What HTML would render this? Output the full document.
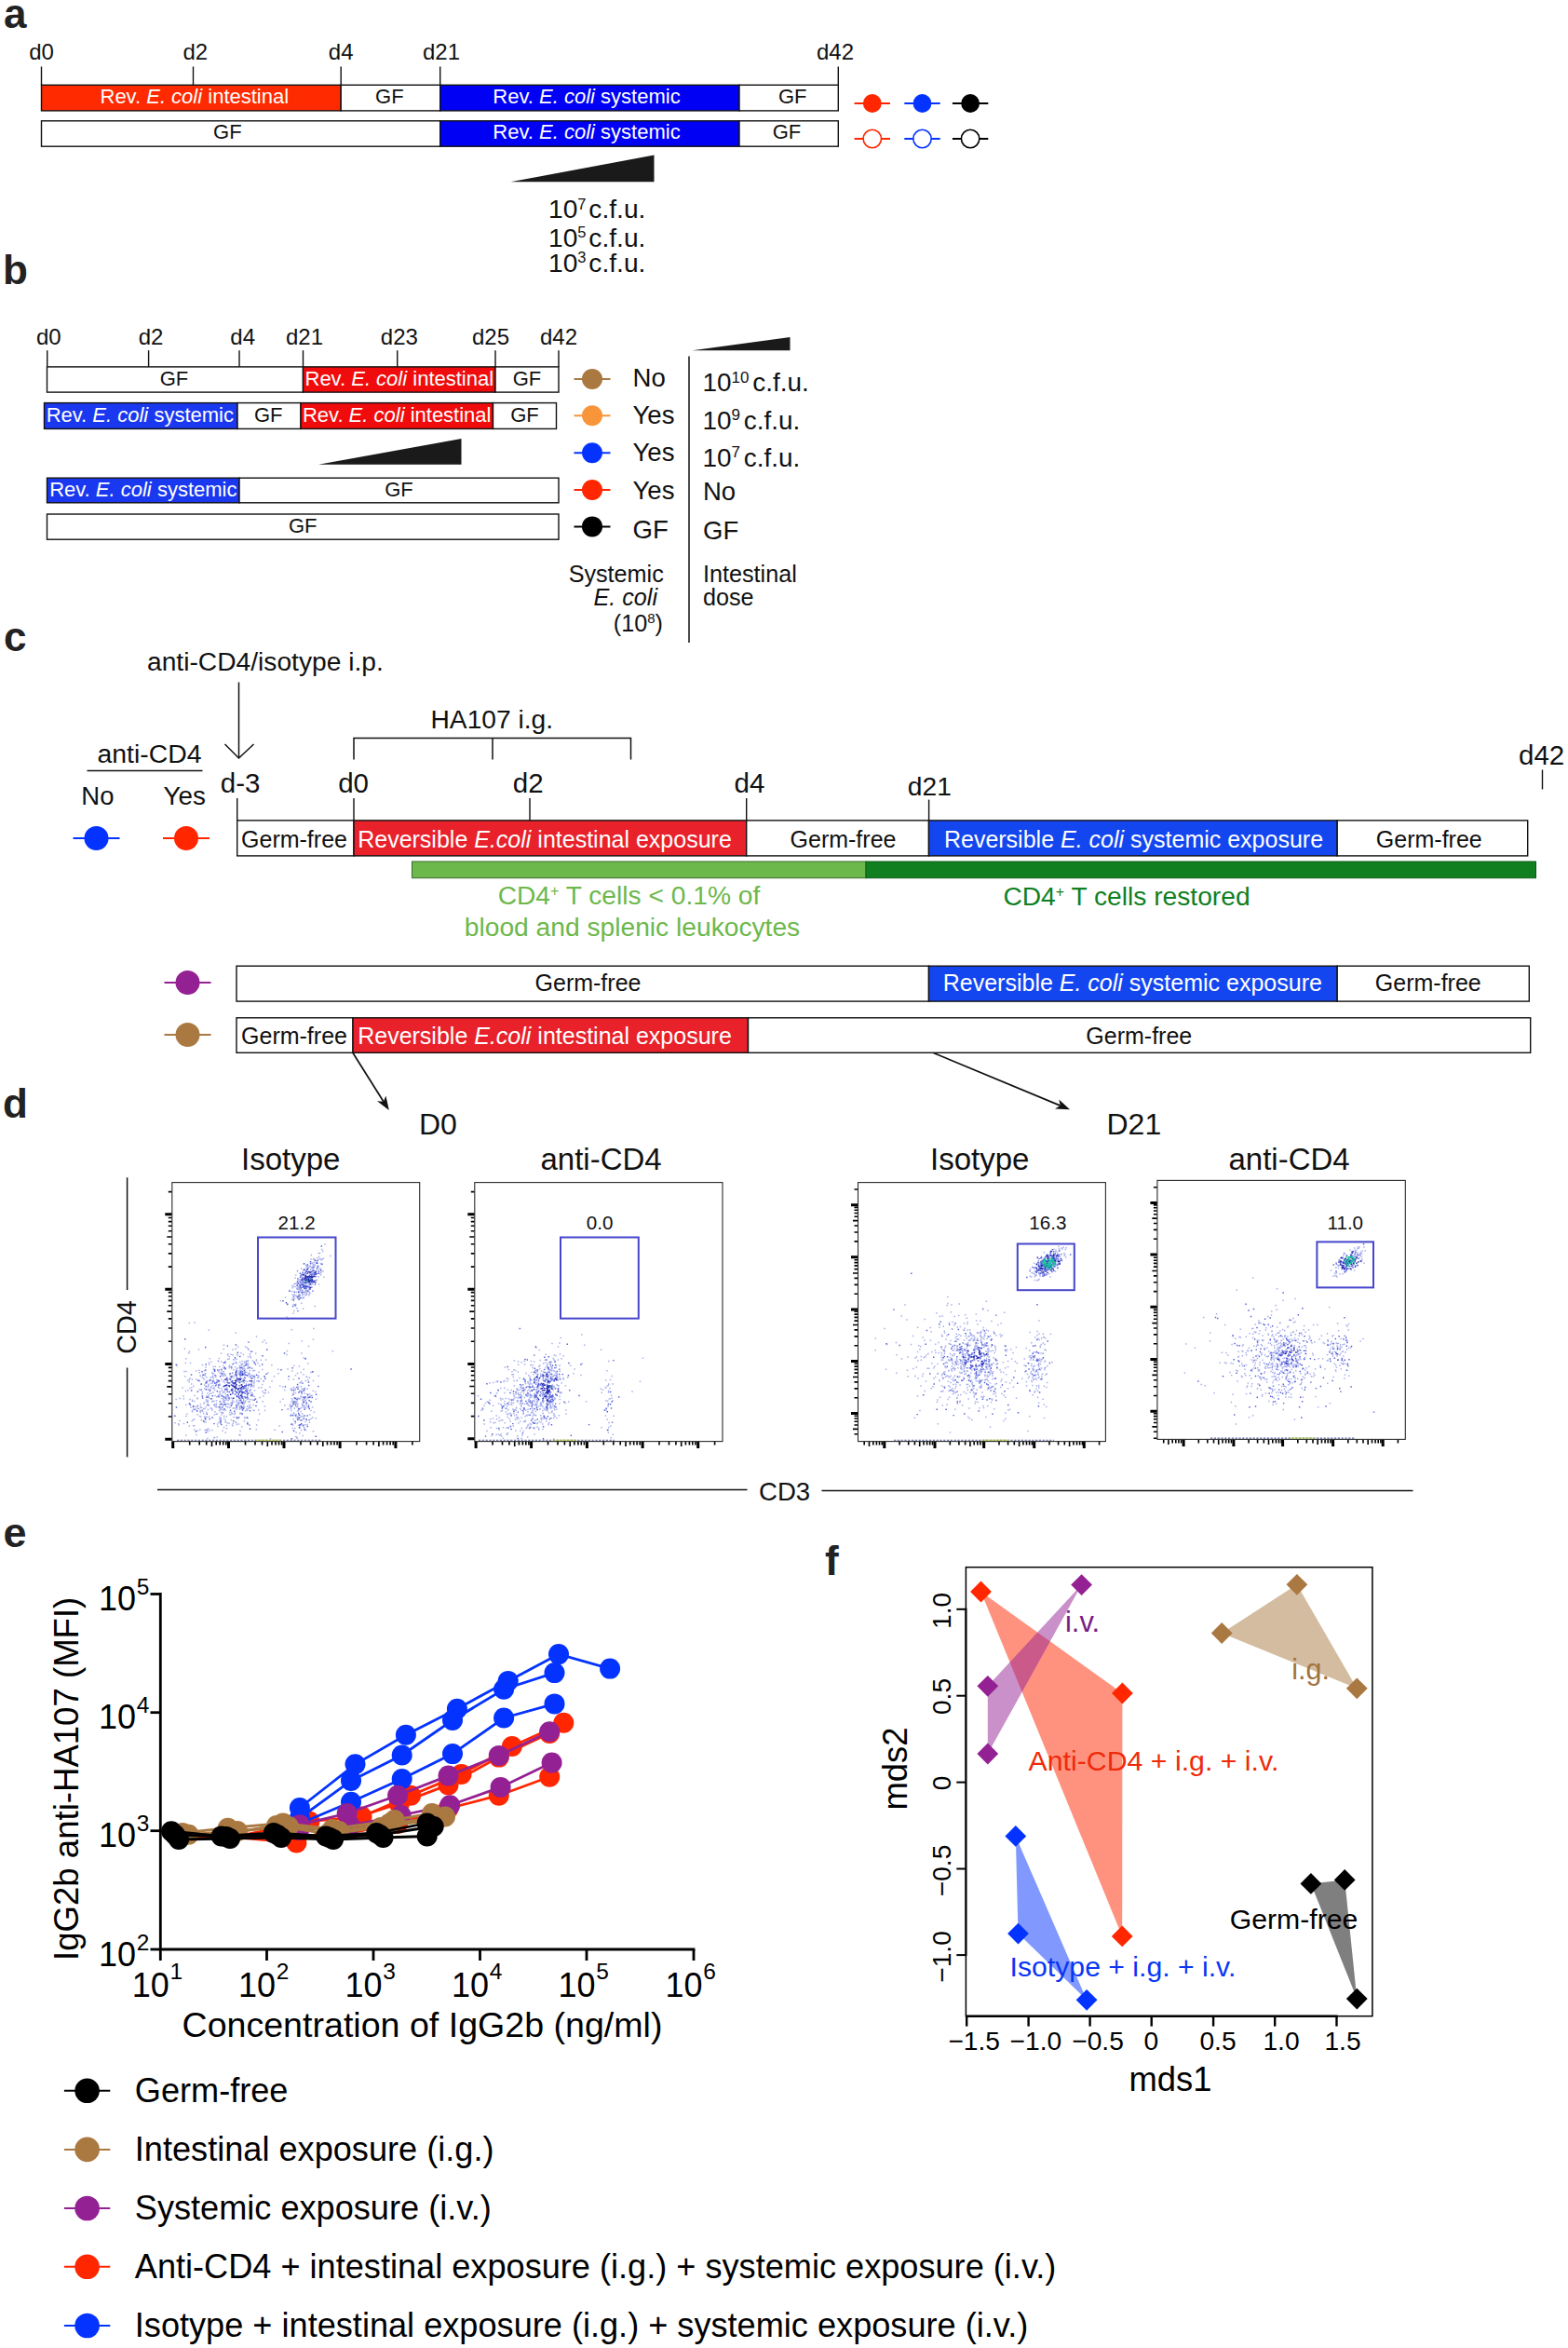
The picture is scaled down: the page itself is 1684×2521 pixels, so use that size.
<!DOCTYPE html>
<html lang="en"><head><meta charset="utf-8"><title>Figure</title>
<style>
html,body{margin:0;padding:0;background:#fff}
svg{display:block;font-family:"Liberation Sans",sans-serif}
text{white-space:pre}
</style></head><body>
<svg width="1684" height="2521" viewBox="0 0 1684 2521">
<rect width="1684" height="2521" fill="#fff"/>
<text x="4.0" y="29.5" font-size="44" text-anchor="start" fill="#222" font-weight="bold">a</text>
<line x1="44.5" y1="71.5" x2="44.5" y2="91.5" stroke="#111" stroke-width="1.4" />
<line x1="207.5" y1="71.5" x2="207.5" y2="91.5" stroke="#111" stroke-width="1.4" />
<line x1="366.2" y1="71.5" x2="366.2" y2="91.5" stroke="#111" stroke-width="1.4" />
<line x1="472.7" y1="71.5" x2="472.7" y2="91.5" stroke="#111" stroke-width="1.4" />
<line x1="900.3" y1="71.5" x2="900.3" y2="91.5" stroke="#111" stroke-width="1.4" />
<text x="31.2" y="63.6" font-size="24" text-anchor="start" fill="#111" >d0</text>
<text x="196.5" y="63.6" font-size="24" text-anchor="start" fill="#111" >d2</text>
<text x="352.8" y="63.6" font-size="24" text-anchor="start" fill="#111" >d4</text>
<text x="454.0" y="63.6" font-size="24" text-anchor="start" fill="#111" >d21</text>
<text x="877.0" y="63.6" font-size="24" text-anchor="start" fill="#111" >d42</text>
<rect x="44.5" y="91.3" width="321.7" height="27.6" fill="#ff2a00" stroke="#111" stroke-width="1.4"/>
<rect x="366.2" y="91.3" width="106.5" height="27.6" fill="#fff" stroke="#111" stroke-width="1.4"/>
<rect x="472.7" y="91.3" width="321.3" height="27.6" fill="#0000f5" stroke="#111" stroke-width="1.4"/>
<rect x="794.0" y="91.3" width="106.3" height="27.6" fill="#fff" stroke="#111" stroke-width="1.4"/>
<text x="208.8" y="111.3" font-size="22" text-anchor="middle" fill="#fff" >Rev. <tspan font-style="italic">E. coli</tspan> intestinal</text>
<text x="418.3" y="111.3" font-size="22" text-anchor="middle" fill="#111" >GF</text>
<text x="630.0" y="111.3" font-size="22" text-anchor="middle" fill="#fff" >Rev. <tspan font-style="italic">E. coli</tspan> systemic</text>
<text x="851.2" y="111.3" font-size="22" text-anchor="middle" fill="#111" >GF</text>
<rect x="44.5" y="129.8" width="428.2" height="27.4" fill="#fff" stroke="#111" stroke-width="1.4"/>
<rect x="472.7" y="129.8" width="321.3" height="27.4" fill="#0000f5" stroke="#111" stroke-width="1.4"/>
<rect x="794.0" y="129.8" width="106.3" height="27.4" fill="#fff" stroke="#111" stroke-width="1.4"/>
<text x="244.3" y="149.3" font-size="22" text-anchor="middle" fill="#111" >GF</text>
<text x="630.0" y="149.3" font-size="22" text-anchor="middle" fill="#fff" >Rev. <tspan font-style="italic">E. coli</tspan> systemic</text>
<text x="845.0" y="149.3" font-size="22" text-anchor="middle" fill="#111" >GF</text>
<polygon points="548.5,195.3 702.5,166.5 702.5,195.3" fill="#1a1a1a"/>
<text x="589.0" y="234.0" font-size="28.2" fill="#111">10<tspan font-size="16.5" dy="-9.5">7 </tspan><tspan x="632.3" dy="9.5">c.f.u.</tspan></text>
<text x="589.0" y="264.5" font-size="28.2" fill="#111">10<tspan font-size="16.5" dy="-9.5">5 </tspan><tspan x="632.3" dy="9.5">c.f.u.</tspan></text>
<text x="589.0" y="291.5" font-size="28.2" fill="#111">10<tspan font-size="16.5" dy="-9.5">3 </tspan><tspan x="632.3" dy="9.5">c.f.u.</tspan></text>
<line x1="917.6" y1="111.0" x2="956.0" y2="111.0" stroke="#ff2600" stroke-width="2" />
<circle cx="936.8" cy="111.0" r="9.9" fill="#ff2600"/>
<line x1="917.6" y1="149.0" x2="956.0" y2="149.0" stroke="#ff2600" stroke-width="2" />
<circle cx="936.8" cy="149.0" r="9.7" fill="#fff" stroke="#ff2600" stroke-width="1.6"/>
<line x1="971.3" y1="111.0" x2="1009.7" y2="111.0" stroke="#0433ff" stroke-width="2" />
<circle cx="990.5" cy="111.0" r="9.9" fill="#0433ff"/>
<line x1="971.3" y1="149.0" x2="1009.7" y2="149.0" stroke="#0433ff" stroke-width="2" />
<circle cx="990.5" cy="149.0" r="9.7" fill="#fff" stroke="#0433ff" stroke-width="1.6"/>
<line x1="1022.9" y1="111.0" x2="1061.3" y2="111.0" stroke="#000" stroke-width="2" />
<circle cx="1042.1" cy="111.0" r="9.9" fill="#000"/>
<line x1="1022.9" y1="149.0" x2="1061.3" y2="149.0" stroke="#000" stroke-width="2" />
<circle cx="1042.1" cy="149.0" r="9.7" fill="#fff" stroke="#000" stroke-width="1.6"/>
<text x="3.0" y="305.0" font-size="44" text-anchor="start" fill="#222" font-weight="bold">b</text>
<line x1="50.7" y1="376.2" x2="50.7" y2="393.9" stroke="#111" stroke-width="1.4" />
<line x1="159.6" y1="376.2" x2="159.6" y2="393.9" stroke="#111" stroke-width="1.4" />
<line x1="257.0" y1="376.2" x2="257.0" y2="393.9" stroke="#111" stroke-width="1.4" />
<line x1="325.5" y1="376.2" x2="325.5" y2="393.9" stroke="#111" stroke-width="1.4" />
<line x1="426.7" y1="376.2" x2="426.7" y2="393.9" stroke="#111" stroke-width="1.4" />
<line x1="532.0" y1="376.2" x2="532.0" y2="393.9" stroke="#111" stroke-width="1.4" />
<line x1="600.0" y1="376.2" x2="600.0" y2="393.9" stroke="#111" stroke-width="1.4" />
<text x="39.0" y="370.0" font-size="24" text-anchor="start" fill="#111" >d0</text>
<text x="148.7" y="370.0" font-size="24" text-anchor="start" fill="#111" >d2</text>
<text x="247.3" y="370.0" font-size="24" text-anchor="start" fill="#111" >d4</text>
<text x="307.0" y="370.0" font-size="24" text-anchor="start" fill="#111" >d21</text>
<text x="408.8" y="370.0" font-size="24" text-anchor="start" fill="#111" >d23</text>
<text x="507.0" y="370.0" font-size="24" text-anchor="start" fill="#111" >d25</text>
<text x="580.0" y="370.0" font-size="24" text-anchor="start" fill="#111" >d42</text>
<rect x="50.5" y="393.9" width="275.0" height="27.2" fill="#fff" stroke="#111" stroke-width="1.4"/>
<rect x="325.5" y="393.9" width="206.5" height="27.2" fill="#f00c0c" stroke="#111" stroke-width="1.4"/>
<rect x="532.0" y="393.9" width="68.0" height="27.2" fill="#fff" stroke="#111" stroke-width="1.4"/>
<text x="187.0" y="413.6" font-size="22" text-anchor="middle" fill="#111" >GF</text>
<text x="428.8" y="413.6" font-size="22" text-anchor="middle" fill="#fff" >Rev. <tspan font-style="italic">E. coli</tspan> intestinal</text>
<text x="566.0" y="413.6" font-size="22" text-anchor="middle" fill="#111" >GF</text>
<rect x="47.5" y="432.6" width="207.5" height="27.8" fill="#1a38f0" stroke="#111" stroke-width="1.4"/>
<rect x="255.0" y="432.6" width="68.0" height="27.8" fill="#fff" stroke="#111" stroke-width="1.4"/>
<rect x="323.0" y="432.6" width="206.5" height="27.8" fill="#f00c0c" stroke="#111" stroke-width="1.4"/>
<rect x="529.5" y="432.6" width="68.0" height="27.8" fill="#fff" stroke="#111" stroke-width="1.4"/>
<text x="150.3" y="453.2" font-size="22" text-anchor="middle" fill="#fff" >Rev. <tspan font-style="italic">E. coli</tspan> systemic</text>
<text x="288.2" y="453.2" font-size="22" text-anchor="middle" fill="#111" >GF</text>
<text x="426.2" y="453.2" font-size="22" text-anchor="middle" fill="#fff" >Rev. <tspan font-style="italic">E. coli</tspan> intestinal</text>
<text x="563.5" y="453.2" font-size="22" text-anchor="middle" fill="#111" >GF</text>
<polygon points="342,498.8 495.5,471 495.5,498.8" fill="#1a1a1a"/>
<rect x="50.5" y="513.2" width="206.5" height="26.6" fill="#1a38f0" stroke="#111" stroke-width="1.4"/>
<rect x="257.0" y="513.2" width="343.0" height="26.6" fill="#fff" stroke="#111" stroke-width="1.4"/>
<text x="153.8" y="533.2" font-size="22" text-anchor="middle" fill="#fff" >Rev. <tspan font-style="italic">E. coli</tspan> systemic</text>
<text x="428.5" y="533.2" font-size="22" text-anchor="middle" fill="#111" >GF</text>
<rect x="50.5" y="552.0" width="549.5" height="27.2" fill="#fff" stroke="#111" stroke-width="1.4"/>
<text x="325.2" y="571.8" font-size="22" text-anchor="middle" fill="#111" >GF</text>
<line x1="616.5" y1="406.9" x2="655.5" y2="406.9" stroke="#aa7942" stroke-width="2" />
<circle cx="636.0" cy="406.9" r="11" fill="#aa7942"/>
<text x="679.5" y="414.5" font-size="27.6" text-anchor="start" fill="#111" >No</text>
<line x1="616.5" y1="446.3" x2="655.5" y2="446.3" stroke="#f8943a" stroke-width="2" />
<circle cx="636.0" cy="446.3" r="11" fill="#f8943a"/>
<text x="679.5" y="455.2" font-size="27.6" text-anchor="start" fill="#111" >Yes</text>
<line x1="616.5" y1="486.2" x2="655.5" y2="486.2" stroke="#0433ff" stroke-width="2" />
<circle cx="636.0" cy="486.2" r="11" fill="#0433ff"/>
<text x="679.5" y="495.2" font-size="27.6" text-anchor="start" fill="#111" >Yes</text>
<line x1="616.5" y1="526.0" x2="655.5" y2="526.0" stroke="#ff2600" stroke-width="2" />
<circle cx="636.0" cy="526.0" r="11" fill="#ff2600"/>
<text x="679.5" y="536.2" font-size="27.6" text-anchor="start" fill="#111" >Yes</text>
<line x1="616.5" y1="565.4" x2="655.5" y2="565.4" stroke="#000" stroke-width="2" />
<circle cx="636.0" cy="565.4" r="11" fill="#000"/>
<text x="679.5" y="577.8" font-size="27.6" text-anchor="start" fill="#111" >GF</text>
<line x1="740.0" y1="382.5" x2="740.0" y2="690.0" stroke="#111" stroke-width="1.5" />
<polygon points="743.5,376.3 848.5,362 848.5,376.3" fill="#1a1a1a"/>
<text x="754.5" y="420.0" font-size="27.9" fill="#111">10<tspan font-size="17" dy="-9.5">10 </tspan><tspan x="808.3" dy="9.5">c.f.u.</tspan></text>
<text x="754.5" y="460.6" font-size="27.9" fill="#111">10<tspan font-size="17" dy="-9.5">9 </tspan><tspan x="798.8" dy="9.5">c.f.u.</tspan></text>
<text x="754.5" y="500.8" font-size="27.9" fill="#111">10<tspan font-size="17" dy="-9.5">7 </tspan><tspan x="798.8" dy="9.5">c.f.u.</tspan></text>
<text x="755.0" y="536.6" font-size="27.5" text-anchor="start" fill="#111" >No</text>
<text x="755.0" y="578.6" font-size="27.5" text-anchor="start" fill="#111" >GF</text>
<text x="712.8" y="625.0" font-size="25.2" text-anchor="end" fill="#111" >Systemic</text>
<text x="706.0" y="650.0" font-size="25.2" text-anchor="end" fill="#111" ><tspan font-style="italic">E. coli</tspan></text>
<text x="712.0" y="677.5" font-size="25.2" text-anchor="end" fill="#111" >(10<tspan font-size="15" dy="-8.5">8</tspan><tspan dy="8.5">)</tspan></text>
<text x="755.0" y="625.0" font-size="25.2" text-anchor="start" fill="#111" >Intestinal</text>
<text x="755.0" y="650.0" font-size="25.2" text-anchor="start" fill="#111" >dose</text>
<text x="4.0" y="698.6" font-size="44" text-anchor="start" fill="#222" font-weight="bold">c</text>
<text x="158.0" y="720.0" font-size="28.2" text-anchor="start" fill="#111" >anti-CD4/isotype i.p.</text>
<line x1="256.5" y1="732.5" x2="256.5" y2="813.0" stroke="#111" stroke-width="1.5" />
<polyline points="241.5,799 256.5,814 272.5,799" fill="none" stroke="#111" stroke-width="1.5"/>
<text x="462.5" y="781.5" font-size="28.2" text-anchor="start" fill="#111" >HA107 i.g.</text>
<polyline points="380,815.6 380,792.5 677.5,792.5 677.5,815.6" fill="none" stroke="#111" stroke-width="1.5"/>
<line x1="529.0" y1="792.5" x2="529.0" y2="815.6" stroke="#111" stroke-width="1.5" />
<text x="104.5" y="819.0" font-size="28.4" text-anchor="start" fill="#111" >anti-CD4</text>
<line x1="93.5" y1="827.5" x2="217.5" y2="827.5" stroke="#111" stroke-width="1.5" />
<text x="87.3" y="864.0" font-size="27.5" text-anchor="start" fill="#111" >No</text>
<text x="175.5" y="864.0" font-size="27.8" text-anchor="start" fill="#111" >Yes</text>
<line x1="78.5" y1="900.0" x2="128.5" y2="900.0" stroke="#0433ff" stroke-width="2" />
<circle cx="103.5" cy="900.0" r="13" fill="#0433ff"/>
<line x1="175.0" y1="900.0" x2="225.0" y2="900.0" stroke="#ff2600" stroke-width="2" />
<circle cx="200.0" cy="900.0" r="13" fill="#ff2600"/>
<text x="236.8" y="850.5" font-size="29.5" text-anchor="start" fill="#111" >d-3</text>
<text x="363.2" y="850.5" font-size="29.5" text-anchor="start" fill="#111" >d0</text>
<text x="550.8" y="850.5" font-size="29.5" text-anchor="start" fill="#111" >d2</text>
<text x="788.5" y="850.5" font-size="29.5" text-anchor="start" fill="#111" >d4</text>
<text x="974.8" y="854.4" font-size="28.2" text-anchor="start" fill="#111" >d21</text>
<text x="1631.0" y="821.0" font-size="29.5" text-anchor="start" fill="#111" >d42</text>
<line x1="254.7" y1="857.0" x2="254.7" y2="881.0" stroke="#111" stroke-width="1.4" />
<line x1="380.0" y1="857.0" x2="380.0" y2="881.0" stroke="#111" stroke-width="1.4" />
<line x1="569.0" y1="857.0" x2="569.0" y2="881.0" stroke="#111" stroke-width="1.4" />
<line x1="801.7" y1="857.0" x2="801.7" y2="881.0" stroke="#111" stroke-width="1.4" />
<line x1="997.6" y1="858.6" x2="997.6" y2="881.0" stroke="#111" stroke-width="1.4" />
<line x1="1656.5" y1="826.5" x2="1656.5" y2="847.5" stroke="#111" stroke-width="1.4" />
<rect x="254.7" y="880.9" width="125.3" height="38.0" fill="#fff" stroke="#111" stroke-width="1.4"/>
<rect x="380.0" y="880.9" width="421.7" height="38.0" fill="#e8212b" stroke="#111" stroke-width="1.4"/>
<rect x="801.7" y="880.9" width="195.8" height="38.0" fill="#fff" stroke="#111" stroke-width="1.4"/>
<rect x="997.5" y="880.9" width="438.7" height="38.0" fill="#1446f0" stroke="#111" stroke-width="1.4"/>
<rect x="1436.2" y="880.9" width="204.5" height="38.0" fill="#fff" stroke="#111" stroke-width="1.4"/>
<text x="316.0" y="909.5" font-size="25" text-anchor="middle" fill="#111" >Germ-free</text>
<text x="585.0" y="909.5" font-size="25" text-anchor="middle" fill="#fff" >Reversible <tspan font-style="italic">E.coli</tspan> intestinal exposure</text>
<text x="905.5" y="909.5" font-size="25" text-anchor="middle" fill="#111" >Germ-free</text>
<text x="1217.5" y="909.5" font-size="25" text-anchor="middle" fill="#fff" >Reversible <tspan font-style="italic">E. coli</tspan> systemic exposure</text>
<text x="1534.8" y="909.5" font-size="25" text-anchor="middle" fill="#111" >Germ-free</text>
<rect x="442.5" y="925.0" width="487.5" height="17.7" fill="#6db84b" stroke="#3a6a2a" stroke-width="1"/>
<rect x="930.0" y="925.0" width="719.5" height="17.7" fill="#0f7f1f" stroke="#0a5a15" stroke-width="1"/>
<text x="675.5" y="971.0" font-size="28.2" text-anchor="middle" fill="#6db84b" >CD4<tspan font-size="16" dy="-9">+</tspan><tspan dy="9"> T cells &lt; 0.1% of</tspan></text>
<text x="679.0" y="1005.0" font-size="28.2" text-anchor="middle" fill="#6db84b" >blood and splenic leukocytes</text>
<text x="1210.0" y="972.0" font-size="28.2" text-anchor="middle" fill="#0f7f1f" >CD4<tspan font-size="16" dy="-9">+</tspan><tspan dy="9"> T cells restored</tspan></text>
<line x1="176.5" y1="1055.0" x2="226.5" y2="1055.0" stroke="#942193" stroke-width="2" />
<circle cx="201.5" cy="1055.0" r="13" fill="#942193"/>
<line x1="176.5" y1="1111.0" x2="226.5" y2="1111.0" stroke="#aa7942" stroke-width="2" />
<circle cx="201.5" cy="1111.0" r="13" fill="#aa7942"/>
<rect x="254.0" y="1037.2" width="743.5" height="37.9" fill="#fff" stroke="#111" stroke-width="1.4"/>
<rect x="997.5" y="1037.2" width="438.7" height="37.9" fill="#1446f0" stroke="#111" stroke-width="1.4"/>
<rect x="1436.2" y="1037.2" width="206.1" height="37.9" fill="#fff" stroke="#111" stroke-width="1.4"/>
<text x="631.5" y="1064.4" font-size="25" text-anchor="middle" fill="#111" >Germ-free</text>
<text x="1216.3" y="1064.4" font-size="25" text-anchor="middle" fill="#fff" >Reversible <tspan font-style="italic">E. coli</tspan> systemic exposure</text>
<text x="1533.8" y="1064.4" font-size="25" text-anchor="middle" fill="#111" >Germ-free</text>
<rect x="254.0" y="1092.8" width="125.0" height="37.5" fill="#fff" stroke="#111" stroke-width="1.4"/>
<rect x="379.0" y="1092.8" width="424.5" height="37.5" fill="#e8212b" stroke="#111" stroke-width="1.4"/>
<rect x="803.5" y="1092.8" width="840.2" height="37.5" fill="#fff" stroke="#111" stroke-width="1.4"/>
<text x="316.0" y="1120.6" font-size="25" text-anchor="middle" fill="#111" >Germ-free</text>
<text x="585.0" y="1120.6" font-size="25" text-anchor="middle" fill="#fff" >Reversible <tspan font-style="italic">E.coli</tspan> intestinal exposure</text>
<text x="1223.3" y="1120.6" font-size="25" text-anchor="middle" fill="#111" >Germ-free</text>
<line x1="379.0" y1="1130.5" x2="411.9" y2="1182.7" stroke="#111" stroke-width="1.7" />
<polygon points="417.8,1192.0 405.1,1182.2 411.9,1182.7 414.4,1176.4" fill="#111"/>
<line x1="1002.5" y1="1130.5" x2="1138.8" y2="1187.1" stroke="#111" stroke-width="1.7" />
<polygon points="1149.0,1191.3 1133.0,1190.6 1138.8,1187.1 1137.3,1180.5" fill="#111"/>
<text x="3.0" y="1200.0" font-size="44" text-anchor="start" fill="#222" font-weight="bold">d</text>
<text x="450.0" y="1217.5" font-size="32" text-anchor="start" fill="#111" >D0</text>
<text x="1188.5" y="1217.5" font-size="32" text-anchor="start" fill="#111" >D21</text>
<text x="259.0" y="1255.7" font-size="33" text-anchor="start" fill="#111" >Isotype</text>
<text x="580.5" y="1255.7" font-size="33" text-anchor="start" fill="#111" >anti-CD4</text>
<text x="999.0" y="1255.7" font-size="33" text-anchor="start" fill="#111" >Isotype</text>
<text x="1319.5" y="1255.7" font-size="33" text-anchor="start" fill="#111" >anti-CD4</text>
<line x1="136.6" y1="1264.3" x2="136.6" y2="1385.0" stroke="#111" stroke-width="1.5" />
<line x1="136.6" y1="1468.5" x2="136.6" y2="1564.4" stroke="#111" stroke-width="1.5" />
<text transform="translate(146,1425) rotate(-90)" font-size="28.8" text-anchor="middle" fill="#111">CD4</text>
<line x1="169.0" y1="1599.5" x2="802.5" y2="1599.5" stroke="#111" stroke-width="1.5" />
<line x1="882.5" y1="1600.5" x2="1517.5" y2="1600.5" stroke="#111" stroke-width="1.5" />
<text x="815.0" y="1611.0" font-size="27.6" text-anchor="start" fill="#111" >CD3</text>
<path d="M203.7,1547.6v4M214.2,1547.6v4M221.7,1547.6v4M227.5,1547.6v5.5M232.2,1547.6v4M236.2,1547.6v4M239.7,1547.6v4M242.8,1547.6v4M263.5,1547.6v4M274.0,1547.6v4M281.5,1547.6v4M287.3,1547.6v5.5M292.0,1547.6v4M296.0,1547.6v4M299.5,1547.6v4M302.6,1547.6v4M323.0,1547.6v4M333.5,1547.6v4M341.0,1547.6v4M346.8,1547.6v5.5M351.5,1547.6v4M355.5,1547.6v4M359.0,1547.6v4M362.1,1547.6v4M383.1,1547.6v4M393.6,1547.6v4M401.1,1547.6v4M406.9,1547.6v5.5M411.6,1547.6v4M415.6,1547.6v4M419.1,1547.6v4M422.2,1547.6v4M442.9,1547.6v4M184.8,1279.6h-4M184.8,1360.1h-4M184.8,1345.9h-4M184.8,1335.8h-4M184.8,1328.0h-5.5M184.8,1321.7h-4M184.8,1316.3h-4M184.8,1311.6h-4M184.8,1307.5h-4M184.8,1440.2h-4M184.8,1426.0h-4M184.8,1415.9h-4M184.8,1408.1h-5.5M184.8,1401.8h-4M184.8,1396.4h-4M184.8,1391.7h-4M184.8,1387.6h-4M184.8,1521.0h-4M184.8,1506.8h-4M184.8,1496.7h-4M184.8,1488.9h-5.5M184.8,1482.6h-4M184.8,1477.2h-4M184.8,1472.5h-4M184.8,1468.4h-4" stroke="#000" stroke-width="1.6" fill="none"/>
<path d="M185.7,1547.6v7.5M245.5,1547.6v7.5M305.0,1547.6v7.5M365.1,1547.6v7.5M424.9,1547.6v7.5M184.8,1303.8h-7.5M184.8,1384.3h-7.5M184.8,1464.4h-7.5M184.8,1545.2h-7.5" stroke="#000" stroke-width="3" fill="none"/>
<rect x="184.8" y="1269.6" width="265.9" height="278.0" fill="#fff" stroke="#2a2a2a" stroke-width="1.1"/>
<path d="M230.3,1498.6h1.5M267.4,1475.5h1.5M228.1,1490.6h1.5M261.5,1507.3h1.5M230.5,1467.2h1.5M264.1,1494.9h1.5M239.5,1468.9h1.5M268.5,1488.8h1.5M218.4,1506.3h1.5M226.2,1488.8h1.5M225.1,1492.2h1.5M239.7,1494.2h1.5M293.7,1477.7h1.5M265.6,1460.7h1.5M262.4,1471.1h1.5M277.4,1473.2h1.5M263.8,1486.1h1.5M266.9,1474.0h1.5M270.4,1496.1h1.5M264.8,1494.6h1.5M258.1,1476.2h1.5M234.7,1483.4h1.5M262.8,1514.7h1.5M267.2,1505.0h1.5M264.9,1498.9h1.5M258.1,1502.0h1.5M276.3,1476.8h1.5M241.4,1526.8h1.5M266.0,1464.2h1.5M283.8,1514.4h1.5M258.0,1501.6h1.5M257.5,1471.0h1.5M253.6,1495.3h1.5M256.7,1513.3h1.5M240.0,1505.1h1.5M268.7,1479.3h1.5M218.4,1476.1h1.5M258.7,1497.2h1.5M265.2,1529.1h1.5M267.5,1467.9h1.5M247.3,1493.3h1.5M257.3,1516.9h1.5M254.3,1523.2h1.5M264.2,1512.7h1.5M263.5,1491.8h1.5M217.7,1479.8h1.5M243.2,1479.7h1.5M262.7,1480.0h1.5M265.0,1487.3h1.5M260.9,1502.9h1.5M246.0,1485.0h1.5M272.6,1480.5h1.5M246.0,1466.1h1.5M257.9,1491.4h1.5M280.9,1486.4h1.5M239.7,1444.3h1.5M272.1,1487.5h1.5M222.2,1496.0h1.5M268.8,1495.6h1.5M252.3,1448.3h1.5M253.3,1459.2h1.5M262.8,1446.1h1.5M236.9,1513.5h1.5M274.8,1461.1h1.5M223.8,1508.9h1.5M265.8,1467.0h1.5M241.4,1476.9h1.5M231.0,1478.6h1.5M270.3,1497.4h1.5M279.5,1480.5h1.5M253.2,1469.9h1.5M253.4,1463.7h1.5M218.7,1506.2h1.5M272.5,1499.6h1.5M271.2,1488.9h1.5M240.9,1491.7h1.5M248.1,1468.2h1.5M246.0,1516.2h1.5M214.6,1507.7h1.5M241.5,1514.6h1.5M264.7,1446.7h1.5M264.2,1473.3h1.5M240.1,1482.0h1.5M264.8,1502.4h1.5M267.6,1453.9h1.5M240.0,1494.8h1.5M238.8,1474.8h1.5M240.0,1523.1h1.5M249.0,1465.3h1.5M242.5,1520.8h1.5M240.3,1475.3h1.5M235.0,1470.9h1.5M250.4,1477.3h1.5M243.0,1491.6h1.5M268.9,1486.2h1.5M253.3,1505.5h1.5M226.8,1512.6h1.5M272.7,1471.5h1.5M264.6,1500.9h1.5M223.5,1463.2h1.5M270.8,1461.2h1.5M268.0,1477.8h1.5M249.2,1454.8h1.5M235.0,1467.6h1.5M261.6,1525.8h1.5M287.2,1473.9h1.5M219.9,1485.3h1.5M262.5,1472.7h1.5M266.7,1495.4h1.5M221.9,1482.6h1.5M237.2,1519.0h1.5M222.5,1489.4h1.5M265.4,1461.4h1.5M268.5,1477.6h1.5M260.6,1484.3h1.5M247.5,1518.5h1.5M239.6,1472.7h1.5M264.1,1465.9h1.5M248.2,1506.1h1.5M261.8,1521.9h1.5M231.8,1486.3h1.5M269.5,1480.3h1.5M225.4,1511.9h1.5M233.5,1482.7h1.5M234.9,1486.2h1.5M281.0,1470.4h1.5M264.5,1500.2h1.5M237.9,1492.9h1.5M261.7,1510.9h1.5M248.9,1473.7h1.5M270.6,1503.0h1.5M265.8,1501.2h1.5M233.9,1487.2h1.5M240.6,1503.7h1.5M243.8,1487.6h1.5M260.6,1512.3h1.5M239.4,1472.6h1.5M265.3,1464.9h1.5M253.8,1454.1h1.5M260.7,1480.3h1.5M257.2,1517.9h1.5M255.4,1496.5h1.5M261.9,1469.4h1.5M257.5,1478.2h1.5M229.8,1507.9h1.5M236.9,1452.9h1.5M261.5,1484.8h1.5M224.1,1491.8h1.5M232.1,1484.0h1.5M274.7,1435.1h1.5M260.6,1483.1h1.5M282.0,1499.0h1.5M245.1,1508.1h1.5M243.7,1455.1h1.5M261.3,1505.5h1.5M254.6,1469.1h1.5M258.3,1498.0h1.5M272.1,1463.0h1.5M244.3,1453.8h1.5M241.3,1476.1h1.5M276.5,1479.2h1.5M253.6,1529.6h1.5M254.7,1455.6h1.5M260.6,1469.2h1.5M274.7,1459.9h1.5M243.8,1459.5h1.5M257.1,1468.6h1.5M243.1,1507.5h1.5M259.1,1532.1h1.5M235.6,1486.9h1.5M272.4,1483.9h1.5M245.3,1459.1h1.5M230.2,1471.1h1.5M255.1,1507.1h1.5M255.7,1528.9h1.5M270.5,1479.4h1.5M272.3,1483.1h1.5M227.0,1473.7h1.5M281.3,1493.8h1.5M262.9,1504.2h1.5M262.5,1505.6h1.5M267.2,1478.6h1.5M228.1,1487.5h1.5M244.6,1501.1h1.5M240.9,1470.1h1.5M249.0,1518.1h1.5M256.1,1493.5h1.5M266.6,1511.6h1.5M278.2,1500.6h1.5M234.4,1500.1h1.5M264.4,1483.5h1.5M207.1,1488.2h1.5M252.0,1467.7h1.5M276.9,1478.2h1.5M239.5,1475.7h1.5M226.8,1501.8h1.5M240.3,1494.2h1.5M237.0,1480.9h1.5M258.5,1464.6h1.5M254.5,1474.4h1.5M259.4,1461.4h1.5M245.2,1467.2h1.5M231.1,1476.9h1.5M256.2,1475.8h1.5M256.2,1540.4h1.5M276.3,1463.5h1.5M253.1,1508.0h1.5M248.1,1487.2h1.5M270.7,1498.9h1.5M239.2,1505.6h1.5M258.6,1504.1h1.5M261.8,1462.1h1.5M241.6,1496.6h1.5M260.0,1470.2h1.5M243.9,1510.7h1.5M254.8,1445.9h1.5M260.2,1490.7h1.5M249.0,1474.4h1.5M250.9,1460.1h1.5M234.8,1514.4h1.5M249.1,1465.3h1.5M279.6,1460.3h1.5M266.5,1474.9h1.5M259.2,1472.1h1.5M247.3,1506.5h1.5M278.2,1466.5h1.5M256.1,1505.8h1.5M242.8,1503.1h1.5M239.5,1501.6h1.5M261.0,1509.5h1.5M260.2,1464.6h1.5M263.6,1465.4h1.5M264.6,1514.2h1.5M229.9,1484.9h1.5M272.2,1478.2h1.5M220.6,1483.2h1.5M260.1,1490.9h1.5M252.3,1448.4h1.5M267.7,1509.5h1.5M246.7,1477.9h1.5M259.6,1518.5h1.5M241.0,1500.5h1.5M229.9,1492.5h1.5M250.0,1459.8h1.5M266.1,1475.6h1.5M263.8,1461.3h1.5M268.5,1457.8h1.5M268.0,1451.0h1.5M271.8,1477.0h1.5M223.3,1488.0h1.5M259.9,1468.4h1.5M252.5,1430.9h1.5M259.4,1506.1h1.5M241.5,1537.9h1.5M265.1,1491.6h1.5M268.4,1502.8h1.5M257.2,1476.1h1.5M257.7,1517.3h1.5M265.0,1513.7h1.5M246.0,1511.3h1.5M261.3,1467.1h1.5M253.1,1527.6h1.5M205.6,1481.0h1.5M282.4,1495.4h1.5M259.6,1469.5h1.5M247.5,1477.6h1.5M230.1,1515.7h1.5M249.4,1463.9h1.5M259.7,1496.2h1.5M248.9,1502.1h1.5M212.8,1448.9h1.5M267.5,1511.3h1.5M268.1,1456.3h1.5M270.6,1477.5h1.5M260.3,1482.8h1.5M231.3,1485.2h1.5M249.2,1503.9h1.5M223.4,1498.5h1.5M235.6,1512.9h1.5M265.0,1497.4h1.5M264.0,1462.0h1.5M267.1,1486.7h1.5M291.3,1483.0h1.5M258.4,1475.2h1.5M237.4,1507.0h1.5M250.3,1505.0h1.5M231.7,1508.7h1.5M255.4,1500.6h1.5M253.8,1471.6h1.5M269.8,1476.4h1.5M252.9,1471.8h1.5M241.5,1463.5h1.5M260.9,1504.0h1.5M266.6,1475.9h1.5M225.8,1490.1h1.5M258.2,1452.8h1.5M276.1,1479.2h1.5M239.3,1513.1h1.5M219.0,1491.1h1.5M263.2,1463.2h1.5M266.6,1512.2h1.5M267.8,1471.5h1.5M267.4,1508.3h1.5M247.4,1454.3h1.5M263.4,1493.2h1.5M227.2,1478.5h1.5M232.9,1529.1h1.5M240.9,1506.1h1.5M277.9,1518.1h1.5M272.3,1514.5h1.5M240.7,1484.6h1.5M262.4,1463.2h1.5M271.3,1508.6h1.5M245.3,1528.3h1.5M256.9,1512.3h1.5M263.1,1488.6h1.5M283.0,1477.6h1.5M246.2,1475.8h1.5M235.3,1507.8h1.5M238.8,1483.3h1.5M250.4,1479.5h1.5M271.0,1477.8h1.5M234.8,1494.5h1.5M188.4,1502.6h1.5M267.8,1453.7h1.5M237.2,1501.4h1.5M214.3,1477.2h1.5M230.7,1487.7h1.5M214.6,1510.4h1.5M249.1,1449.1h1.5M252.8,1463.3h1.5M256.1,1472.0h1.5M234.9,1490.6h1.5M272.7,1493.1h1.5M234.7,1458.4h1.5M214.5,1477.1h1.5M266.1,1501.9h1.5M256.4,1503.7h1.5M252.6,1494.5h1.5M240.2,1500.7h1.5M280.0,1489.8h1.5M247.2,1509.8h1.5M284.8,1460.0h1.5M242.6,1530.6h1.5M283.3,1438.9h1.5M274.7,1461.1h1.5M253.4,1478.5h1.5M239.5,1448.5h1.5M252.6,1476.4h1.5M237.0,1462.0h1.5M257.3,1503.4h1.5M271.2,1471.8h1.5M283.6,1509.9h1.5M232.0,1499.7h1.5M264.0,1494.0h1.5M256.3,1473.8h1.5M251.2,1511.9h1.5M265.5,1522.5h1.5M219.8,1521.6h1.5M242.8,1489.8h1.5M227.6,1482.5h1.5M236.4,1511.9h1.5M258.8,1465.1h1.5M245.8,1468.5h1.5M262.7,1482.8h1.5M244.0,1481.0h1.5M222.3,1504.4h1.5M260.6,1454.5h1.5M257.2,1509.4h1.5M228.7,1474.7h1.5M217.7,1476.4h1.5M269.3,1487.1h1.5M235.2,1498.9h1.5M252.9,1521.9h1.5M278.4,1500.5h1.5M232.1,1481.4h1.5M262.0,1499.4h1.5M265.6,1489.9h1.5M253.4,1513.3h1.5M274.0,1501.9h1.5M260.1,1499.7h1.5M265.4,1509.9h1.5M265.8,1456.7h1.5M254.8,1509.2h1.5M218.0,1512.6h1.5M244.5,1498.8h1.5M248.7,1504.3h1.5M212.9,1512.6h1.5M220.8,1504.4h1.5M314.6,1517.1h1.5M233.5,1461.1h1.5M232.5,1518.2h1.5M214.5,1516.4h1.5M255.6,1506.0h1.5M207.9,1530.8h1.5M190.9,1528.8h1.5M196.7,1528.4h1.5M235.2,1521.7h1.5M243.3,1527.7h1.5M239.0,1513.9h1.5M219.8,1524.4h1.5M269.2,1498.5h1.5M222.5,1506.3h1.5M221.1,1478.7h1.5M229.2,1504.6h1.5M225.5,1481.5h1.5M220.4,1510.6h1.5M234.1,1461.7h1.5M234.4,1497.3h1.5M218.8,1521.3h1.5M276.6,1524.8h1.5M221.3,1499.0h1.5M214.9,1510.9h1.5M244.4,1503.5h1.5M224.5,1496.6h1.5M216.5,1496.5h1.5M224.1,1464.9h1.5M222.2,1537.2h1.5M223.8,1521.3h1.5M231.6,1506.8h1.5M266.2,1505.2h1.5M202.1,1452.8h1.5M238.4,1535.9h1.5M197.6,1448.2h1.5M222.4,1492.3h1.5M253.8,1508.7h1.5M215.6,1524.8h1.5M227.2,1513.9h1.5M205.8,1515.7h1.5M249.2,1530.8h1.5M230.7,1510.6h1.5M215.1,1521.1h1.5M228.3,1495.1h1.5M210.8,1514.4h1.5M254.4,1509.4h1.5M258.6,1509.4h1.5M204.9,1486.1h1.5M220.9,1516.3h1.5M253.7,1503.3h1.5M227.1,1535.5h1.5M241.5,1524.9h1.5M207.9,1523.9h1.5M271.8,1485.4h1.5M207.2,1513.2h1.5M222.0,1544.5h1.5M236.1,1496.4h1.5M250.3,1521.5h1.5M221.2,1521.2h1.5M244.7,1498.0h1.5M236.6,1516.2h1.5M221.9,1484.1h1.5M214.9,1511.0h1.5M192.3,1501.4h1.5M195.3,1490.0h1.5M253.0,1495.8h1.5M199.1,1541.1h1.5M214.0,1535.1h1.5M216.7,1465.6h1.5M277.3,1489.9h1.5M249.5,1528.2h1.5M196.6,1501.8h1.5M215.4,1514.4h1.5M229.8,1470.3h1.5M231.6,1518.1h1.5M222.6,1513.4h1.5M239.0,1503.5h1.5M262.5,1522.5h1.5M251.6,1517.1h1.5M234.1,1472.8h1.5M257.2,1541.1h1.5M235.9,1494.2h1.5M237.5,1477.1h1.5M225.8,1482.1h1.5M225.1,1479.1h1.5M207.9,1535.0h1.5M256.9,1462.4h1.5M205.2,1489.7h1.5M220.3,1467.7h1.5M252.8,1462.3h1.5M247.9,1516.5h1.5M231.7,1503.7h1.5M219.6,1476.9h1.5M269.2,1511.4h1.5M243.1,1499.5h1.5M227.1,1504.9h1.5M201.2,1492.7h1.5M214.3,1514.7h1.5M245.5,1456.4h1.5M197.3,1472.4h1.5M218.7,1471.7h1.5M235.6,1510.2h1.5M227.7,1504.2h1.5M216.7,1494.6h1.5M215.3,1486.4h1.5M234.2,1527.3h1.5M216.6,1513.9h1.5M239.0,1502.8h1.5M244.5,1507.2h1.5M203.2,1502.5h1.5M239.2,1477.4h1.5M260.7,1510.8h1.5M209.9,1472.1h1.5M285.1,1442.0h1.5M227.5,1485.3h1.5M245.6,1502.4h1.5M237.5,1506.4h1.5M202.5,1531.1h1.5M218.5,1526.8h1.5M247.8,1501.1h1.5M192.2,1525.6h1.5M250.8,1463.8h1.5M241.9,1499.0h1.5M224.5,1482.5h1.5M234.8,1497.2h1.5M213.5,1492.0h1.5M203.8,1463.5h1.5M205.5,1525.7h1.5M217.2,1515.4h1.5M249.0,1488.1h1.5M249.5,1512.1h1.5M229.1,1483.5h1.5M228.6,1469.9h1.5M223.1,1486.4h1.5M241.4,1508.2h1.5M213.7,1520.6h1.5M260.7,1501.7h1.5M211.2,1512.1h1.5M211.2,1536.3h1.5M289.8,1544.7h1.5M235.1,1524.1h1.5M225.6,1485.6h1.5M224.3,1535.7h1.5M239.9,1520.6h1.5M244.7,1499.1h1.5M218.9,1487.0h1.5M189.5,1466.5h1.5M196.3,1499.1h1.5M267.4,1530.1h1.5M219.5,1475.5h1.5M216.3,1478.4h1.5M215.9,1511.5h1.5M202.7,1481.5h1.5M223.4,1499.4h1.5M210.3,1481.3h1.5M200.9,1482.1h1.5M228.3,1479.3h1.5M223.5,1427.9h1.5M187.3,1527.8h1.5M211.0,1501.0h1.5M250.2,1470.7h1.5M275.2,1482.8h1.5M239.2,1472.5h1.5M229.8,1543.5h1.5M199.1,1508.5h1.5M241.4,1488.1h1.5M223.1,1533.9h1.5M259.6,1513.6h1.5M237.0,1472.9h1.5M232.4,1543.0h1.5M257.4,1467.5h1.5M234.3,1486.8h1.5M222.0,1508.2h1.5M253.3,1505.1h1.5M242.2,1510.2h1.5M191.3,1530.1h1.5M299.5,1531.1h1.5M239.8,1532.6h1.5M242.6,1533.7h1.5M217.9,1517.7h1.5M198.1,1477.7h1.5M235.7,1511.4h1.5M219.9,1474.8h1.5M219.3,1512.4h1.5M269.9,1498.8h1.5M227.9,1477.4h1.5M220.2,1522.8h1.5M252.3,1527.0h1.5M205.8,1514.3h1.5M206.9,1530.8h1.5M233.2,1531.4h1.5M228.5,1467.5h1.5M221.0,1502.8h1.5M219.3,1535.6h1.5M218.2,1506.7h1.5M209.1,1510.5h1.5M202.5,1483.7h1.5M274.9,1529.9h1.5M251.0,1512.0h1.5M218.4,1480.7h1.5M266.4,1504.9h1.5M205.8,1504.4h1.5M207.9,1504.6h1.5M213.1,1471.2h1.5M300.0,1487.9h1.5M247.9,1469.4h1.5M202.6,1420.5h1.5M256.5,1510.9h1.5M199.1,1520.4h1.5M236.3,1522.3h1.5M246.2,1518.8h1.5M229.4,1490.0h1.5M248.8,1530.1h1.5M199.4,1472.4h1.5M229.0,1543.8h1.5M224.6,1458.8h1.5M251.4,1518.4h1.5M281.3,1504.7h1.5M282.0,1482.6h1.5M253.9,1503.4h1.5M198.7,1493.4h1.5M265.1,1527.2h1.5M220.2,1527.1h1.5M237.7,1507.5h1.5M208.4,1498.5h1.5M222.6,1504.1h1.5M235.8,1525.8h1.5M203.1,1490.5h1.5M237.2,1490.9h1.5M238.9,1488.7h1.5M200.2,1518.3h1.5M273.9,1453.3h1.5M226.7,1501.8h1.5M257.3,1536.5h1.5M226.0,1462.3h1.5M247.7,1524.6h1.5M242.4,1502.1h1.5M198.6,1463.6h1.5M274.5,1534.7h1.5M215.7,1524.5h1.5M199.2,1458.7h1.5M261.8,1489.7h1.5M212.7,1512.5h1.5M228.7,1481.5h1.5M211.4,1518.8h1.5M205.8,1503.3h1.5M204.2,1511.1h1.5M277.0,1514.0h1.5M232.0,1510.8h1.5M214.3,1515.0h1.5M211.3,1501.7h1.5M233.0,1499.4h1.5M206.7,1524.2h1.5M215.0,1514.9h1.5M203.2,1479.7h1.5M240.8,1503.5h1.5M229.7,1519.0h1.5M237.7,1475.8h1.5M294.3,1535.3h1.5M241.4,1481.3h1.5M210.2,1540.5h1.5M238.9,1466.6h1.5M271.4,1514.2h1.5M264.8,1510.0h1.5M226.4,1496.1h1.5M269.8,1483.9h1.5M227.8,1475.1h1.5M238.9,1495.3h1.5M235.5,1474.6h1.5M229.0,1490.8h1.5M266.8,1530.3h1.5M213.5,1473.8h1.5M239.9,1507.9h1.5M223.5,1501.0h1.5M202.7,1451.0h1.5M310.5,1509.2h1.5M331.7,1527.2h1.5M327.0,1529.8h1.5M324.0,1524.7h1.5M314.4,1495.5h1.5M314.5,1524.0h1.5M328.6,1505.9h1.5M321.1,1538.7h1.5M334.9,1521.9h1.5M313.4,1529.0h1.5M312.5,1518.8h1.5M303.0,1489.1h1.5M329.0,1496.7h1.5M316.6,1509.1h1.5M322.1,1499.2h1.5M316.9,1542.5h1.5M333.3,1514.4h1.5M313.4,1498.0h1.5M334.2,1498.2h1.5M323.2,1499.9h1.5M319.1,1501.9h1.5M322.9,1483.0h1.5M335.7,1482.5h1.5M333.4,1498.8h1.5M318.2,1544.3h1.5M321.1,1493.3h1.5M322.0,1511.9h1.5M316.4,1504.6h1.5M327.9,1524.1h1.5M321.1,1523.4h1.5M325.1,1500.0h1.5M331.4,1479.2h1.5M321.1,1484.6h1.5M313.0,1472.0h1.5M322.9,1493.4h1.5M338.6,1522.9h1.5M313.4,1533.4h1.5M313.7,1530.3h1.5M335.7,1536.8h1.5M320.4,1501.9h1.5M324.8,1502.9h1.5M318.5,1504.2h1.5M323.9,1503.1h1.5M320.6,1501.8h1.5M330.1,1481.7h1.5M319.0,1507.0h1.5M315.1,1505.0h1.5M319.8,1489.0h1.5M319.0,1508.7h1.5M316.0,1533.4h1.5M338.2,1494.6h1.5M333.1,1473.5h1.5M314.2,1491.0h1.5M324.9,1504.7h1.5M303.1,1502.2h1.5M325.6,1509.8h1.5M334.8,1473.0h1.5M323.9,1508.7h1.5M327.5,1482.5h1.5M312.2,1504.9h1.5M322.6,1473.5h1.5M324.8,1508.0h1.5M327.6,1458.3h1.5M318.5,1523.1h1.5M334.8,1511.1h1.5M321.2,1533.1h1.5M323.9,1517.7h1.5M323.4,1491.3h1.5M322.8,1535.6h1.5M321.4,1531.1h1.5M324.2,1520.7h1.5M319.9,1524.1h1.5M333.2,1523.3h1.5M322.2,1521.3h1.5M317.2,1520.9h1.5M341.4,1477.3h1.5M318.9,1514.7h1.5M325.2,1475.8h1.5M315.0,1536.6h1.5M317.5,1518.7h1.5M311.7,1490.7h1.5M308.3,1513.3h1.5M325.6,1502.6h1.5M326.6,1503.8h1.5M329.4,1529.5h1.5M329.8,1501.5h1.5M319.4,1514.9h1.5M320.3,1519.3h1.5M312.6,1501.8h1.5M322.7,1484.8h1.5M322.5,1515.5h1.5M317.4,1537.9h1.5M325.6,1522.4h1.5M316.3,1501.4h1.5M312.1,1514.5h1.5M326.8,1490.5h1.5M323.7,1507.4h1.5M322.6,1488.8h1.5M326.2,1511.6h1.5M327.7,1535.5h1.5M322.4,1511.7h1.5M324.5,1541.4h1.5M311.1,1508.1h1.5M317.4,1510.6h1.5M328.4,1509.5h1.5M327.6,1511.8h1.5M316.7,1495.6h1.5M311.7,1512.5h1.5M329.4,1491.3h1.5M315.5,1512.2h1.5M335.5,1493.4h1.5M300.4,1504.9h1.5M321.1,1494.3h1.5M327.8,1503.0h1.5M316.5,1527.9h1.5M305.0,1508.7h1.5M330.8,1508.2h1.5M316.4,1492.4h1.5M311.3,1511.1h1.5M328.0,1505.1h1.5M319.0,1510.8h1.5M323.7,1494.8h1.5M328.4,1478.1h1.5M305.0,1492.4h1.5M313.4,1509.4h1.5M318.4,1543.3h1.5M315.1,1507.7h1.5M323.7,1520.5h1.5M328.8,1478.4h1.5M338.6,1502.3h1.5M316.7,1476.8h1.5M318.7,1474.4h1.5M323.5,1496.8h1.5M324.5,1493.2h1.5M330.9,1511.3h1.5M309.3,1481.3h1.5M331.8,1496.8h1.5M332.2,1519.1h1.5M326.5,1496.1h1.5M323.1,1453.0h1.5M319.2,1501.1h1.5M321.6,1501.5h1.5M325.4,1470.3h1.5M316.4,1491.0h1.5M326.4,1509.6h1.5M323.5,1494.9h1.5M314.6,1481.0h1.5M319.6,1521.9h1.5M326.2,1533.3h1.5M315.0,1466.2h1.5M319.0,1521.3h1.5M313.4,1504.9h1.5M336.6,1516.3h1.5M313.7,1503.2h1.5M321.8,1493.6h1.5M325.1,1531.8h1.5M324.2,1510.6h1.5M332.2,1499.4h1.5M315.4,1517.9h1.5M322.8,1529.4h1.5M316.3,1372.0h1.5M300.7,1396.8h1.5M323.6,1379.3h1.5M335.3,1376.7h1.5M327.1,1390.2h1.5M327.9,1368.1h1.5M330.3,1360.7h1.5M326.4,1368.0h1.5M325.3,1380.1h1.5M308.1,1400.0h1.5M325.9,1369.1h1.5M335.2,1374.5h1.5M316.4,1381.5h1.5M318.9,1392.4h1.5M341.8,1364.9h1.5M331.0,1374.5h1.5M344.9,1352.8h1.5M317.7,1387.4h1.5M332.1,1388.3h1.5M320.3,1383.2h1.5M314.7,1400.4h1.5M328.3,1390.6h1.5M326.6,1367.9h1.5M322.9,1387.9h1.5M321.9,1384.2h1.5M324.2,1393.7h1.5M343.8,1356.6h1.5M318.7,1392.9h1.5M328.6,1367.7h1.5M325.6,1357.1h1.5M317.6,1391.5h1.5M331.2,1386.9h1.5M305.9,1393.0h1.5M307.3,1413.9h1.5M336.0,1352.2h1.5M328.9,1388.2h1.5M319.1,1380.9h1.5M333.6,1369.3h1.5M327.3,1387.4h1.5M319.2,1383.1h1.5M334.9,1378.8h1.5M338.8,1356.1h1.5M325.3,1393.7h1.5M309.9,1385.6h1.5M335.4,1371.1h1.5M324.4,1367.0h1.5M332.9,1362.9h1.5M327.2,1376.0h1.5M320.2,1392.8h1.5M333.4,1375.9h1.5M342.8,1345.4h1.5M329.0,1379.9h1.5M328.1,1385.5h1.5M336.1,1351.4h1.5M326.6,1369.6h1.5M321.7,1383.4h1.5M318.5,1380.6h1.5M335.0,1367.6h1.5M331.0,1384.3h1.5M341.9,1379.0h1.5M314.5,1396.6h1.5M341.8,1349.2h1.5M330.2,1381.4h1.5M330.8,1386.3h1.5M344.1,1364.9h1.5M318.2,1382.9h1.5M314.2,1410.2h1.5M315.3,1378.8h1.5M342.0,1362.5h1.5M332.0,1377.5h1.5M324.8,1387.7h1.5M326.3,1388.1h1.5M324.0,1386.2h1.5M324.8,1389.8h1.5M328.5,1379.2h1.5M334.4,1360.7h1.5M320.0,1375.1h1.5M321.8,1386.6h1.5M319.4,1384.4h1.5M318.7,1383.5h1.5M333.3,1352.1h1.5M329.3,1376.0h1.5M332.4,1359.3h1.5M340.0,1350.8h1.5M323.7,1367.9h1.5M328.7,1365.3h1.5M320.4,1390.2h1.5M348.2,1336.0h1.5M343.0,1351.5h1.5M339.5,1361.4h1.5M321.7,1381.5h1.5M335.6,1359.5h1.5M315.8,1394.3h1.5M333.4,1378.4h1.5M335.0,1368.9h1.5M318.2,1404.8h1.5M325.3,1376.9h1.5M324.7,1374.0h1.5M334.4,1356.0h1.5M343.8,1362.1h1.5M331.6,1366.9h1.5M321.2,1373.7h1.5M329.4,1381.0h1.5M340.1,1356.3h1.5M334.0,1371.4h1.5M336.4,1355.5h1.5M341.5,1359.6h1.5M321.2,1389.9h1.5M337.1,1365.0h1.5M326.7,1381.3h1.5M313.2,1380.6h1.5M333.2,1379.3h1.5M314.5,1389.9h1.5M344.0,1366.8h1.5M334.4,1370.0h1.5M312.9,1394.9h1.5M329.9,1359.6h1.5M331.0,1372.9h1.5M335.0,1362.3h1.5M335.6,1357.9h1.5M321.0,1381.2h1.5M320.6,1383.0h1.5M324.8,1375.2h1.5M337.6,1357.9h1.5M320.7,1390.1h1.5M319.1,1394.1h1.5M319.8,1394.1h1.5M329.0,1359.3h1.5M323.0,1362.1h1.5M347.0,1371.2h1.5M328.0,1358.2h1.5M321.5,1391.5h1.5M346.6,1351.2h1.5M313.2,1382.7h1.5M317.0,1369.0h1.5M324.2,1374.4h1.5M323.9,1390.6h1.5M332.3,1379.8h1.5M328.4,1383.4h1.5M321.7,1379.4h1.5M324.9,1405.3h1.5M327.0,1374.2h1.5M315.5,1390.4h1.5M341.4,1345.5h1.5M322.5,1385.0h1.5M323.1,1385.2h1.5M333.5,1347.5h1.5M330.2,1375.2h1.5M318.8,1365.0h1.5M338.2,1366.9h1.5M334.8,1356.6h1.5M313.0,1386.4h1.5M326.1,1380.6h1.5M324.6,1378.2h1.5M316.4,1378.1h1.5M337.1,1358.6h1.5M314.3,1381.6h1.5M318.8,1364.2h1.5M325.6,1392.6h1.5M328.0,1387.3h1.5M318.9,1384.6h1.5M333.2,1371.7h1.5M318.9,1377.0h1.5M344.1,1357.6h1.5M326.7,1386.2h1.5M313.7,1390.2h1.5M320.5,1384.4h1.5M321.1,1383.9h1.5M331.6,1371.7h1.5M326.2,1379.5h1.5M317.4,1377.9h1.5M322.3,1384.1h1.5M317.0,1400.6h1.5M336.4,1360.2h1.5M339.9,1353.8h1.5M340.7,1367.2h1.5M326.8,1375.1h1.5M323.5,1372.4h1.5M341.2,1352.6h1.5M323.0,1399.2h1.5M346.3,1365.0h1.5M340.2,1358.8h1.5M323.2,1393.3h1.5M341.4,1352.5h1.5M338.7,1366.8h1.5M335.8,1375.7h1.5M345.2,1352.0h1.5M329.1,1385.4h1.5M328.4,1360.5h1.5M324.4,1387.1h1.5M333.3,1373.0h1.5M333.6,1360.6h1.5M325.4,1382.3h1.5M330.5,1361.2h1.5M345.0,1341.4h1.5M322.8,1387.3h1.5M320.8,1392.5h1.5M324.2,1386.0h1.5M337.7,1352.5h1.5M319.8,1392.4h1.5M341.3,1370.7h1.5M328.6,1389.6h1.5M331.6,1389.3h1.5M323.2,1388.5h1.5M331.1,1379.1h1.5M322.9,1384.2h1.5M332.0,1359.9h1.5M338.3,1365.6h1.5M322.9,1376.5h1.5M315.2,1407.6h1.5M316.8,1402.6h1.5M336.5,1358.2h1.5M339.8,1374.2h1.5M324.8,1381.6h1.5M340.2,1362.1h1.5M346.0,1343.4h1.5M329.6,1361.4h1.5M320.4,1382.0h1.5M336.1,1365.1h1.5M322.7,1378.4h1.5M337.7,1352.4h1.5M339.7,1363.2h1.5M343.7,1368.9h1.5M335.1,1371.0h1.5M330.3,1361.6h1.5M318.0,1383.8h1.5M354.1,1348.4h1.5M333.2,1362.7h1.5M334.4,1366.5h1.5M332.7,1374.1h1.5M331.1,1390.7h1.5M337.1,1360.6h1.5M321.0,1384.7h1.5M316.6,1391.3h1.5M327.2,1368.9h1.5M324.7,1377.1h1.5M337.1,1368.4h1.5M336.9,1370.6h1.5M344.2,1352.6h1.5M324.0,1385.3h1.5M323.4,1440.1h1.5M308.7,1512.8h1.5M314.7,1489.2h1.5M308.7,1416.3h1.5M283.9,1496.1h1.5M268.8,1491.8h1.5M309.5,1442.5h1.5M337.5,1402.4h1.5M208.3,1420.0h1.5M325.5,1458.0h1.5M330.1,1463.9h1.5M307.7,1450.6h1.5M284.2,1495.7h1.5M336.1,1426.6h1.5M327.5,1526.4h1.5M335.6,1438.2h1.5M287.6,1495.1h1.5M356.6,1450.8h1.5M307.3,1454.5h1.5M282.6,1483.2h1.5M253.0,1487.8h1.5M297.9,1470.3h1.5M281.4,1440.9h1.5M256.2,1466.6h1.5M298.2,1474.7h1.5M289.1,1489.2h1.5M308.3,1469.9h1.5M291.1,1465.7h1.5M330.8,1445.5h1.5M320.6,1467.1h1.5M312.6,1427.7h1.5M258.7,1466.2h1.5" stroke="#a9b1ec" stroke-width="1.5" fill="none"/>
<path d="M273.5,1502.1h1.45M253.9,1483.1h1.45M285.4,1475.2h1.45M257.1,1490.5h1.45M248.8,1487.8h1.45M259.1,1500.2h1.45M254.1,1495.2h1.45M257.2,1468.8h1.45M267.4,1482.8h1.45M257.6,1472.9h1.45M274.8,1476.2h1.45M262.3,1496.0h1.45M259.2,1491.1h1.45M258.8,1505.5h1.45M268.8,1498.1h1.45M273.7,1464.7h1.45M256.0,1500.2h1.45M252.7,1443.9h1.45M284.5,1492.5h1.45M249.0,1491.2h1.45M227.4,1522.0h1.45M220.5,1465.0h1.45M255.9,1490.8h1.45M269.9,1469.1h1.45M259.9,1505.9h1.45M243.6,1445.1h1.45M258.6,1506.3h1.45M268.5,1482.6h1.45M262.1,1487.7h1.45M258.2,1491.9h1.45M266.2,1441.1h1.45M253.1,1476.9h1.45M247.7,1467.6h1.45M229.5,1470.8h1.45M260.1,1482.5h1.45M236.5,1507.7h1.45M247.7,1478.8h1.45M236.3,1527.9h1.45M258.2,1476.4h1.45M258.5,1510.0h1.45M269.8,1451.2h1.45M269.7,1480.1h1.45M243.4,1484.1h1.45M252.1,1485.8h1.45M253.1,1509.5h1.45M265.9,1448.6h1.45M256.4,1483.9h1.45M258.8,1500.0h1.45M238.1,1511.0h1.45M256.0,1500.5h1.45M261.2,1476.0h1.45M264.2,1476.6h1.45M237.1,1529.6h1.45M263.6,1487.5h1.45M220.6,1491.7h1.45M257.6,1494.3h1.45M258.5,1490.6h1.45M245.3,1485.0h1.45M259.1,1498.9h1.45M221.3,1500.3h1.45M233.8,1489.1h1.45M235.8,1477.7h1.45M254.6,1481.1h1.45M266.7,1486.5h1.45M237.1,1470.5h1.45M246.4,1474.6h1.45M241.4,1469.4h1.45M258.4,1486.9h1.45M263.2,1490.1h1.45M249.2,1494.9h1.45M232.2,1484.3h1.45M257.7,1480.6h1.45M250.4,1484.6h1.45M221.5,1518.3h1.45M255.9,1482.0h1.45M283.4,1478.0h1.45M247.7,1483.5h1.45M257.1,1493.6h1.45M284.2,1480.3h1.45M274.2,1509.5h1.45M245.4,1501.0h1.45M249.0,1482.8h1.45M227.8,1483.5h1.45M254.7,1452.3h1.45M261.2,1491.0h1.45M256.9,1474.9h1.45M220.0,1446.4h1.45M237.9,1498.4h1.45M275.1,1505.2h1.45M233.8,1482.5h1.45M256.7,1480.4h1.45M259.9,1514.0h1.45M264.5,1493.7h1.45M253.6,1498.5h1.45M249.0,1495.9h1.45M262.8,1475.9h1.45M269.6,1487.8h1.45M257.4,1481.2h1.45M270.0,1498.0h1.45M220.6,1488.5h1.45M272.7,1478.3h1.45M245.6,1494.5h1.45M267.7,1493.0h1.45M216.3,1472.7h1.45M261.3,1488.7h1.45M259.2,1499.3h1.45M243.6,1482.2h1.45M259.7,1501.1h1.45M265.0,1476.9h1.45M241.2,1491.4h1.45M231.1,1487.5h1.45M268.9,1486.2h1.45M265.4,1469.1h1.45M253.3,1511.5h1.45M277.2,1483.0h1.45M263.9,1493.4h1.45M232.6,1493.8h1.45M262.1,1474.0h1.45M258.9,1468.4h1.45M259.6,1475.7h1.45M267.8,1514.7h1.45M264.7,1493.2h1.45M202.7,1506.9h1.45M252.2,1475.1h1.45M234.6,1482.8h1.45M243.0,1479.4h1.45M258.3,1480.1h1.45M259.2,1493.7h1.45M264.0,1464.5h1.45M262.9,1493.5h1.45M259.2,1495.3h1.45M249.2,1493.0h1.45M241.8,1501.0h1.45M229.6,1508.6h1.45M240.6,1468.3h1.45M266.2,1487.4h1.45M264.7,1497.1h1.45M241.1,1507.7h1.45M265.0,1528.5h1.45M246.3,1480.4h1.45M230.1,1485.0h1.45M286.0,1449.0h1.45M259.6,1476.6h1.45M248.0,1486.9h1.45M239.7,1463.2h1.45M256.7,1484.6h1.45M260.0,1507.1h1.45M263.0,1500.8h1.45M244.2,1484.7h1.45M239.7,1488.4h1.45M233.1,1470.9h1.45M257.0,1456.4h1.45M253.0,1494.1h1.45M249.3,1484.9h1.45M264.8,1500.2h1.45M240.7,1487.8h1.45M248.7,1506.7h1.45M281.3,1455.8h1.45M222.6,1508.6h1.45M259.3,1517.8h1.45M272.5,1503.2h1.45M256.4,1487.7h1.45M272.6,1462.7h1.45M241.9,1492.1h1.45M262.0,1479.0h1.45M261.6,1471.6h1.45M243.3,1491.7h1.45M260.8,1512.2h1.45M264.5,1522.0h1.45M261.1,1489.5h1.45M253.2,1472.3h1.45M248.0,1491.7h1.45M257.6,1503.5h1.45M259.5,1499.6h1.45M234.5,1510.8h1.45M267.4,1468.5h1.45M251.0,1515.2h1.45M255.8,1521.9h1.45M222.0,1500.1h1.45M215.4,1492.2h1.45M257.3,1476.6h1.45M258.7,1511.7h1.45M250.4,1488.8h1.45M258.8,1497.1h1.45M258.2,1474.1h1.45M237.4,1474.7h1.45M237.5,1498.7h1.45M188.7,1511.0h1.45M241.1,1491.6h1.45M211.7,1494.3h1.45M224.7,1493.3h1.45M236.5,1526.3h1.45M238.4,1517.0h1.45M252.6,1491.2h1.45M209.7,1536.7h1.45M219.6,1523.3h1.45M224.6,1482.0h1.45M240.6,1513.0h1.45M208.7,1513.3h1.45M242.4,1487.2h1.45M251.6,1496.9h1.45M206.7,1510.5h1.45M250.1,1525.8h1.45M220.1,1470.9h1.45M204.8,1476.0h1.45M248.6,1483.9h1.45M262.6,1500.2h1.45M216.6,1498.9h1.45M229.2,1528.6h1.45M220.9,1484.8h1.45M243.7,1497.6h1.45M212.3,1482.3h1.45M301.2,1470.8h1.45M235.6,1504.8h1.45M220.5,1537.9h1.45M224.5,1523.4h1.45M255.6,1497.2h1.45M234.5,1487.1h1.45M216.9,1500.9h1.45M247.5,1487.1h1.45M233.7,1499.1h1.45M241.1,1462.2h1.45M255.1,1492.5h1.45M210.9,1514.9h1.45M251.7,1493.2h1.45M213.2,1482.5h1.45M243.6,1494.3h1.45M239.5,1499.7h1.45M258.1,1472.4h1.45M262.5,1465.9h1.45M188.5,1465.3h1.45M259.9,1472.9h1.45M225.9,1501.8h1.45M215.6,1485.9h1.45M238.9,1508.6h1.45M263.3,1488.1h1.45M187.1,1520.3h1.45M217.3,1476.3h1.45M253.5,1490.4h1.45M211.5,1509.5h1.45M220.8,1484.1h1.45M245.7,1488.8h1.45M251.7,1457.7h1.45M200.6,1527.3h1.45M280.9,1464.9h1.45M256.0,1498.9h1.45M253.9,1521.9h1.45M233.4,1482.2h1.45M261.2,1494.6h1.45M255.8,1507.1h1.45M247.8,1508.8h1.45M259.5,1511.1h1.45M204.9,1492.9h1.45M229.9,1472.3h1.45M256.5,1501.4h1.45M217.9,1525.8h1.45M246.8,1481.2h1.45M221.3,1535.3h1.45M227.6,1498.8h1.45M198.1,1437.8h1.45M230.2,1476.6h1.45M203.6,1508.3h1.45M246.8,1514.2h1.45M236.5,1524.1h1.45M267.8,1534.2h1.45M207.0,1509.7h1.45M312.1,1529.3h1.45M325.6,1523.1h1.45M325.9,1493.0h1.45M314.6,1497.1h1.45M320.2,1494.9h1.45M316.8,1501.4h1.45M319.9,1517.4h1.45M323.1,1495.0h1.45M324.9,1530.3h1.45M319.3,1491.2h1.45M320.5,1522.0h1.45M320.5,1530.3h1.45M314.7,1492.9h1.45M322.9,1528.8h1.45M330.4,1500.2h1.45M315.6,1500.9h1.45M328.4,1506.9h1.45M331.6,1512.6h1.45M333.3,1504.9h1.45M317.3,1506.0h1.45M317.0,1508.1h1.45M312.5,1510.0h1.45M331.5,1503.8h1.45M326.2,1520.0h1.45M341.0,1488.6h1.45M330.6,1510.8h1.45M312.4,1492.4h1.45M325.8,1491.2h1.45M315.3,1505.2h1.45M318.2,1489.4h1.45M321.8,1529.7h1.45M320.3,1479.9h1.45M324.3,1485.1h1.45M302.5,1537.5h1.45M330.8,1509.9h1.45M320.0,1512.8h1.45M338.8,1497.2h1.45M312.5,1544.8h1.45M329.5,1531.4h1.45M330.9,1487.4h1.45M326.3,1513.3h1.45M320.6,1512.9h1.45M328.6,1524.2h1.45M324.9,1505.4h1.45M329.9,1497.7h1.45M327.3,1458.9h1.45M319.1,1524.3h1.45M313.9,1519.8h1.45M326.7,1500.9h1.45M325.3,1500.4h1.45M320.9,1519.3h1.45M318.2,1502.4h1.45M331.4,1524.6h1.45M314.7,1506.3h1.45M320.8,1532.7h1.45M329.4,1519.9h1.45M314.1,1507.5h1.45M314.7,1536.1h1.45M338.5,1542.2h1.45M326.5,1534.9h1.45M330.7,1484.0h1.45M305.7,1488.8h1.45M316.8,1519.8h1.45M318.9,1486.5h1.45M327.3,1499.7h1.45M332.0,1500.2h1.45M334.6,1500.4h1.45M322.4,1524.9h1.45M316.4,1526.3h1.45M325.7,1505.5h1.45M311.6,1519.8h1.45M334.3,1365.1h1.45M331.2,1370.3h1.45M324.1,1368.8h1.45M325.1,1379.5h1.45M319.2,1407.6h1.45M322.8,1374.8h1.45M319.8,1387.0h1.45M335.8,1360.7h1.45M316.1,1401.2h1.45M321.9,1371.3h1.45M321.7,1393.7h1.45M324.5,1375.3h1.45M335.2,1386.1h1.45M339.5,1367.6h1.45M320.2,1391.1h1.45M325.6,1363.8h1.45M328.8,1363.3h1.45M325.9,1356.7h1.45M324.8,1381.3h1.45M321.6,1376.4h1.45M303.3,1396.7h1.45M320.4,1395.3h1.45M327.8,1383.8h1.45M332.8,1356.8h1.45M328.3,1373.3h1.45M332.2,1384.2h1.45M333.3,1365.7h1.45M314.5,1395.5h1.45M324.0,1387.6h1.45M340.0,1356.2h1.45M332.8,1377.7h1.45M341.5,1365.1h1.45M331.1,1373.7h1.45M332.6,1372.2h1.45M322.5,1369.8h1.45M329.0,1381.7h1.45M328.9,1376.2h1.45M321.7,1381.7h1.45M339.8,1353.6h1.45M325.5,1368.7h1.45M328.3,1377.3h1.45M310.4,1386.3h1.45M319.6,1378.2h1.45M339.3,1356.0h1.45M330.9,1381.7h1.45M321.6,1380.2h1.45M318.4,1380.0h1.45M325.7,1372.9h1.45M341.9,1367.3h1.45M329.2,1371.4h1.45M307.9,1400.5h1.45M326.1,1383.6h1.45M321.3,1379.4h1.45M331.9,1365.5h1.45M327.8,1370.3h1.45M306.7,1398.8h1.45M329.6,1381.1h1.45M323.2,1374.5h1.45M327.0,1366.7h1.45M330.9,1373.1h1.45M323.2,1378.1h1.45M334.1,1382.1h1.45M318.7,1375.6h1.45M344.0,1363.7h1.45M332.0,1375.4h1.45M331.2,1373.5h1.45M330.5,1376.9h1.45M335.5,1376.7h1.45M326.6,1377.4h1.45M333.2,1368.3h1.45M327.5,1383.2h1.45M332.3,1378.9h1.45M337.7,1353.5h1.45M345.3,1357.2h1.45M334.4,1375.8h1.45M324.8,1377.1h1.45M344.6,1338.0h1.45M327.1,1371.2h1.45M336.6,1366.6h1.45M328.5,1365.4h1.45M324.4,1382.3h1.45M327.7,1364.7h1.45M332.6,1372.1h1.45M326.6,1380.7h1.45M322.5,1369.1h1.45M322.6,1374.1h1.45M338.6,1365.0h1.45M313.9,1402.5h1.45M334.3,1376.2h1.45M332.1,1374.7h1.45M331.1,1381.5h1.45M336.1,1363.9h1.45M321.4,1376.7h1.45M332.1,1383.2h1.45M326.9,1381.6h1.45M324.5,1366.1h1.45M324.8,1379.9h1.45M340.4,1360.5h1.45M338.1,1374.6h1.45M319.4,1377.7h1.45M318.8,1392.3h1.45M321.7,1367.3h1.45M328.9,1382.1h1.45M335.4,1364.3h1.45M325.9,1380.7h1.45M331.8,1369.3h1.45M328.7,1372.7h1.45M319.2,1373.0h1.45M326.4,1382.2h1.45M331.5,1374.2h1.45M337.7,1367.3h1.45M338.2,1370.7h1.45M314.5,1392.4h1.45M326.6,1372.6h1.45M315.6,1387.3h1.45M332.8,1354.7h1.45M333.0,1372.9h1.45M320.2,1387.5h1.45M324.6,1371.4h1.45M323.3,1379.8h1.45M322.6,1382.8h1.45M327.2,1372.8h1.45M337.6,1379.0h1.45M334.3,1368.1h1.45M329.6,1357.9h1.45M329.7,1386.3h1.45M326.2,1362.7h1.45M320.3,1387.4h1.45M327.6,1377.7h1.45M336.3,1368.2h1.45M309.5,1477.7h1.45M376.3,1469.9h1.45M304.8,1452.9h1.45M335.1,1472.7h1.45M302.1,1513.6h1.45M313.4,1468.7h1.45M248.4,1477.7h1.45" stroke="#5661d9" stroke-width="1.45" fill="none"/>
<path d="M250.0,1501.3h1.45M241.6,1481.0h1.45M258.0,1498.4h1.45M253.9,1499.6h1.45M258.6,1489.5h1.45M251.5,1489.8h1.45M260.0,1474.9h1.45M251.0,1489.0h1.45M257.5,1481.3h1.45M260.1,1495.2h1.45M253.2,1481.9h1.45M261.4,1482.2h1.45M253.2,1486.6h1.45M252.3,1488.2h1.45M255.0,1491.2h1.45M245.3,1487.7h1.45M259.9,1488.7h1.45M247.0,1497.2h1.45M254.0,1480.0h1.45M252.8,1490.2h1.45M269.7,1482.7h1.45M252.3,1484.4h1.45M256.4,1495.0h1.45M250.5,1485.8h1.45M249.7,1487.8h1.45M242.1,1480.9h1.45M259.0,1486.9h1.45M265.5,1496.1h1.45M252.9,1475.9h1.45M251.9,1482.5h1.45M241.4,1487.7h1.45M242.9,1487.1h1.45M256.1,1480.5h1.45M248.1,1492.6h1.45M252.7,1473.5h1.45M329.8,1362.6h1.45M329.3,1371.2h1.45M335.1,1371.0h1.45M327.5,1376.4h1.45M336.6,1370.3h1.45M334.3,1374.0h1.45M337.8,1366.2h1.45M329.7,1367.1h1.45M330.4,1365.4h1.45M331.7,1374.2h1.45M327.4,1370.4h1.45M327.8,1381.3h1.45M334.7,1371.4h1.45M332.4,1370.7h1.45M330.4,1373.0h1.45M334.0,1376.1h1.45M326.4,1374.1h1.45M332.6,1375.2h1.45M334.0,1370.2h1.45M331.3,1371.0h1.45M338.2,1368.4h1.45M331.0,1371.1h1.45M334.3,1373.5h1.45M332.7,1382.4h1.45M331.5,1376.4h1.45M331.1,1371.0h1.45M329.6,1370.8h1.45M332.3,1366.3h1.45M329.4,1374.1h1.45M327.7,1369.7h1.45M327.1,1372.0h1.45M332.4,1382.4h1.45M327.8,1374.3h1.45M330.6,1375.5h1.45M326.9,1372.3h1.45M338.1,1376.7h1.45M330.8,1374.1h1.45M329.7,1376.3h1.45M324.0,1373.3h1.45M336.6,1376.1h1.45M324.9,1368.4h1.45M333.8,1370.9h1.45M330.4,1365.4h1.45M332.7,1375.0h1.45M334.5,1374.5h1.45M336.4,1375.5h1.45M251.8,1484.7h1.45" stroke="#2323aa" stroke-width="1.45" fill="none"/>
<path d="M258.3,1483.5h1.5M328.4,1376.1h1.5M329.3,1376.3h1.5M329.3,1375.5h1.5M332.1,1373.4h1.5" stroke="#1cc0a0" stroke-width="1.5" fill="none"/>
<line x1="190.0" y1="1546.3" x2="345.0" y2="1546.3" stroke="#25307f" stroke-width="1.1" stroke-dasharray="2.2 1.6" opacity="0.75"/>
<line x1="275.2" y1="1546.3" x2="301.6" y2="1546.3" stroke="#b9d63c" stroke-width="1.2" opacity="0.75"/>
<rect x="277.0" y="1328.5" width="83.5" height="87.1" fill="none" stroke="#4646cc" stroke-width="2"/>
<text x="298.5" y="1319.6" font-size="20.6" text-anchor="start" fill="#111" >21.2</text>
<path d="M529.0,1547.6v4M539.5,1547.6v4M546.9,1547.6v4M552.7,1547.6v5.5M557.4,1547.6v4M561.4,1547.6v4M564.8,1547.6v4M567.9,1547.6v4M588.5,1547.6v4M599.0,1547.6v4M606.4,1547.6v4M612.2,1547.6v5.5M616.9,1547.6v4M620.9,1547.6v4M624.3,1547.6v4M627.4,1547.6v4M648.3,1547.6v4M658.8,1547.6v4M666.2,1547.6v4M672.0,1547.6v5.5M676.7,1547.6v4M680.7,1547.6v4M684.1,1547.6v4M687.2,1547.6v4M708.0,1547.6v4M718.5,1547.6v4M725.9,1547.6v4M731.7,1547.6v5.5M736.4,1547.6v4M740.4,1547.6v4M743.8,1547.6v4M746.9,1547.6v4M767.6,1547.6v4M509.8,1279.6h-4M509.8,1360.1h-4M509.8,1345.9h-4M509.8,1335.8h-4M509.8,1328.0h-5.5M509.8,1321.7h-4M509.8,1316.3h-4M509.8,1311.6h-4M509.8,1307.5h-4M509.8,1440.2h-4M509.8,1426.0h-4M509.8,1415.9h-4M509.8,1408.1h-5.5M509.8,1401.8h-4M509.8,1396.4h-4M509.8,1391.7h-4M509.8,1387.6h-4M509.8,1520.6h-4M509.8,1506.4h-4M509.8,1496.3h-4M509.8,1488.5h-5.5M509.8,1482.2h-4M509.8,1476.8h-4M509.8,1472.1h-4M509.8,1468.0h-4" stroke="#000" stroke-width="1.6" fill="none"/>
<path d="M511.1,1547.6v7.5M570.6,1547.6v7.5M630.4,1547.6v7.5M690.1,1547.6v7.5M749.7,1547.6v7.5M509.8,1303.8h-7.5M509.8,1384.3h-7.5M509.8,1464.4h-7.5M509.8,1544.8h-7.5" stroke="#000" stroke-width="3" fill="none"/>
<rect x="509.8" y="1269.6" width="266.2" height="278.0" fill="#fff" stroke="#2a2a2a" stroke-width="1.1"/>
<path d="M558.5,1503.8h1.5M593.0,1487.9h1.5M580.8,1524.4h1.5M576.6,1473.0h1.5M559.9,1490.4h1.5M594.3,1517.7h1.5M595.9,1496.5h1.5M575.9,1509.8h1.5M600.9,1495.1h1.5M592.3,1515.1h1.5M569.9,1507.0h1.5M568.2,1486.0h1.5M578.6,1449.6h1.5M574.8,1508.0h1.5M575.6,1471.1h1.5M590.0,1497.3h1.5M571.1,1511.8h1.5M589.1,1470.9h1.5M599.3,1487.7h1.5M561.1,1518.2h1.5M590.9,1512.2h1.5M570.9,1516.6h1.5M593.6,1492.4h1.5M594.2,1519.8h1.5M577.9,1502.7h1.5M585.6,1454.3h1.5M586.1,1494.2h1.5M612.0,1466.3h1.5M591.1,1466.9h1.5M587.1,1512.0h1.5M559.6,1502.9h1.5M582.3,1534.5h1.5M576.1,1528.5h1.5M577.9,1534.9h1.5M556.8,1497.8h1.5M582.3,1481.6h1.5M582.8,1505.8h1.5M574.1,1471.2h1.5M573.6,1501.6h1.5M537.3,1524.8h1.5M602.3,1458.7h1.5M586.5,1473.8h1.5M551.3,1482.4h1.5M575.5,1508.4h1.5M597.4,1486.5h1.5M596.7,1466.6h1.5M598.7,1459.9h1.5M579.7,1499.2h1.5M576.1,1506.7h1.5M596.2,1473.9h1.5M586.2,1509.4h1.5M573.1,1519.0h1.5M574.8,1519.7h1.5M586.6,1466.4h1.5M592.3,1480.7h1.5M594.2,1489.6h1.5M574.8,1498.9h1.5M577.4,1480.8h1.5M576.2,1505.5h1.5M588.3,1507.7h1.5M589.0,1527.6h1.5M556.6,1500.2h1.5M557.3,1479.6h1.5M594.4,1460.1h1.5M587.3,1512.2h1.5M586.5,1474.4h1.5M595.1,1481.5h1.5M584.1,1477.5h1.5M568.0,1497.1h1.5M587.4,1512.2h1.5M585.9,1497.3h1.5M595.0,1476.2h1.5M556.4,1522.8h1.5M591.5,1468.3h1.5M587.6,1473.5h1.5M587.6,1481.0h1.5M566.5,1519.2h1.5M595.1,1460.9h1.5M592.2,1489.7h1.5M592.0,1510.9h1.5M582.4,1503.7h1.5M588.5,1503.7h1.5M592.4,1469.3h1.5M594.8,1501.1h1.5M565.8,1493.5h1.5M558.8,1495.4h1.5M588.7,1470.6h1.5M572.0,1481.5h1.5M566.3,1508.2h1.5M593.5,1477.3h1.5M561.2,1481.0h1.5M594.4,1502.8h1.5M549.2,1472.8h1.5M597.7,1476.3h1.5M588.3,1529.1h1.5M573.2,1497.4h1.5M586.3,1473.8h1.5M570.0,1492.5h1.5M549.2,1476.1h1.5M598.3,1480.4h1.5M592.3,1480.7h1.5M573.2,1532.8h1.5M555.4,1503.8h1.5M591.6,1462.2h1.5M576.0,1509.1h1.5M600.2,1441.9h1.5M573.5,1496.6h1.5M577.1,1504.0h1.5M566.3,1513.2h1.5M592.3,1502.6h1.5M597.5,1475.1h1.5M585.7,1510.0h1.5M595.5,1501.8h1.5M561.6,1492.1h1.5M569.6,1488.9h1.5M579.5,1508.8h1.5M592.5,1486.9h1.5M564.9,1497.7h1.5M587.8,1505.2h1.5M574.2,1507.2h1.5M591.6,1482.3h1.5M572.2,1517.8h1.5M567.7,1509.6h1.5M596.8,1482.2h1.5M589.7,1505.5h1.5M578.6,1526.4h1.5M568.5,1478.3h1.5M567.7,1486.7h1.5M593.8,1481.4h1.5M592.7,1480.4h1.5M568.5,1500.5h1.5M579.1,1466.0h1.5M582.7,1472.9h1.5M572.2,1475.7h1.5M589.9,1473.7h1.5M580.2,1505.9h1.5M580.7,1496.4h1.5M582.1,1502.6h1.5M570.0,1510.2h1.5M550.5,1478.4h1.5M596.2,1455.5h1.5M594.1,1477.2h1.5M596.5,1468.6h1.5M554.1,1491.4h1.5M584.4,1513.6h1.5M588.9,1485.3h1.5M593.3,1458.6h1.5M573.4,1481.1h1.5M594.4,1488.5h1.5M573.8,1508.9h1.5M600.4,1499.4h1.5M561.8,1495.8h1.5M594.5,1455.1h1.5M563.3,1491.8h1.5M590.0,1475.4h1.5M589.7,1462.2h1.5M553.5,1496.7h1.5M569.1,1465.7h1.5M577.9,1488.8h1.5M592.0,1516.4h1.5M598.8,1446.0h1.5M587.2,1508.3h1.5M559.2,1488.4h1.5M586.3,1473.5h1.5M571.5,1503.9h1.5M530.9,1498.2h1.5M591.0,1480.1h1.5M590.4,1478.0h1.5M567.7,1533.4h1.5M570.3,1473.6h1.5M587.0,1499.6h1.5M589.5,1505.7h1.5M598.6,1482.3h1.5M547.4,1517.5h1.5M600.5,1472.3h1.5M574.4,1478.7h1.5M588.9,1493.0h1.5M545.9,1508.2h1.5M593.9,1477.6h1.5M576.1,1477.7h1.5M587.9,1464.1h1.5M600.0,1478.5h1.5M574.9,1474.5h1.5M590.0,1505.9h1.5M588.2,1507.2h1.5M590.6,1510.1h1.5M559.4,1544.6h1.5M568.7,1503.8h1.5M595.0,1472.4h1.5M574.9,1492.5h1.5M574.6,1515.6h1.5M588.5,1501.1h1.5M583.3,1473.1h1.5M589.3,1483.1h1.5M600.5,1502.6h1.5M575.9,1491.5h1.5M589.4,1484.2h1.5M582.2,1514.5h1.5M586.2,1525.9h1.5M599.2,1490.5h1.5M587.1,1496.8h1.5M546.3,1517.8h1.5M590.8,1470.4h1.5M587.4,1489.0h1.5M561.6,1536.5h1.5M582.0,1529.0h1.5M593.8,1503.3h1.5M590.7,1508.6h1.5M535.4,1525.8h1.5M547.4,1526.3h1.5M590.6,1497.1h1.5M572.9,1462.0h1.5M584.6,1521.7h1.5M588.3,1529.8h1.5M569.7,1465.7h1.5M592.3,1478.7h1.5M589.2,1483.1h1.5M558.7,1508.6h1.5M584.8,1460.2h1.5M579.9,1507.1h1.5M590.4,1478.0h1.5M573.2,1505.0h1.5M592.9,1504.4h1.5M568.7,1500.7h1.5M579.6,1508.5h1.5M591.9,1498.9h1.5M597.0,1513.3h1.5M575.3,1447.0h1.5M590.6,1462.7h1.5M588.3,1469.7h1.5M575.8,1496.2h1.5M589.7,1507.4h1.5M582.8,1463.7h1.5M589.8,1504.7h1.5M579.7,1497.2h1.5M600.7,1453.7h1.5M573.0,1479.9h1.5M591.8,1469.7h1.5M567.5,1492.1h1.5M571.4,1520.2h1.5M590.1,1510.7h1.5M590.5,1508.0h1.5M587.6,1513.6h1.5M568.7,1506.6h1.5M590.8,1511.8h1.5M555.0,1542.0h1.5M557.2,1500.7h1.5M604.5,1455.7h1.5M602.5,1485.0h1.5M600.1,1506.9h1.5M580.7,1471.9h1.5M560.5,1506.4h1.5M559.2,1506.4h1.5M585.3,1490.5h1.5M567.0,1476.8h1.5M592.0,1471.7h1.5M575.7,1492.5h1.5M600.4,1495.3h1.5M591.1,1500.1h1.5M553.9,1511.2h1.5M602.4,1495.1h1.5M594.6,1501.2h1.5M576.0,1484.2h1.5M559.0,1490.4h1.5M565.1,1499.3h1.5M586.9,1467.3h1.5M577.9,1492.4h1.5M590.2,1471.4h1.5M592.1,1482.3h1.5M591.4,1488.1h1.5M559.7,1499.2h1.5M558.7,1497.5h1.5M582.2,1502.2h1.5M604.5,1481.1h1.5M592.1,1475.6h1.5M568.7,1485.3h1.5M563.7,1485.4h1.5M591.8,1468.3h1.5M591.8,1516.1h1.5M592.2,1442.5h1.5M571.5,1526.7h1.5M552.6,1524.1h1.5M588.0,1473.2h1.5M586.9,1465.5h1.5M590.5,1498.3h1.5M573.3,1504.5h1.5M593.0,1507.2h1.5M585.2,1462.9h1.5M577.6,1490.0h1.5M543.9,1483.0h1.5M583.5,1512.2h1.5M577.2,1510.4h1.5M591.0,1511.2h1.5M591.9,1469.0h1.5M576.6,1528.0h1.5M595.0,1513.8h1.5M588.1,1480.2h1.5M559.3,1498.8h1.5M591.9,1500.4h1.5M587.5,1474.7h1.5M585.0,1469.1h1.5M574.1,1525.3h1.5M571.1,1489.2h1.5M570.2,1500.0h1.5M593.9,1471.6h1.5M568.5,1483.3h1.5M584.7,1522.6h1.5M566.5,1484.9h1.5M593.9,1545.1h1.5M587.3,1514.8h1.5M558.1,1489.5h1.5M553.8,1511.3h1.5M566.7,1530.1h1.5M597.0,1522.4h1.5M548.6,1519.1h1.5M532.3,1520.1h1.5M564.0,1514.2h1.5M549.4,1502.8h1.5M580.0,1519.7h1.5M532.9,1523.8h1.5M564.6,1519.6h1.5M566.2,1530.3h1.5M587.5,1476.3h1.5M526.3,1532.8h1.5M544.6,1518.7h1.5M610.0,1504.9h1.5M562.8,1507.4h1.5M585.5,1513.9h1.5M541.5,1468.0h1.5M556.5,1497.8h1.5M604.2,1479.6h1.5M579.4,1460.5h1.5M579.9,1474.9h1.5M562.5,1500.5h1.5M535.4,1521.9h1.5M541.1,1507.6h1.5M542.0,1507.7h1.5M559.0,1501.2h1.5M543.3,1533.2h1.5M557.6,1506.9h1.5M520.6,1506.6h1.5M532.4,1483.6h1.5M554.6,1503.8h1.5M545.9,1505.5h1.5M551.5,1499.4h1.5M543.5,1539.5h1.5M551.2,1501.7h1.5M566.8,1503.7h1.5M531.0,1527.6h1.5M532.8,1495.7h1.5M570.5,1498.2h1.5M544.5,1507.4h1.5M541.1,1495.4h1.5M533.6,1483.4h1.5M537.9,1509.2h1.5M517.9,1513.4h1.5M601.6,1436.4h1.5M554.7,1481.9h1.5M525.9,1526.8h1.5M559.6,1503.4h1.5M530.4,1499.0h1.5M534.7,1540.0h1.5M559.4,1462.7h1.5M553.1,1535.9h1.5M542.5,1501.5h1.5M559.1,1514.0h1.5M552.0,1519.8h1.5M536.8,1501.2h1.5M568.3,1497.6h1.5M537.9,1542.0h1.5M582.0,1499.0h1.5M561.2,1486.7h1.5M607.1,1514.1h1.5M561.7,1492.4h1.5M575.9,1504.4h1.5M553.3,1500.4h1.5M582.2,1510.3h1.5M580.6,1507.4h1.5M550.7,1496.3h1.5M566.5,1488.7h1.5M546.6,1523.6h1.5M566.2,1499.0h1.5M565.8,1495.8h1.5M590.8,1494.9h1.5M545.2,1480.6h1.5M571.2,1514.0h1.5M552.8,1471.4h1.5M606.5,1506.4h1.5M582.2,1517.2h1.5M565.7,1488.9h1.5M568.3,1528.5h1.5M560.9,1506.8h1.5M516.2,1514.2h1.5M544.8,1513.7h1.5M552.1,1513.8h1.5M527.0,1515.3h1.5M574.2,1527.7h1.5M570.5,1509.7h1.5M575.0,1472.5h1.5M541.1,1490.2h1.5M536.1,1541.3h1.5M519.2,1509.2h1.5M560.0,1486.9h1.5M570.5,1485.9h1.5M529.0,1484.6h1.5M566.2,1515.8h1.5M571.5,1487.8h1.5M580.4,1523.1h1.5M529.2,1527.7h1.5M573.8,1525.1h1.5M575.6,1499.1h1.5M544.4,1521.5h1.5M570.8,1511.8h1.5M550.6,1531.0h1.5M583.3,1523.3h1.5M545.2,1513.4h1.5M528.8,1509.2h1.5M564.2,1474.4h1.5M575.5,1502.6h1.5M550.7,1506.2h1.5M571.8,1465.7h1.5M555.2,1521.4h1.5M579.6,1509.6h1.5M537.1,1507.8h1.5M572.4,1503.6h1.5M565.9,1542.9h1.5M606.6,1487.8h1.5M592.6,1478.3h1.5M540.3,1483.5h1.5M576.9,1496.0h1.5M532.8,1533.5h1.5M564.3,1498.2h1.5M568.0,1489.5h1.5M567.1,1508.7h1.5M537.5,1514.9h1.5M576.2,1532.3h1.5M570.7,1504.5h1.5M541.0,1504.7h1.5M566.2,1483.5h1.5M561.4,1517.3h1.5M601.0,1496.1h1.5M555.1,1493.1h1.5M525.8,1523.7h1.5M537.3,1539.9h1.5M593.3,1509.2h1.5M554.4,1482.5h1.5M512.6,1498.8h1.5M544.7,1538.8h1.5M555.6,1472.9h1.5M594.3,1512.1h1.5M553.4,1514.2h1.5M577.1,1493.4h1.5M537.1,1490.5h1.5M524.8,1506.6h1.5M538.7,1514.4h1.5M568.8,1532.1h1.5M554.0,1491.3h1.5M527.5,1541.5h1.5M559.5,1533.6h1.5M566.7,1505.4h1.5M580.9,1506.2h1.5M549.1,1508.5h1.5M550.7,1503.2h1.5M580.9,1509.1h1.5M560.1,1541.2h1.5M557.9,1526.0h1.5M548.8,1505.5h1.5M570.3,1506.0h1.5M579.2,1469.5h1.5M550.7,1475.7h1.5M581.3,1522.4h1.5M567.8,1504.2h1.5M560.0,1503.7h1.5M543.7,1518.3h1.5M571.6,1533.1h1.5M624.6,1463.9h1.5M551.3,1498.1h1.5M573.0,1534.0h1.5M528.7,1523.1h1.5M569.6,1529.4h1.5M573.6,1489.5h1.5M568.5,1493.9h1.5M571.2,1527.2h1.5M578.0,1467.2h1.5M576.8,1494.3h1.5M543.5,1479.9h1.5M559.4,1522.0h1.5M542.7,1515.9h1.5M555.9,1465.2h1.5M558.1,1500.2h1.5M547.4,1503.0h1.5M561.8,1526.6h1.5M545.7,1501.8h1.5M539.1,1502.1h1.5M559.4,1510.6h1.5M563.3,1526.2h1.5M555.6,1501.0h1.5M567.2,1502.4h1.5M554.6,1523.7h1.5M557.4,1497.9h1.5M573.3,1539.9h1.5M568.8,1500.3h1.5M579.1,1512.8h1.5M539.7,1532.8h1.5M592.5,1489.0h1.5M554.0,1519.1h1.5M569.9,1506.5h1.5M592.0,1468.3h1.5M550.9,1517.6h1.5M522.2,1536.4h1.5M583.2,1504.1h1.5M615.2,1474.7h1.5M562.9,1464.9h1.5M555.8,1461.9h1.5M532.5,1540.5h1.5M597.9,1487.5h1.5M562.7,1491.9h1.5M541.5,1527.7h1.5M567.7,1489.7h1.5M525.2,1503.3h1.5M555.3,1491.6h1.5M579.6,1513.1h1.5M555.0,1505.2h1.5M609.0,1478.7h1.5M567.6,1502.6h1.5M573.7,1519.4h1.5M566.4,1498.3h1.5M544.6,1492.3h1.5M540.8,1482.5h1.5M543.9,1509.9h1.5M533.9,1482.7h1.5M589.0,1517.0h1.5M550.1,1513.1h1.5M557.9,1512.6h1.5M519.5,1529.1h1.5M572.9,1484.8h1.5M565.4,1532.3h1.5M595.4,1520.4h1.5M580.4,1522.4h1.5M563.6,1525.2h1.5M535.4,1535.2h1.5M569.6,1461.4h1.5M563.3,1520.7h1.5M573.5,1484.7h1.5M582.4,1517.4h1.5M564.4,1533.6h1.5M550.7,1513.9h1.5M562.4,1461.6h1.5M571.1,1515.0h1.5M548.3,1507.5h1.5M575.7,1508.6h1.5M565.5,1519.7h1.5M525.2,1485.1h1.5M538.9,1525.0h1.5M551.6,1487.7h1.5M539.6,1544.3h1.5M561.8,1513.1h1.5M594.0,1522.5h1.5M577.9,1533.4h1.5M599.7,1519.8h1.5M522.6,1505.1h1.5M559.1,1508.8h1.5M534.8,1507.3h1.5M557.4,1492.6h1.5M543.9,1540.4h1.5M607.4,1518.0h1.5M551.6,1460.8h1.5M579.6,1479.0h1.5M553.6,1511.9h1.5M553.9,1521.9h1.5M582.1,1497.4h1.5M569.9,1516.7h1.5M551.1,1470.8h1.5M558.1,1536.5h1.5M534.3,1492.3h1.5M545.3,1470.5h1.5M616.3,1469.9h1.5M568.8,1493.8h1.5M556.1,1527.9h1.5M537.3,1502.9h1.5M587.5,1481.7h1.5M653.6,1502.0h1.5M650.0,1482.0h1.5M654.3,1490.4h1.5M644.8,1449.2h1.5M656.5,1501.2h1.5M656.2,1477.4h1.5M645.3,1532.7h1.5M652.2,1509.9h1.5M655.9,1498.3h1.5M652.9,1493.6h1.5M651.6,1488.1h1.5M654.7,1481.4h1.5M649.8,1519.9h1.5M652.7,1538.0h1.5M650.1,1504.1h1.5M651.4,1524.1h1.5M646.7,1492.2h1.5M657.3,1503.8h1.5M653.3,1527.5h1.5M653.1,1485.9h1.5M652.8,1495.0h1.5M651.9,1504.3h1.5M655.0,1531.0h1.5M657.4,1486.0h1.5M652.9,1532.4h1.5M650.1,1489.9h1.5M658.4,1520.3h1.5M652.4,1509.6h1.5M654.3,1502.1h1.5M652.4,1535.1h1.5M651.1,1471.8h1.5M655.7,1543.7h1.5M650.4,1514.1h1.5M652.6,1487.6h1.5M548.4,1492.5h1.5M578.1,1493.1h1.5M628.9,1504.7h1.5M657.6,1540.3h1.5M644.5,1491.2h1.5M652.9,1461.6h1.5M561.5,1516.4h1.5M645.5,1495.2h1.5M623.1,1476.5h1.5M571.1,1468.6h1.5M686.7,1483.2h1.5M624.0,1433.1h1.5M689.7,1458.3h1.5M627.0,1444.2h1.5M649.7,1489.5h1.5M580.4,1527.1h1.5M678.3,1493.9h1.5M592.3,1500.7h1.5M600.3,1466.0h1.5" stroke="#a9b1ec" stroke-width="1.5" fill="none"/>
<path d="M580.7,1485.3h1.45M590.8,1503.1h1.45M586.8,1488.6h1.45M577.7,1493.9h1.45M603.5,1475.6h1.45M591.8,1499.4h1.45M590.2,1500.1h1.45M577.8,1487.2h1.45M582.5,1495.8h1.45M596.6,1480.4h1.45M565.2,1506.7h1.45M587.3,1508.9h1.45M593.3,1499.6h1.45M587.5,1504.4h1.45M538.6,1511.9h1.45M538.9,1510.5h1.45M591.7,1488.3h1.45M586.9,1475.8h1.45M595.8,1490.7h1.45M571.3,1523.3h1.45M589.4,1483.2h1.45M596.2,1510.8h1.45M561.3,1490.2h1.45M588.3,1468.3h1.45M583.8,1470.6h1.45M553.3,1494.7h1.45M560.4,1493.1h1.45M592.4,1502.3h1.45M580.2,1477.3h1.45M588.0,1496.3h1.45M586.5,1506.9h1.45M590.2,1505.2h1.45M586.0,1511.0h1.45M573.0,1473.2h1.45M582.4,1501.7h1.45M588.0,1477.2h1.45M591.1,1479.1h1.45M593.3,1504.0h1.45M575.0,1486.1h1.45M570.5,1505.7h1.45M571.6,1507.6h1.45M594.7,1481.8h1.45M599.0,1493.0h1.45M595.4,1462.2h1.45M582.5,1501.8h1.45M589.6,1523.6h1.45M573.5,1482.9h1.45M582.7,1479.4h1.45M592.8,1466.2h1.45M596.6,1477.1h1.45M568.6,1504.7h1.45M588.1,1493.4h1.45M587.6,1489.5h1.45M586.2,1499.2h1.45M563.2,1483.5h1.45M569.3,1481.8h1.45M578.1,1486.5h1.45M589.4,1504.8h1.45M581.5,1487.9h1.45M586.0,1523.3h1.45M586.5,1502.9h1.45M586.6,1512.5h1.45M582.0,1477.4h1.45M584.5,1496.0h1.45M595.9,1465.4h1.45M547.7,1531.4h1.45M589.4,1483.8h1.45M589.4,1492.1h1.45M595.9,1507.1h1.45M589.2,1499.5h1.45M577.0,1487.2h1.45M588.5,1470.0h1.45M544.4,1467.4h1.45M587.4,1508.2h1.45M575.4,1481.8h1.45M587.5,1494.4h1.45M594.7,1481.0h1.45M577.8,1482.5h1.45M586.1,1459.9h1.45M586.0,1477.9h1.45M586.7,1494.5h1.45M593.0,1497.9h1.45M564.4,1489.5h1.45M588.3,1488.0h1.45M590.6,1465.1h1.45M583.5,1497.8h1.45M587.5,1502.5h1.45M575.6,1498.2h1.45M576.8,1475.7h1.45M591.7,1529.7h1.45M579.8,1486.0h1.45M563.3,1481.8h1.45M594.4,1482.9h1.45M589.0,1501.4h1.45M600.1,1470.1h1.45M576.3,1478.9h1.45M589.4,1497.6h1.45M551.3,1515.4h1.45M586.8,1490.2h1.45M585.0,1482.9h1.45M582.1,1504.3h1.45M589.8,1494.7h1.45M576.5,1524.0h1.45M587.7,1496.4h1.45M583.5,1520.1h1.45M584.2,1457.3h1.45M608.5,1443.2h1.45M584.3,1492.7h1.45M586.8,1492.5h1.45M576.8,1471.0h1.45M585.2,1487.0h1.45M583.3,1482.4h1.45M586.8,1491.3h1.45M585.3,1498.2h1.45M586.5,1499.8h1.45M584.2,1483.1h1.45M590.2,1495.0h1.45M590.6,1503.7h1.45M579.9,1494.6h1.45M573.1,1455.1h1.45M596.8,1481.2h1.45M587.7,1468.5h1.45M568.5,1480.5h1.45M597.6,1472.5h1.45M586.9,1510.9h1.45M555.8,1496.1h1.45M589.7,1493.5h1.45M591.6,1475.5h1.45M591.1,1522.6h1.45M582.6,1490.0h1.45M577.2,1501.6h1.45M590.4,1483.3h1.45M588.5,1456.8h1.45M567.9,1488.9h1.45M586.3,1475.1h1.45M591.1,1499.9h1.45M582.8,1487.8h1.45M587.0,1504.5h1.45M576.5,1495.6h1.45M587.2,1484.4h1.45M600.0,1475.4h1.45M582.7,1485.7h1.45M586.1,1481.3h1.45M568.8,1512.6h1.45M592.3,1498.8h1.45M595.0,1509.7h1.45M574.6,1446.0h1.45M587.7,1520.8h1.45M573.7,1473.4h1.45M595.1,1468.6h1.45M590.5,1480.4h1.45M585.6,1501.0h1.45M585.3,1480.8h1.45M558.0,1486.7h1.45M590.2,1462.6h1.45M589.1,1473.1h1.45M582.2,1475.7h1.45M574.5,1497.6h1.45M573.5,1480.7h1.45M573.3,1512.7h1.45M547.3,1495.4h1.45M580.0,1487.1h1.45M579.2,1498.2h1.45M534.4,1492.7h1.45M577.6,1485.4h1.45M515.8,1502.3h1.45M526.1,1495.4h1.45M573.2,1500.0h1.45M565.6,1459.9h1.45M564.2,1504.5h1.45M525.1,1507.1h1.45M520.8,1542.1h1.45M611.0,1492.8h1.45M558.7,1504.4h1.45M548.9,1503.1h1.45M571.5,1489.1h1.45M564.3,1497.4h1.45M612.6,1541.2h1.45M519.1,1524.9h1.45M513.1,1520.4h1.45M562.0,1480.3h1.45M575.6,1494.7h1.45M562.3,1511.7h1.45M544.5,1506.8h1.45M550.0,1528.6h1.45M561.0,1514.8h1.45M609.7,1476.7h1.45M576.2,1489.5h1.45M583.6,1521.5h1.45M548.3,1534.5h1.45M592.7,1491.0h1.45M548.3,1519.9h1.45M584.4,1473.6h1.45M590.9,1499.1h1.45M540.2,1509.8h1.45M588.0,1490.7h1.45M560.7,1538.7h1.45M582.8,1544.7h1.45M550.8,1493.8h1.45M542.7,1512.3h1.45M576.5,1513.4h1.45M561.8,1493.2h1.45M555.5,1544.5h1.45M605.2,1505.3h1.45M592.1,1481.2h1.45M589.3,1488.4h1.45M531.7,1499.0h1.45M576.3,1513.5h1.45M596.2,1497.4h1.45M545.2,1532.9h1.45M597.6,1478.5h1.45M576.6,1488.4h1.45M558.6,1500.4h1.45M562.3,1512.9h1.45M584.4,1492.6h1.45M573.6,1469.3h1.45M576.8,1501.0h1.45M568.4,1533.0h1.45M569.1,1498.3h1.45M569.9,1524.9h1.45M535.1,1533.5h1.45M573.2,1528.3h1.45M572.3,1527.9h1.45M568.4,1519.2h1.45M523.9,1505.8h1.45M575.1,1479.0h1.45M591.9,1505.2h1.45M566.3,1495.9h1.45M528.1,1539.8h1.45M568.9,1489.5h1.45M575.6,1511.4h1.45M555.5,1516.1h1.45M517.7,1512.1h1.45M584.2,1482.8h1.45M582.6,1488.9h1.45M557.6,1426.4h1.45M573.4,1498.8h1.45M596.0,1480.1h1.45M582.9,1531.8h1.45M570.7,1509.3h1.45M522.2,1485.7h1.45M623.2,1464.9h1.45M654.8,1507.8h1.45M650.4,1512.2h1.45M658.1,1460.6h1.45M648.7,1514.0h1.45M656.5,1505.0h1.45M652.7,1507.4h1.45M655.8,1512.0h1.45M651.8,1535.4h1.45M651.6,1515.8h1.45M654.9,1494.5h1.45M656.9,1527.1h1.45M537.2,1484.0h1.45M600.9,1480.7h1.45M621.3,1498.5h1.45M663.9,1500.0h1.45M563.2,1459.4h1.45M610.1,1463.5h1.45M631.9,1529.6h1.45M598.6,1491.2h1.45" stroke="#5661d9" stroke-width="1.45" fill="none"/>
<path d="M598.5,1494.2h1.45M584.0,1487.3h1.45M591.7,1490.9h1.45M581.8,1493.1h1.45M586.8,1490.6h1.45M578.6,1479.7h1.45M587.5,1503.5h1.45M590.4,1489.6h1.45M588.0,1482.8h1.45M589.2,1492.8h1.45M591.5,1488.6h1.45M581.8,1486.2h1.45M577.8,1502.6h1.45M587.3,1488.8h1.45M584.2,1499.4h1.45M589.9,1487.6h1.45M573.1,1484.4h1.45M588.6,1488.5h1.45M585.5,1499.1h1.45M583.0,1485.8h1.45M587.8,1495.5h1.45M597.0,1481.2h1.45M595.9,1479.8h1.45M588.5,1493.9h1.45M586.0,1476.0h1.45M575.1,1500.0h1.45M588.0,1494.6h1.45M587.3,1487.2h1.45M588.5,1489.5h1.45M587.3,1478.2h1.45M587.4,1503.4h1.45M588.1,1483.8h1.45M584.0,1490.8h1.45M580.3,1490.9h1.45M576.1,1478.0h1.45M581.5,1490.8h1.45M597.5,1498.1h1.45M582.7,1501.1h1.45M583.1,1492.7h1.45M572.8,1491.7h1.45M570.7,1493.0h1.45M585.9,1495.4h1.45M587.9,1493.9h1.45M587.2,1492.8h1.45M586.9,1494.2h1.45M583.0,1477.0h1.45M587.3,1495.1h1.45M587.1,1491.9h1.45" stroke="#2323aa" stroke-width="1.45" fill="none"/>
<path d="M591.2,1489.1h1.5" stroke="#1cc0a0" stroke-width="1.5" fill="none"/>
<line x1="514.0" y1="1546.3" x2="660.0" y2="1546.3" stroke="#25307f" stroke-width="1.1" stroke-dasharray="2.2 1.6" opacity="0.75"/>
<line x1="594.3" y1="1546.3" x2="619.1" y2="1546.3" stroke="#b9d63c" stroke-width="1.2" opacity="0.75"/>
<rect x="602.0" y="1328.5" width="83.8" height="87.1" fill="none" stroke="#4646cc" stroke-width="2"/>
<text x="629.8" y="1319.6" font-size="20.6" text-anchor="start" fill="#111" >0.0</text>
<path d="M966.1,1547.6v4M975.7,1547.6v4M982.4,1547.6v4M987.7,1547.6v5.5M992.0,1547.6v4M995.6,1547.6v4M998.7,1547.6v4M1001.5,1547.6v4M1020.3,1547.6v4M1029.9,1547.6v4M1036.6,1547.6v4M1041.9,1547.6v5.5M1046.2,1547.6v4M1049.8,1547.6v4M1052.9,1547.6v4M1055.7,1547.6v4M1073.0,1547.6v4M1082.6,1547.6v4M1089.3,1547.6v4M1094.6,1547.6v5.5M1098.9,1547.6v4M1102.5,1547.6v4M1105.6,1547.6v4M1108.4,1547.6v4M1127.0,1547.6v4M1136.6,1547.6v4M1143.3,1547.6v4M1148.6,1547.6v5.5M1152.9,1547.6v4M1156.5,1547.6v4M1159.6,1547.6v4M1162.4,1547.6v4M1180.6,1547.6v4M928.2,1547.6v4M933.5,1547.6v5.5M937.8,1547.6v4M941.4,1547.6v4M944.5,1547.6v4M947.3,1547.6v4M921.5,1277.0h-4M921.5,1332.9h-4M921.5,1323.0h-4M921.5,1316.0h-4M921.5,1310.6h-5.5M921.5,1306.2h-4M921.5,1302.5h-4M921.5,1299.2h-4M921.5,1296.4h-4M921.5,1389.3h-4M921.5,1379.4h-4M921.5,1372.4h-4M921.5,1367.0h-5.5M921.5,1362.6h-4M921.5,1358.9h-4M921.5,1355.6h-4M921.5,1352.8h-4M921.5,1444.8h-4M921.5,1434.9h-4M921.5,1427.9h-4M921.5,1422.5h-5.5M921.5,1418.1h-4M921.5,1414.4h-4M921.5,1411.1h-4M921.5,1408.3h-4M921.5,1500.8h-4M921.5,1490.9h-4M921.5,1483.9h-4M921.5,1478.5h-5.5M921.5,1474.1h-4M921.5,1470.4h-4M921.5,1467.1h-4M921.5,1464.3h-4M921.5,1539.8h-4M921.5,1534.4h-5.5M921.5,1530.0h-4M921.5,1526.3h-4M921.5,1523.0h-4M921.5,1520.2h-4" stroke="#000" stroke-width="1.6" fill="none"/>
<path d="M949.8,1547.6v7.5M1004.0,1547.6v7.5M1056.7,1547.6v7.5M1110.7,1547.6v7.5M1164.3,1547.6v7.5M921.5,1293.8h-7.5M921.5,1349.7h-7.5M921.5,1406.1h-7.5M921.5,1461.6h-7.5M921.5,1517.6h-7.5" stroke="#000" stroke-width="3" fill="none"/>
<rect x="921.5" y="1269.6" width="265.9" height="278.0" fill="#fff" stroke="#2a2a2a" stroke-width="1.1"/>
<path d="M1030.6,1424.5h1.5M1050.6,1471.9h1.5M1052.5,1470.2h1.5M1032.7,1455.8h1.5M1040.8,1478.1h1.5M1056.1,1437.5h1.5M1062.5,1490.8h1.5M1055.4,1427.7h1.5M1056.7,1431.9h1.5M1068.4,1450.0h1.5M1045.3,1495.8h1.5M1011.9,1460.1h1.5M1026.5,1450.2h1.5M1032.4,1473.5h1.5M1066.3,1457.8h1.5M1014.1,1447.0h1.5M1059.6,1481.3h1.5M1051.5,1481.4h1.5M1046.5,1480.0h1.5M1057.0,1475.9h1.5M1063.5,1472.5h1.5M1059.1,1454.5h1.5M1037.5,1415.3h1.5M1053.8,1462.3h1.5M1055.4,1425.6h1.5M1039.0,1450.1h1.5M1010.8,1477.1h1.5M1054.2,1495.1h1.5M1023.5,1479.3h1.5M1069.0,1499.0h1.5M1020.2,1439.4h1.5M1051.2,1484.9h1.5M1037.5,1471.9h1.5M1053.9,1468.3h1.5M1063.5,1471.7h1.5M1022.3,1449.7h1.5M1060.2,1464.9h1.5M1091.5,1463.6h1.5M1054.8,1470.7h1.5M1043.6,1484.3h1.5M1059.6,1469.9h1.5M1020.3,1484.5h1.5M991.5,1457.6h1.5M1023.3,1455.7h1.5M1061.7,1464.5h1.5M1047.4,1474.6h1.5M1059.4,1464.5h1.5M1065.3,1476.9h1.5M1048.2,1446.9h1.5M1020.5,1460.7h1.5M1038.4,1472.2h1.5M1032.4,1474.0h1.5M1074.4,1420.8h1.5M1062.7,1485.0h1.5M1036.6,1455.8h1.5M1026.9,1460.5h1.5M1025.8,1486.3h1.5M1051.6,1488.8h1.5M1022.4,1419.4h1.5M1000.1,1451.6h1.5M1021.5,1466.9h1.5M1057.2,1477.6h1.5M1053.0,1437.8h1.5M1030.6,1504.4h1.5M1050.0,1460.7h1.5M1045.6,1450.0h1.5M1038.1,1421.4h1.5M1070.1,1460.6h1.5M1020.9,1469.9h1.5M1057.0,1433.7h1.5M1038.1,1489.7h1.5M1042.9,1491.9h1.5M1056.7,1462.4h1.5M1022.7,1496.8h1.5M1055.0,1443.9h1.5M1030.7,1459.7h1.5M1003.1,1466.9h1.5M1033.6,1455.5h1.5M1030.1,1473.4h1.5M1053.0,1482.5h1.5M1049.6,1467.2h1.5M1031.7,1449.7h1.5M1058.2,1445.1h1.5M1007.5,1452.4h1.5M1051.7,1489.9h1.5M1033.8,1442.2h1.5M1051.6,1451.3h1.5M1061.1,1467.4h1.5M1018.4,1459.9h1.5M1047.6,1482.4h1.5M1060.8,1461.3h1.5M1047.8,1465.1h1.5M1040.2,1439.6h1.5M1069.7,1485.5h1.5M1068.3,1446.1h1.5M1056.4,1434.7h1.5M1033.4,1450.5h1.5M1060.6,1482.7h1.5M1028.9,1437.9h1.5M1010.8,1455.0h1.5M1055.9,1446.6h1.5M1052.9,1438.9h1.5M1059.5,1451.5h1.5M1038.8,1441.8h1.5M1059.8,1470.1h1.5M1014.9,1445.2h1.5M1053.8,1472.8h1.5M1030.0,1505.6h1.5M1043.1,1471.1h1.5M1048.7,1470.0h1.5M1066.5,1463.4h1.5M1055.8,1463.9h1.5M1007.1,1441.5h1.5M1029.2,1433.1h1.5M1035.5,1426.2h1.5M1051.4,1450.5h1.5M1021.7,1455.1h1.5M1048.6,1447.6h1.5M1041.0,1439.5h1.5M1033.1,1465.1h1.5M1003.9,1443.3h1.5M1040.7,1488.3h1.5M1062.1,1475.9h1.5M1060.3,1491.7h1.5M1056.5,1456.6h1.5M1039.2,1434.8h1.5M1018.0,1472.1h1.5M1046.1,1459.9h1.5M1065.2,1480.5h1.5M1052.8,1440.6h1.5M1062.4,1460.3h1.5M1047.3,1469.9h1.5M1024.3,1482.1h1.5M1046.8,1450.0h1.5M1045.7,1434.5h1.5M1012.5,1424.3h1.5M1052.2,1434.9h1.5M1048.8,1437.2h1.5M1069.2,1464.9h1.5M1035.1,1475.4h1.5M1040.8,1482.2h1.5M1014.7,1478.5h1.5M1049.8,1439.2h1.5M1012.9,1450.3h1.5M1041.0,1427.9h1.5M1059.5,1444.6h1.5M1034.2,1454.3h1.5M1047.7,1479.3h1.5M1045.6,1437.9h1.5M1051.3,1450.2h1.5M1016.0,1477.2h1.5M1044.5,1434.5h1.5M1039.8,1439.1h1.5M1068.6,1496.0h1.5M1027.4,1447.4h1.5M1061.0,1451.1h1.5M1052.3,1433.5h1.5M1047.4,1468.3h1.5M1003.9,1478.4h1.5M1056.7,1444.3h1.5M1070.2,1468.7h1.5M1053.1,1488.8h1.5M992.9,1456.7h1.5M1029.0,1412.6h1.5M1034.7,1439.3h1.5M1034.4,1449.7h1.5M1034.0,1456.4h1.5M1038.6,1419.6h1.5M1016.4,1401.4h1.5M1058.1,1480.7h1.5M1038.5,1449.7h1.5M1010.5,1452.5h1.5M1040.4,1434.7h1.5M1038.7,1478.0h1.5M1047.0,1450.0h1.5M1032.6,1463.3h1.5M1044.0,1489.0h1.5M1032.7,1461.3h1.5M1042.8,1482.1h1.5M1053.0,1435.3h1.5M1027.7,1448.5h1.5M1047.8,1479.5h1.5M1041.1,1444.6h1.5M1063.8,1490.0h1.5M1039.5,1461.2h1.5M1023.9,1423.1h1.5M1054.4,1481.6h1.5M1057.3,1445.1h1.5M1041.8,1438.0h1.5M1035.9,1411.8h1.5M1028.6,1484.4h1.5M1022.3,1490.7h1.5M1049.2,1421.8h1.5M1059.0,1441.7h1.5M1019.3,1443.3h1.5M1038.6,1492.5h1.5M1034.9,1464.7h1.5M1015.6,1462.6h1.5M1039.8,1461.9h1.5M1036.0,1450.1h1.5M1059.6,1478.2h1.5M1052.7,1474.1h1.5M1053.1,1429.6h1.5M1046.1,1438.9h1.5M1047.2,1497.1h1.5M1032.8,1457.1h1.5M1019.5,1489.3h1.5M1058.8,1428.0h1.5M1046.0,1446.7h1.5M1065.8,1472.8h1.5M1047.3,1467.9h1.5M1056.7,1445.2h1.5M1059.2,1467.8h1.5M1022.2,1427.3h1.5M1066.3,1488.4h1.5M1040.6,1468.7h1.5M1062.6,1475.2h1.5M1036.0,1465.8h1.5M1024.3,1413.5h1.5M1030.9,1469.1h1.5M1035.7,1464.6h1.5M1037.8,1486.4h1.5M1061.9,1488.9h1.5M1023.1,1486.4h1.5M1030.0,1477.9h1.5M1025.2,1469.7h1.5M1053.2,1499.4h1.5M1067.8,1445.2h1.5M1021.6,1459.4h1.5M1051.5,1482.9h1.5M1056.0,1443.9h1.5M1028.4,1465.0h1.5M1050.8,1473.7h1.5M1064.2,1418.5h1.5M1034.8,1469.5h1.5M1025.2,1490.4h1.5M1052.6,1470.4h1.5M1046.0,1474.7h1.5M1042.6,1456.4h1.5M1027.9,1462.0h1.5M1053.2,1490.1h1.5M1034.2,1479.1h1.5M1039.2,1461.9h1.5M1021.4,1470.0h1.5M1017.4,1477.4h1.5M1030.5,1463.5h1.5M1060.0,1444.9h1.5M1045.5,1500.0h1.5M1018.7,1461.0h1.5M1006.3,1464.6h1.5M1044.4,1438.5h1.5M1023.1,1482.4h1.5M1056.0,1437.7h1.5M1057.8,1443.2h1.5M1031.2,1466.7h1.5M1061.2,1448.9h1.5M1013.2,1473.2h1.5M1060.2,1434.8h1.5M1041.1,1478.0h1.5M1022.2,1460.7h1.5M1074.2,1435.0h1.5M1047.2,1442.0h1.5M1066.6,1430.1h1.5M1058.8,1469.1h1.5M1048.3,1492.3h1.5M1051.1,1482.6h1.5M1061.0,1462.7h1.5M1068.3,1486.1h1.5M1059.9,1448.4h1.5M1042.1,1474.1h1.5M1044.2,1434.0h1.5M1057.2,1470.8h1.5M1010.5,1460.3h1.5M1040.9,1457.8h1.5M1027.5,1438.3h1.5M1029.7,1451.8h1.5M1073.3,1470.8h1.5M1055.3,1500.4h1.5M1008.4,1425.0h1.5M1062.2,1473.5h1.5M1027.0,1434.7h1.5M1056.0,1454.5h1.5M1031.1,1449.3h1.5M1032.4,1470.0h1.5M1026.1,1462.5h1.5M983.6,1468.0h1.5M1021.1,1448.3h1.5M996.1,1453.6h1.5M1051.3,1483.5h1.5M1046.1,1436.5h1.5M1034.7,1467.6h1.5M1018.5,1442.5h1.5M1063.5,1469.4h1.5M1063.8,1445.8h1.5M1027.6,1424.9h1.5M1028.1,1468.7h1.5M1044.4,1494.6h1.5M1037.6,1437.1h1.5M1052.1,1418.2h1.5M1014.4,1463.6h1.5M1037.9,1445.0h1.5M1021.5,1472.0h1.5M1056.9,1442.6h1.5M1031.2,1434.2h1.5M1033.2,1441.7h1.5M1026.6,1432.3h1.5M1023.9,1453.7h1.5M1021.6,1426.8h1.5M1031.2,1469.8h1.5M1034.8,1420.7h1.5M1069.2,1433.8h1.5M1079.9,1475.7h1.5M1060.3,1473.5h1.5M988.6,1456.4h1.5M1047.4,1464.7h1.5M1060.5,1454.6h1.5M1025.6,1463.2h1.5M1022.3,1463.2h1.5M950.9,1470.3h1.5M1063.1,1467.5h1.5M1026.7,1459.0h1.5M1082.1,1514.3h1.5M987.1,1448.8h1.5M1043.7,1487.0h1.5M1003.4,1449.8h1.5M1053.9,1499.8h1.5M1010.6,1457.5h1.5M1028.5,1498.0h1.5M1049.5,1478.1h1.5M1087.7,1489.2h1.5M1040.1,1512.0h1.5M982.2,1458.0h1.5M1059.4,1476.6h1.5M1065.0,1503.1h1.5M1079.0,1468.8h1.5M1047.1,1504.8h1.5M1010.8,1487.9h1.5M1019.7,1537.9h1.5M1081.8,1467.6h1.5M973.7,1471.3h1.5M1057.2,1481.8h1.5M1018.6,1493.4h1.5M1020.7,1443.6h1.5M1103.2,1536.4h1.5M1061.5,1457.0h1.5M1060.3,1447.7h1.5M1011.3,1413.1h1.5M1023.6,1449.7h1.5M1035.7,1467.7h1.5M1039.5,1502.1h1.5M1037.6,1447.3h1.5M1018.8,1500.2h1.5M1058.6,1397.3h1.5M1046.8,1444.5h1.5M1066.2,1496.7h1.5M1022.3,1464.6h1.5M1018.4,1471.6h1.5M1008.8,1500.2h1.5M1048.1,1477.3h1.5M1074.3,1472.9h1.5M1006.8,1474.4h1.5M985.5,1480.0h1.5M1043.2,1485.4h1.5M1040.6,1523.0h1.5M1121.2,1470.5h1.5M1061.3,1465.6h1.5M1031.8,1468.3h1.5M1033.5,1455.2h1.5M1017.8,1460.1h1.5M974.3,1477.7h1.5M967.6,1458.9h1.5M1036.4,1450.3h1.5M1039.1,1521.6h1.5M1042.5,1454.6h1.5M1048.3,1448.1h1.5M988.0,1445.8h1.5M1053.3,1487.2h1.5M984.9,1425.3h1.5M1013.8,1431.0h1.5M1005.7,1505.2h1.5M999.3,1430.0h1.5M1070.2,1469.4h1.5M1019.7,1457.6h1.5M1027.2,1500.5h1.5M1002.0,1480.1h1.5M998.5,1425.4h1.5M1018.6,1420.3h1.5M1043.0,1524.6h1.5M1089.5,1471.9h1.5M1076.9,1473.5h1.5M1037.6,1486.5h1.5M1035.3,1459.5h1.5M1047.1,1497.1h1.5M1004.2,1452.4h1.5M1010.9,1494.0h1.5M1017.3,1502.4h1.5M1034.2,1454.6h1.5M1047.6,1411.0h1.5M1034.1,1466.2h1.5M1045.0,1490.8h1.5M1010.9,1448.6h1.5M1024.6,1465.7h1.5M995.2,1469.3h1.5M1058.1,1450.8h1.5M988.2,1487.9h1.5M1075.3,1480.7h1.5M1079.1,1500.3h1.5M1101.8,1488.0h1.5M1075.1,1496.3h1.5M1025.5,1495.5h1.5M1060.1,1407.3h1.5M1034.5,1494.6h1.5M1044.7,1439.8h1.5M1060.4,1453.1h1.5M1060.9,1477.7h1.5M1068.5,1448.1h1.5M1089.5,1461.7h1.5M1032.8,1454.0h1.5M1035.3,1472.9h1.5M1030.4,1487.0h1.5M1054.5,1463.8h1.5M1036.7,1475.0h1.5M1063.8,1505.5h1.5M1013.7,1488.9h1.5M1057.8,1431.0h1.5M1025.5,1435.8h1.5M980.0,1469.5h1.5M1032.3,1464.2h1.5M1079.9,1451.0h1.5M989.9,1477.6h1.5M1013.1,1489.1h1.5M1015.3,1438.0h1.5M1014.1,1466.9h1.5M1036.4,1434.4h1.5M1049.3,1505.4h1.5M993.7,1482.9h1.5M1016.9,1392.4h1.5M1042.9,1436.6h1.5M961.7,1441.6h1.5M1001.2,1488.7h1.5M1055.1,1509.5h1.5M1074.0,1489.6h1.5M1039.7,1434.4h1.5M1036.9,1496.3h1.5M1063.4,1450.7h1.5M977.8,1443.4h1.5M990.7,1475.1h1.5M998.8,1439.2h1.5M1029.7,1459.5h1.5M1046.5,1506.8h1.5M1017.6,1483.2h1.5M1118.6,1480.4h1.5M1021.6,1471.8h1.5M1033.8,1459.6h1.5M1079.4,1523.2h1.5M1027.3,1447.1h1.5M1041.3,1494.9h1.5M1032.8,1508.8h1.5M1040.4,1479.4h1.5M1046.8,1477.2h1.5M1067.4,1452.4h1.5M984.8,1451.6h1.5M1051.2,1511.8h1.5M1066.3,1493.5h1.5M1047.4,1442.7h1.5M1036.0,1462.9h1.5M1014.0,1473.0h1.5M1027.8,1445.1h1.5M1085.0,1448.8h1.5M1021.2,1400.9h1.5M1035.0,1472.4h1.5M1006.5,1528.7h1.5M1028.3,1478.8h1.5M1041.7,1468.8h1.5M1079.7,1483.9h1.5M1060.2,1509.6h1.5M1062.4,1470.5h1.5M1009.9,1494.0h1.5M1038.5,1427.9h1.5M1058.2,1521.6h1.5M1067.4,1480.0h1.5M1083.9,1484.9h1.5M1011.4,1475.3h1.5M1058.5,1461.8h1.5M1016.3,1434.3h1.5M1081.8,1490.7h1.5M1016.3,1508.2h1.5M1040.5,1444.7h1.5M1018.1,1487.7h1.5M1029.5,1399.9h1.5M1008.0,1482.1h1.5M1010.8,1433.4h1.5M1005.1,1409.8h1.5M1078.0,1409.3h1.5M1008.2,1482.5h1.5M1056.0,1499.2h1.5M1014.8,1468.0h1.5M1090.6,1446.5h1.5M1012.2,1493.5h1.5M1062.8,1532.3h1.5M1065.4,1450.2h1.5M1087.3,1452.6h1.5M1024.5,1470.9h1.5M1075.5,1433.8h1.5M1064.3,1502.1h1.5M1041.8,1437.9h1.5M981.7,1522.3h1.5M1017.3,1399.6h1.5M1047.9,1418.0h1.5M1077.4,1497.9h1.5M1029.7,1443.8h1.5M979.8,1434.6h1.5M1085.9,1458.9h1.5M1031.0,1497.6h1.5M1023.7,1495.1h1.5M1053.9,1446.7h1.5M1026.2,1488.5h1.5M1067.0,1512.7h1.5M1039.5,1453.8h1.5M1031.6,1474.6h1.5M1071.1,1422.6h1.5M1085.9,1482.1h1.5M1077.3,1525.4h1.5M1030.4,1504.2h1.5M994.1,1454.9h1.5M1011.6,1509.0h1.5M1068.0,1479.8h1.5M1021.8,1480.7h1.5M1055.7,1511.4h1.5M974.1,1456.9h1.5M1045.2,1460.8h1.5M1019.8,1453.6h1.5M1023.6,1493.5h1.5M1083.8,1513.2h1.5M1020.4,1477.3h1.5M1038.9,1486.6h1.5M1012.5,1474.7h1.5M1046.4,1446.1h1.5M1043.6,1486.6h1.5M1035.9,1454.0h1.5M1046.5,1479.6h1.5M1016.7,1463.2h1.5M1039.2,1443.4h1.5M1051.3,1452.6h1.5M1006.2,1503.0h1.5M1073.4,1432.8h1.5M1026.7,1440.6h1.5M984.7,1498.7h1.5M1025.9,1494.9h1.5M1026.8,1437.7h1.5M1060.2,1456.2h1.5M1060.7,1428.9h1.5M1079.1,1517.0h1.5M1020.6,1408.7h1.5M985.1,1461.0h1.5M983.7,1456.7h1.5M1052.0,1458.9h1.5M1015.3,1468.5h1.5M1019.4,1478.4h1.5M1025.1,1513.2h1.5M1049.4,1483.3h1.5M986.0,1444.8h1.5M1057.7,1481.5h1.5M1063.0,1434.6h1.5M1045.1,1454.8h1.5M992.3,1493.5h1.5M1081.8,1461.4h1.5M1064.3,1465.0h1.5M1008.7,1413.6h1.5M1027.0,1501.3h1.5M1061.1,1449.4h1.5M1021.4,1458.4h1.5M1047.5,1447.8h1.5M1005.9,1475.1h1.5M1096.9,1480.2h1.5M1024.5,1453.9h1.5M1079.6,1445.5h1.5M1013.9,1451.4h1.5M1033.0,1451.4h1.5M1034.3,1471.6h1.5M1074.4,1482.8h1.5M988.6,1460.3h1.5M1011.3,1434.9h1.5M1027.0,1445.3h1.5M1076.7,1462.7h1.5M1018.7,1478.5h1.5M992.4,1416.6h1.5M992.1,1438.9h1.5M987.2,1514.6h1.5M1080.9,1449.3h1.5M1090.8,1501.2h1.5M1054.5,1436.3h1.5M1117.6,1443.4h1.5M1120.5,1507.9h1.5M1115.0,1489.7h1.5M1113.9,1473.5h1.5M1106.9,1466.6h1.5M1123.2,1489.5h1.5M1105.4,1455.7h1.5M1116.9,1481.3h1.5M1108.9,1477.3h1.5M1119.6,1453.1h1.5M1107.0,1441.8h1.5M1112.6,1488.0h1.5M1112.4,1470.8h1.5M1099.4,1466.1h1.5M1110.3,1495.0h1.5M1117.9,1436.8h1.5M1122.9,1510.4h1.5M1114.2,1470.8h1.5M1111.6,1475.9h1.5M1105.0,1520.7h1.5M1120.6,1488.2h1.5M1109.4,1452.0h1.5M1110.7,1457.6h1.5M1119.6,1432.2h1.5M1112.9,1460.8h1.5M1111.7,1476.5h1.5M1115.2,1418.0h1.5M1117.7,1459.8h1.5M1115.9,1458.9h1.5M1103.7,1479.5h1.5M1120.3,1435.2h1.5M1124.0,1484.6h1.5M1114.6,1479.5h1.5M1129.1,1462.5h1.5M1101.3,1447.4h1.5M1109.4,1457.5h1.5M1118.0,1477.4h1.5M1114.2,1437.2h1.5M1116.6,1470.7h1.5M1116.8,1464.4h1.5M1121.3,1443.6h1.5M1112.2,1481.4h1.5M1110.9,1472.9h1.5M1120.8,1522.4h1.5M1113.2,1429.5h1.5M1118.8,1475.3h1.5M1107.1,1482.4h1.5M1127.8,1432.4h1.5M1100.1,1473.1h1.5M1123.5,1475.1h1.5M1105.0,1450.1h1.5M1110.8,1493.8h1.5M1109.0,1469.8h1.5M1104.7,1477.7h1.5M1111.9,1452.1h1.5M1115.1,1467.6h1.5M1116.5,1446.4h1.5M1107.2,1464.4h1.5M1113.4,1433.6h1.5M1112.5,1491.3h1.5M1106.2,1474.3h1.5M1121.6,1461.3h1.5M1116.5,1445.2h1.5M1101.6,1483.4h1.5M1113.9,1500.2h1.5M1119.4,1502.3h1.5M1119.4,1453.6h1.5M1115.2,1478.6h1.5M1109.1,1460.3h1.5M1122.3,1475.9h1.5M1115.5,1460.8h1.5M1115.1,1463.8h1.5M1114.5,1476.3h1.5M1108.1,1469.6h1.5M1109.0,1467.3h1.5M1103.3,1463.5h1.5M1110.5,1476.2h1.5M1110.9,1435.7h1.5M1108.3,1487.4h1.5M1107.7,1455.4h1.5M1106.9,1472.5h1.5M1108.0,1479.3h1.5M1115.6,1438.6h1.5M1111.6,1479.8h1.5M1099.5,1459.0h1.5M1110.6,1466.4h1.5M1122.1,1437.1h1.5M1108.5,1497.8h1.5M1114.3,1475.4h1.5M1109.8,1452.1h1.5M1105.1,1492.4h1.5M1113.8,1437.4h1.5M1117.4,1453.1h1.5M1120.5,1435.9h1.5M1108.9,1459.5h1.5M1102.7,1475.5h1.5M1118.7,1458.9h1.5M1105.4,1430.5h1.5M1117.1,1461.4h1.5M1109.4,1467.6h1.5M1115.3,1432.1h1.5M1113.2,1461.6h1.5M1114.8,1488.0h1.5M1106.0,1459.9h1.5M1105.8,1455.7h1.5M1122.2,1468.3h1.5M1124.2,1466.4h1.5M1107.7,1483.6h1.5M1121.2,1449.1h1.5M1114.0,1452.4h1.5M1114.8,1487.4h1.5M1121.2,1469.0h1.5M1119.6,1442.1h1.5M1114.9,1506.2h1.5M1114.2,1459.3h1.5M1122.5,1449.7h1.5M1104.7,1457.1h1.5M1121.2,1462.0h1.5M1117.8,1469.1h1.5M1113.8,1493.4h1.5M1137.3,1353.5h1.5M1133.0,1357.2h1.5M1131.5,1359.1h1.5M1130.4,1348.2h1.5M1131.0,1349.1h1.5M1111.2,1369.1h1.5M1122.1,1369.3h1.5M1121.2,1350.7h1.5M1121.2,1367.4h1.5M1135.1,1348.5h1.5M1137.0,1357.4h1.5M1117.5,1349.3h1.5M1120.5,1361.4h1.5M1126.0,1367.7h1.5M1137.4,1342.6h1.5M1112.4,1363.1h1.5M1142.3,1348.3h1.5M1109.7,1356.2h1.5M1116.5,1363.7h1.5M1134.2,1344.0h1.5M1128.9,1348.5h1.5M1133.7,1354.6h1.5M1139.3,1340.0h1.5M1115.5,1355.9h1.5M1132.5,1343.7h1.5M1124.3,1346.8h1.5M1120.6,1362.0h1.5M1118.4,1366.6h1.5M1115.9,1358.7h1.5M1144.5,1339.8h1.5M1115.2,1373.5h1.5M1107.2,1366.5h1.5M1114.0,1357.8h1.5M1119.4,1370.2h1.5M1137.8,1349.0h1.5M1131.0,1352.5h1.5M1136.2,1338.5h1.5M1143.5,1341.5h1.5M1126.5,1347.4h1.5M1112.8,1358.2h1.5M1136.6,1347.5h1.5M1126.8,1349.7h1.5M1135.6,1355.8h1.5M1135.3,1360.9h1.5M1122.9,1362.9h1.5M1136.6,1354.0h1.5M1136.0,1352.3h1.5M1120.6,1344.8h1.5M1118.1,1354.4h1.5M1139.8,1353.5h1.5M1142.1,1345.5h1.5M1130.6,1348.5h1.5M1105.7,1362.5h1.5M1129.2,1350.6h1.5M1112.0,1366.6h1.5M1114.5,1374.3h1.5M1108.9,1367.0h1.5M1135.1,1346.0h1.5M1127.3,1347.3h1.5M1117.9,1364.5h1.5M1118.6,1355.0h1.5M1118.6,1366.7h1.5M1137.0,1354.6h1.5M1110.1,1368.0h1.5M1131.0,1341.2h1.5M1119.1,1368.4h1.5M1130.6,1347.7h1.5M1144.0,1349.9h1.5M1106.9,1370.9h1.5M1114.6,1356.9h1.5M1127.5,1344.4h1.5M1140.3,1341.1h1.5M1133.5,1354.1h1.5M1118.7,1356.4h1.5M1132.8,1365.0h1.5M1114.6,1359.7h1.5M1118.4,1356.4h1.5M1116.0,1368.5h1.5M1110.8,1374.5h1.5M1133.0,1353.4h1.5M1121.0,1361.3h1.5M1111.6,1369.4h1.5M1118.5,1355.9h1.5M1139.3,1351.6h1.5M1119.9,1364.8h1.5M1112.7,1365.0h1.5M1129.0,1363.0h1.5M1116.7,1361.8h1.5M1112.7,1369.2h1.5M1134.0,1353.7h1.5M1110.7,1370.7h1.5M1134.2,1350.5h1.5M1132.8,1347.3h1.5M1141.5,1339.3h1.5M1119.5,1365.2h1.5M1133.2,1342.0h1.5M1130.7,1348.1h1.5M1123.2,1368.8h1.5M1105.5,1370.3h1.5M1136.7,1340.7h1.5M1133.4,1352.2h1.5M1110.4,1365.3h1.5M1114.0,1355.3h1.5M1122.2,1362.0h1.5M1127.3,1370.9h1.5M1135.6,1353.7h1.5M1115.3,1363.6h1.5M1114.6,1353.8h1.5M1114.2,1356.3h1.5M1129.3,1362.4h1.5M1119.3,1359.5h1.5M1113.9,1350.8h1.5M1136.9,1348.5h1.5M1116.3,1369.9h1.5M1133.4,1358.7h1.5M1117.7,1359.2h1.5M1117.0,1356.6h1.5M1136.3,1355.4h1.5M1115.1,1359.5h1.5M1113.3,1374.8h1.5M1124.4,1363.5h1.5M1117.9,1365.6h1.5M1139.4,1352.6h1.5M1127.5,1346.0h1.5M1143.1,1346.9h1.5M1058.9,1458.4h1.5M1024.6,1447.5h1.5M999.5,1490.8h1.5M1059.5,1437.3h1.5M962.2,1454.7h1.5M951.9,1443.6h1.5M1045.6,1497.9h1.5M1013.5,1429.3h1.5M973.1,1416.9h1.5M997.0,1469.3h1.5M939.3,1449.7h1.5M990.3,1435.9h1.5M939.5,1437.0h1.5M962.0,1474.3h1.5M1053.8,1442.8h1.5M1013.5,1453.4h1.5M1033.4,1452.9h1.5M949.4,1426.6h1.5M1036.6,1432.3h1.5M982.1,1477.4h1.5M971.3,1401.1h1.5M1018.9,1493.1h1.5M1035.9,1443.2h1.5M1002.0,1468.8h1.5M1000.2,1463.8h1.5M1024.8,1476.9h1.5M1049.6,1442.5h1.5M967.4,1413.1h1.5" stroke="#a9b1ec" stroke-width="1.5" fill="none"/>
<path d="M1045.2,1487.7h1.45M1045.9,1449.0h1.45M1057.1,1461.1h1.45M1042.9,1467.5h1.45M1056.6,1429.0h1.45M1034.7,1462.6h1.45M1030.4,1446.5h1.45M1047.8,1472.9h1.45M1051.1,1476.3h1.45M1064.3,1437.9h1.45M1022.5,1445.5h1.45M1025.5,1481.7h1.45M1056.8,1484.5h1.45M1041.9,1465.7h1.45M1058.4,1460.5h1.45M1038.5,1444.7h1.45M1064.6,1443.7h1.45M1045.3,1487.7h1.45M1052.7,1447.5h1.45M1030.2,1448.9h1.45M1050.4,1476.2h1.45M1045.5,1457.9h1.45M1051.0,1447.4h1.45M1040.1,1476.5h1.45M1062.1,1466.5h1.45M1027.4,1494.1h1.45M1056.6,1460.2h1.45M1051.9,1451.4h1.45M1017.8,1432.7h1.45M1044.3,1466.6h1.45M1055.4,1470.0h1.45M1061.3,1459.6h1.45M1045.3,1459.4h1.45M1047.4,1496.0h1.45M1068.5,1459.2h1.45M1070.0,1468.2h1.45M1047.7,1441.8h1.45M1064.9,1444.3h1.45M1041.3,1431.1h1.45M1041.1,1455.0h1.45M1027.5,1449.6h1.45M1058.0,1454.7h1.45M1025.3,1421.0h1.45M1013.9,1475.4h1.45M1054.9,1405.4h1.45M1026.6,1464.4h1.45M1054.7,1465.9h1.45M1054.7,1502.2h1.45M1052.4,1458.1h1.45M1052.0,1465.9h1.45M1058.4,1467.5h1.45M1063.6,1469.0h1.45M1041.6,1483.2h1.45M1043.7,1467.2h1.45M1037.8,1461.8h1.45M1048.2,1476.0h1.45M1051.1,1454.0h1.45M1036.9,1463.5h1.45M1010.3,1446.2h1.45M1032.1,1445.7h1.45M1024.7,1444.5h1.45M1002.0,1457.3h1.45M1058.3,1464.5h1.45M1048.8,1439.2h1.45M1040.4,1456.0h1.45M1041.8,1461.3h1.45M1042.3,1433.0h1.45M1012.1,1479.7h1.45M1075.7,1486.9h1.45M1039.6,1458.3h1.45M1060.5,1487.0h1.45M1046.3,1455.5h1.45M1030.9,1451.9h1.45M1036.8,1460.4h1.45M1045.6,1452.1h1.45M1040.4,1456.2h1.45M1064.5,1464.9h1.45M1053.0,1470.3h1.45M1064.9,1474.5h1.45M1034.2,1457.5h1.45M1035.4,1448.8h1.45M1028.6,1427.5h1.45M1069.1,1460.8h1.45M1051.7,1453.6h1.45M1027.7,1477.9h1.45M1054.0,1456.1h1.45M1039.6,1455.3h1.45M1052.8,1482.8h1.45M1042.1,1462.7h1.45M1027.5,1506.4h1.45M1045.6,1456.5h1.45M1049.4,1457.9h1.45M1052.8,1454.1h1.45M1059.0,1485.9h1.45M1049.3,1431.0h1.45M1078.3,1493.8h1.45M1055.4,1464.2h1.45M1078.8,1445.0h1.45M1039.6,1482.0h1.45M1053.8,1467.4h1.45M1036.2,1457.6h1.45M1025.5,1462.1h1.45M1025.2,1440.2h1.45M1052.7,1456.4h1.45M1050.8,1452.5h1.45M1044.9,1449.3h1.45M1054.3,1444.0h1.45M1046.0,1471.0h1.45M1043.4,1466.2h1.45M1018.9,1422.2h1.45M1061.0,1473.2h1.45M1043.4,1460.8h1.45M1046.2,1470.8h1.45M1078.9,1449.5h1.45M1045.5,1469.8h1.45M1054.5,1466.1h1.45M1043.0,1453.9h1.45M1030.0,1453.1h1.45M1048.1,1458.7h1.45M1016.6,1467.2h1.45M1067.2,1431.5h1.45M1058.5,1444.6h1.45M1050.7,1466.2h1.45M1037.9,1443.3h1.45M1056.7,1454.8h1.45M1038.1,1468.8h1.45M1031.2,1461.0h1.45M1036.3,1431.6h1.45M1051.9,1454.7h1.45M1049.6,1457.4h1.45M1048.5,1470.4h1.45M1051.2,1450.5h1.45M1015.4,1513.3h1.45M1041.8,1466.2h1.45M1027.1,1456.7h1.45M1069.1,1412.1h1.45M1041.4,1468.7h1.45M1047.7,1479.5h1.45M1043.4,1453.0h1.45M1042.5,1467.9h1.45M1063.6,1438.9h1.45M1041.8,1469.6h1.45M1021.2,1447.5h1.45M1038.9,1476.7h1.45M1033.0,1482.3h1.45M1082.0,1508.4h1.45M1088.1,1479.0h1.45M1043.3,1467.2h1.45M1092.0,1485.3h1.45M1079.6,1455.3h1.45M984.4,1518.6h1.45M1048.1,1467.1h1.45M1049.7,1461.1h1.45M1054.7,1465.5h1.45M1068.6,1480.2h1.45M1021.0,1459.4h1.45M998.0,1474.9h1.45M1042.5,1492.6h1.45M1062.1,1501.7h1.45M1110.4,1455.7h1.45M1052.8,1464.1h1.45M1048.2,1502.1h1.45M1039.5,1458.3h1.45M1054.0,1464.0h1.45M1023.4,1519.6h1.45M1045.0,1457.3h1.45M1023.4,1469.0h1.45M1053.4,1441.4h1.45M1032.1,1482.2h1.45M1034.5,1428.1h1.45M1039.3,1454.8h1.45M1005.5,1513.3h1.45M1057.4,1473.2h1.45M1008.1,1421.8h1.45M1020.3,1492.4h1.45M1013.2,1449.8h1.45M1051.7,1484.4h1.45M1034.6,1480.5h1.45M1038.1,1450.4h1.45M1035.3,1460.4h1.45M1027.6,1504.6h1.45M1016.8,1456.7h1.45M1050.5,1515.1h1.45M1061.1,1435.2h1.45M1035.1,1517.9h1.45M1047.7,1474.5h1.45M1029.2,1449.5h1.45M1060.7,1490.2h1.45M1092.8,1516.7h1.45M1043.1,1492.3h1.45M1069.1,1503.5h1.45M1059.2,1442.0h1.45M1052.7,1472.0h1.45M1009.4,1419.2h1.45M1048.6,1445.1h1.45M1068.2,1491.3h1.45M1049.7,1448.7h1.45M993.5,1443.2h1.45M1013.5,1456.5h1.45M1053.6,1452.8h1.45M1012.8,1464.4h1.45M1067.4,1494.0h1.45M1070.7,1464.1h1.45M1051.3,1451.0h1.45M1050.5,1515.0h1.45M1030.8,1448.5h1.45M1061.7,1461.6h1.45M1052.3,1431.0h1.45M991.0,1497.8h1.45M1064.7,1488.9h1.45M1022.1,1493.1h1.45M1042.0,1457.0h1.45M1032.3,1448.2h1.45M1065.2,1518.2h1.45M1053.5,1447.7h1.45M1027.1,1483.9h1.45M1013.8,1490.0h1.45M1030.0,1443.3h1.45M1059.3,1502.9h1.45M1063.4,1493.1h1.45M1037.8,1452.7h1.45M1002.5,1486.0h1.45M1012.5,1457.7h1.45M1113.0,1438.5h1.45M1115.9,1495.0h1.45M1104.3,1469.9h1.45M1109.0,1456.8h1.45M1114.1,1460.9h1.45M1114.6,1465.5h1.45M1109.1,1471.1h1.45M1108.5,1453.2h1.45M1104.0,1463.7h1.45M1101.1,1466.6h1.45M1114.8,1452.8h1.45M1106.8,1457.9h1.45M1114.7,1509.7h1.45M1126.7,1463.4h1.45M1111.1,1444.8h1.45M1105.4,1493.5h1.45M1112.5,1472.0h1.45M1113.1,1459.4h1.45M1108.9,1445.2h1.45M1112.7,1451.4h1.45M1113.2,1400.7h1.45M1124.5,1439.9h1.45M1117.7,1480.5h1.45M1119.7,1457.8h1.45M1112.5,1460.7h1.45M1114.1,1460.5h1.45M1107.8,1475.4h1.45M1109.5,1481.1h1.45M1110.1,1476.7h1.45M1115.7,1469.9h1.45M1122.9,1365.1h1.45M1120.4,1367.8h1.45M1121.8,1362.1h1.45M1123.0,1347.8h1.45M1129.4,1362.2h1.45M1129.4,1354.8h1.45M1132.6,1345.9h1.45M1119.6,1362.3h1.45M1130.5,1362.0h1.45M1122.2,1365.3h1.45M1124.3,1358.5h1.45M1121.9,1353.4h1.45M1125.4,1350.7h1.45M1123.9,1363.6h1.45M1125.6,1356.0h1.45M1116.2,1361.6h1.45M1137.1,1356.4h1.45M1124.5,1357.2h1.45M1116.9,1361.0h1.45M1118.1,1361.5h1.45M1121.2,1363.8h1.45M1111.4,1360.6h1.45M1105.4,1364.6h1.45M1118.5,1361.4h1.45M1121.9,1349.8h1.45M1118.5,1353.4h1.45M1121.0,1369.6h1.45M1135.1,1361.4h1.45M1118.0,1350.2h1.45M1128.5,1364.0h1.45M1125.1,1363.3h1.45M1118.7,1357.0h1.45M1136.7,1354.2h1.45M1118.0,1358.7h1.45M1136.4,1347.2h1.45M1118.7,1357.1h1.45M1112.8,1362.5h1.45M1112.8,1365.6h1.45M1133.8,1352.1h1.45M1130.8,1347.4h1.45M1128.6,1343.4h1.45M1117.1,1350.8h1.45M1132.7,1356.2h1.45M1121.0,1369.1h1.45M1108.2,1360.5h1.45M1119.8,1362.6h1.45M1131.2,1348.1h1.45M1129.5,1341.7h1.45M1133.0,1357.4h1.45M1123.3,1359.1h1.45M1132.3,1351.1h1.45M1116.7,1367.0h1.45M1123.1,1358.1h1.45M1118.1,1364.7h1.45M1116.0,1361.1h1.45M1117.2,1362.6h1.45M1121.0,1360.2h1.45M1129.0,1352.2h1.45M1127.6,1357.6h1.45M1115.8,1362.6h1.45M1124.8,1356.0h1.45M1138.4,1351.5h1.45M1115.3,1351.6h1.45M1124.5,1355.6h1.45M1117.4,1356.2h1.45M1117.5,1361.8h1.45M1128.4,1348.1h1.45M1130.9,1346.3h1.45M1122.4,1360.8h1.45M1124.3,1351.8h1.45M1113.8,1364.2h1.45M1127.9,1353.7h1.45M1114.3,1355.5h1.45M1126.3,1353.0h1.45M1117.3,1360.2h1.45M1148.9,1346.9h1.45M1132.4,1354.4h1.45M1135.0,1358.2h1.45M1136.8,1343.0h1.45M1102.1,1371.4h1.45M1115.1,1362.2h1.45M1135.9,1349.2h1.45M1123.2,1368.1h1.45M1126.2,1352.1h1.45M1120.6,1353.3h1.45M1139.0,1353.3h1.45M1129.9,1349.9h1.45M1126.4,1354.6h1.45M1117.5,1355.4h1.45M1122.5,1358.6h1.45M1129.9,1361.9h1.45M1116.9,1367.2h1.45M1120.3,1354.9h1.45M1128.2,1360.8h1.45M1130.8,1350.4h1.45M1125.9,1360.8h1.45M1127.0,1361.7h1.45M1121.4,1362.3h1.45M1128.6,1357.2h1.45M1132.2,1359.9h1.45M1118.6,1366.7h1.45M1131.7,1353.3h1.45M1131.1,1349.8h1.45M1127.0,1360.6h1.45M1125.0,1353.6h1.45M1121.6,1364.3h1.45M1125.6,1354.9h1.45M1121.4,1355.1h1.45M1129.1,1365.4h1.45M1122.3,1362.0h1.45M1123.4,1349.2h1.45M1112.4,1366.3h1.45M1133.7,1349.8h1.45M1131.2,1364.4h1.45M1132.0,1359.6h1.45M1133.6,1348.7h1.45M1126.3,1355.1h1.45M1122.8,1364.8h1.45M1131.4,1351.6h1.45M1126.8,1347.9h1.45M1109.9,1361.4h1.45M1117.2,1354.4h1.45M1127.5,1344.0h1.45M1112.1,1364.9h1.45M1123.8,1357.8h1.45M1122.9,1354.0h1.45M1123.3,1353.7h1.45M1115.1,1366.9h1.45M1116.9,1357.9h1.45M1124.0,1358.4h1.45M1114.8,1358.3h1.45M1127.3,1363.8h1.45M1119.7,1353.0h1.45M1139.2,1346.6h1.45M1122.2,1361.1h1.45M1115.9,1360.2h1.45M1119.0,1353.9h1.45M1134.9,1347.7h1.45M1124.6,1361.8h1.45M1119.4,1369.9h1.45M1121.7,1356.8h1.45M1121.8,1362.1h1.45M1127.8,1345.6h1.45M1126.3,1358.2h1.45M1130.8,1343.7h1.45M1117.5,1359.3h1.45M1124.9,1354.8h1.45M1117.2,1354.9h1.45M1126.9,1356.5h1.45M1130.6,1363.2h1.45M1129.7,1352.4h1.45M1135.3,1351.5h1.45M1135.8,1357.3h1.45M1124.9,1361.6h1.45M1128.9,1361.8h1.45M1130.2,1353.0h1.45M1118.1,1357.3h1.45M951.3,1442.8h1.45M978.1,1367.2h1.45M994.7,1428.5h1.45M965.5,1444.5h1.45M959.2,1406.1h1.45M1101.2,1471.9h1.45" stroke="#5661d9" stroke-width="1.45" fill="none"/>
<path d="M1036.5,1462.6h1.45M1051.0,1452.3h1.45M1053.5,1461.6h1.45M1052.0,1453.7h1.45M1049.6,1458.2h1.45M1050.9,1450.0h1.45M1055.7,1453.1h1.45M1050.2,1446.8h1.45M1049.1,1457.1h1.45M1050.9,1457.8h1.45M1044.8,1456.8h1.45M1039.2,1459.6h1.45M1047.3,1466.2h1.45M1047.9,1455.9h1.45M1035.9,1464.5h1.45M1058.9,1453.8h1.45M1054.0,1465.0h1.45M1034.1,1457.0h1.45M1039.1,1450.7h1.45M1055.6,1463.4h1.45M1054.6,1461.5h1.45M1043.1,1456.9h1.45M1045.7,1452.4h1.45M1127.8,1357.7h1.45M1124.6,1356.1h1.45M1123.5,1356.5h1.45M1120.4,1352.2h1.45M1124.6,1360.3h1.45M1129.2,1350.4h1.45M1116.3,1364.1h1.45M1130.4,1357.0h1.45M1112.5,1357.2h1.45M1117.7,1362.2h1.45M1124.4,1366.5h1.45M1131.2,1347.6h1.45M1122.7,1358.1h1.45M1119.9,1365.9h1.45M1126.0,1357.4h1.45M1117.7,1361.7h1.45M1137.2,1354.6h1.45M1112.7,1361.5h1.45M1113.5,1350.1h1.45M1117.9,1358.8h1.45M1124.1,1347.8h1.45M1121.5,1359.1h1.45M1126.3,1361.3h1.45M1137.5,1357.0h1.45M1123.5,1357.3h1.45M1130.7,1356.0h1.45M1121.7,1360.7h1.45M1125.1,1359.7h1.45M1127.5,1357.2h1.45M1128.6,1354.1h1.45M1120.8,1360.2h1.45M1124.0,1357.6h1.45M1129.7,1353.5h1.45M1122.8,1359.9h1.45M1121.0,1356.7h1.45M1130.9,1353.3h1.45M1132.4,1353.8h1.45M1129.0,1353.1h1.45M1126.0,1355.3h1.45M1123.6,1356.5h1.45M1123.4,1354.6h1.45M1130.5,1356.2h1.45M1120.8,1357.1h1.45M1123.8,1358.7h1.45M1130.7,1351.5h1.45M1132.5,1353.2h1.45M1124.8,1348.7h1.45M1121.1,1354.8h1.45M1124.9,1350.2h1.45M1119.6,1357.9h1.45M1129.2,1354.4h1.45M1127.3,1359.0h1.45M1120.2,1358.7h1.45M1120.1,1358.6h1.45M1125.0,1352.0h1.45M1128.6,1359.1h1.45M1124.5,1351.0h1.45M1125.2,1359.3h1.45M1128.8,1360.0h1.45M1125.7,1361.3h1.45M1118.4,1359.2h1.45M1124.9,1355.4h1.45M1131.0,1351.3h1.45M1131.0,1353.8h1.45M1128.1,1348.1h1.45M1135.7,1354.3h1.45M1115.0,1359.6h1.45M1127.7,1359.9h1.45M1122.6,1356.9h1.45M1134.5,1347.9h1.45M1118.7,1362.5h1.45M1128.1,1343.6h1.45M1122.1,1362.4h1.45M1127.8,1358.0h1.45M1130.4,1348.5h1.45M1121.0,1357.6h1.45M1125.1,1353.2h1.45M1114.3,1364.0h1.45" stroke="#2323aa" stroke-width="1.45" fill="none"/>
<path d="M1124.8,1356.6h1.5M1128.4,1353.1h1.5M1131.2,1356.9h1.5M1125.9,1357.5h1.5M1120.1,1354.2h1.5M1126.3,1356.7h1.5M1121.8,1351.4h1.5M1127.7,1357.5h1.5M1126.4,1359.0h1.5M1127.6,1354.1h1.5M1128.9,1354.7h1.5M1119.4,1354.2h1.5M1121.7,1356.5h1.5M1121.2,1360.1h1.5M1127.6,1357.7h1.5M1127.0,1355.4h1.5M1120.8,1356.9h1.5M1121.4,1355.4h1.5M1128.7,1358.5h1.5M1128.1,1362.1h1.5M1126.8,1356.8h1.5M1126.8,1355.5h1.5M1127.8,1351.0h1.5M1122.4,1356.7h1.5M1122.1,1353.0h1.5M1128.3,1358.3h1.5M1123.9,1357.7h1.5M1127.6,1353.5h1.5M1130.3,1358.1h1.5M1121.6,1354.1h1.5M1126.1,1358.5h1.5M1125.1,1352.2h1.5M1126.6,1356.1h1.5M1125.7,1362.0h1.5M1129.5,1353.8h1.5M1120.5,1355.1h1.5M1128.8,1359.0h1.5M1126.0,1361.6h1.5M1132.0,1356.1h1.5M1124.2,1359.3h1.5M1121.7,1358.9h1.5M1122.6,1357.2h1.5M1130.6,1359.4h1.5M1127.9,1361.1h1.5M1129.1,1351.0h1.5M1120.5,1352.9h1.5M1122.6,1361.2h1.5M1119.2,1355.7h1.5M1126.5,1357.5h1.5M1122.4,1356.5h1.5M1125.7,1354.8h1.5M1120.2,1355.6h1.5M1120.6,1353.6h1.5M1128.3,1360.4h1.5M1125.3,1355.0h1.5M1130.6,1352.5h1.5M1126.1,1356.5h1.5M1120.9,1359.5h1.5M1127.0,1358.1h1.5M1123.8,1358.7h1.5M1129.8,1351.8h1.5M1131.8,1357.5h1.5M1126.3,1355.1h1.5M1128.7,1355.0h1.5M1126.1,1352.7h1.5M1119.7,1358.0h1.5M1130.7,1355.3h1.5M1123.9,1359.0h1.5M1126.0,1358.4h1.5M1119.8,1355.7h1.5M1124.8,1359.7h1.5M1125.7,1357.3h1.5M1131.3,1354.5h1.5M1130.3,1353.5h1.5M1131.0,1355.4h1.5M1124.9,1359.7h1.5M1125.1,1360.2h1.5M1127.9,1360.6h1.5M1120.8,1354.5h1.5M1121.9,1358.4h1.5" stroke="#1cc0a0" stroke-width="1.5" fill="none"/>
<line x1="960.0" y1="1546.3" x2="1132.0" y2="1546.3" stroke="#25307f" stroke-width="1.1" stroke-dasharray="2.2 1.6" opacity="0.75"/>
<line x1="1054.6" y1="1546.3" x2="1083.8" y2="1546.3" stroke="#b9d63c" stroke-width="1.2" opacity="0.75"/>
<rect x="1092.8" y="1335.5" width="61.0" height="49.7" fill="none" stroke="#4646cc" stroke-width="2"/>
<text x="1105.3" y="1319.6" font-size="20.6" text-anchor="start" fill="#111" >16.3</text>
<path d="M1287.3,1545.4v4M1296.8,1545.4v4M1303.5,1545.4v4M1308.7,1545.4v5.5M1313.0,1545.4v4M1316.6,1545.4v4M1319.7,1545.4v4M1322.4,1545.4v4M1341.1,1545.4v4M1350.6,1545.4v4M1357.3,1545.4v4M1362.5,1545.4v5.5M1366.8,1545.4v4M1370.4,1545.4v4M1373.5,1545.4v4M1376.2,1545.4v4M1393.8,1545.4v4M1403.3,1545.4v4M1410.0,1545.4v4M1415.2,1545.4v5.5M1419.5,1545.4v4M1423.1,1545.4v4M1426.2,1545.4v4M1428.9,1545.4v4M1447.8,1545.4v4M1457.3,1545.4v4M1464.0,1545.4v4M1469.2,1545.4v5.5M1473.5,1545.4v4M1477.1,1545.4v4M1480.2,1545.4v4M1482.9,1545.4v4M1501.4,1545.4v4M1249.7,1545.4v4M1254.9,1545.4v5.5M1259.2,1545.4v4M1262.8,1545.4v4M1265.9,1545.4v4M1268.6,1545.4v4M1242.9,1274.7h-4M1242.9,1330.2h-4M1242.9,1320.4h-4M1242.9,1313.5h-4M1242.9,1308.1h-5.5M1242.9,1303.7h-4M1242.9,1300.0h-4M1242.9,1296.8h-4M1242.9,1293.9h-4M1242.9,1386.6h-4M1242.9,1376.8h-4M1242.9,1369.9h-4M1242.9,1364.5h-5.5M1242.9,1360.1h-4M1242.9,1356.4h-4M1242.9,1353.2h-4M1242.9,1350.3h-4M1242.9,1442.7h-4M1242.9,1432.9h-4M1242.9,1426.0h-4M1242.9,1420.6h-5.5M1242.9,1416.2h-4M1242.9,1412.5h-4M1242.9,1409.3h-4M1242.9,1406.4h-4M1242.9,1498.5h-4M1242.9,1488.7h-4M1242.9,1481.8h-4M1242.9,1476.4h-5.5M1242.9,1472.0h-4M1242.9,1468.3h-4M1242.9,1465.1h-4M1242.9,1462.2h-4M1242.9,1544.2h-4M1242.9,1537.3h-4M1242.9,1531.9h-5.5M1242.9,1527.5h-4M1242.9,1523.8h-4M1242.9,1520.6h-4M1242.9,1517.7h-4" stroke="#000" stroke-width="1.6" fill="none"/>
<path d="M1271.1,1545.4v7.5M1324.9,1545.4v7.5M1377.6,1545.4v7.5M1431.6,1545.4v7.5M1485.2,1545.4v7.5M1242.9,1291.4h-7.5M1242.9,1346.9h-7.5M1242.9,1403.3h-7.5M1242.9,1459.4h-7.5M1242.9,1515.2h-7.5" stroke="#000" stroke-width="3" fill="none"/>
<rect x="1242.9" y="1267.4" width="266.4" height="278.0" fill="#fff" stroke="#2a2a2a" stroke-width="1.1"/>
<path d="M1351.2,1417.9h1.5M1377.9,1467.6h1.5M1376.9,1427.6h1.5M1369.6,1479.4h1.5M1351.0,1471.6h1.5M1386.6,1463.1h1.5M1389.7,1444.9h1.5M1371.9,1446.1h1.5M1350.6,1444.3h1.5M1389.4,1477.1h1.5M1388.2,1466.0h1.5M1392.8,1452.4h1.5M1393.6,1453.8h1.5M1346.7,1429.8h1.5M1376.1,1445.8h1.5M1354.8,1439.4h1.5M1384.5,1485.8h1.5M1382.3,1447.1h1.5M1379.0,1458.2h1.5M1357.6,1454.9h1.5M1372.3,1449.1h1.5M1399.9,1423.6h1.5M1386.4,1458.5h1.5M1372.1,1431.3h1.5M1399.7,1458.8h1.5M1392.5,1448.4h1.5M1364.3,1472.4h1.5M1379.2,1471.8h1.5M1390.7,1458.1h1.5M1396.7,1452.6h1.5M1370.0,1494.9h1.5M1369.9,1464.2h1.5M1382.9,1466.5h1.5M1386.9,1444.4h1.5M1380.2,1478.5h1.5M1353.8,1443.8h1.5M1399.9,1444.7h1.5M1339.8,1450.5h1.5M1366.2,1466.6h1.5M1395.0,1442.5h1.5M1380.5,1495.9h1.5M1361.2,1456.4h1.5M1379.2,1462.3h1.5M1385.9,1480.7h1.5M1386.2,1465.2h1.5M1355.1,1460.3h1.5M1353.1,1474.4h1.5M1379.1,1471.2h1.5M1370.2,1457.9h1.5M1372.7,1442.6h1.5M1361.5,1432.2h1.5M1350.4,1486.0h1.5M1365.2,1434.2h1.5M1392.4,1460.1h1.5M1397.7,1465.6h1.5M1400.9,1476.1h1.5M1396.8,1431.2h1.5M1345.0,1462.3h1.5M1354.3,1453.5h1.5M1380.2,1481.2h1.5M1409.0,1453.2h1.5M1386.8,1456.3h1.5M1402.1,1446.8h1.5M1365.0,1408.0h1.5M1340.6,1447.3h1.5M1337.7,1465.8h1.5M1392.3,1463.1h1.5M1352.0,1465.5h1.5M1392.9,1451.2h1.5M1389.3,1439.1h1.5M1360.6,1467.3h1.5M1380.9,1467.8h1.5M1386.1,1444.0h1.5M1401.4,1475.0h1.5M1375.3,1452.3h1.5M1365.5,1429.0h1.5M1358.6,1428.0h1.5M1366.7,1459.3h1.5M1378.9,1428.8h1.5M1376.2,1442.9h1.5M1357.6,1472.8h1.5M1358.7,1469.3h1.5M1345.3,1457.6h1.5M1365.7,1470.6h1.5M1385.2,1440.7h1.5M1388.1,1477.4h1.5M1396.8,1481.5h1.5M1368.1,1451.3h1.5M1350.3,1454.9h1.5M1343.9,1485.8h1.5M1390.4,1483.3h1.5M1394.9,1458.2h1.5M1386.2,1458.3h1.5M1341.4,1431.8h1.5M1372.2,1470.7h1.5M1368.5,1467.0h1.5M1389.8,1436.5h1.5M1393.5,1454.8h1.5M1390.8,1456.2h1.5M1386.2,1447.8h1.5M1387.1,1484.7h1.5M1398.6,1478.3h1.5M1381.9,1471.7h1.5M1371.5,1448.7h1.5M1382.1,1435.1h1.5M1382.7,1423.9h1.5M1400.9,1471.0h1.5M1384.1,1442.2h1.5M1368.0,1446.9h1.5M1346.0,1445.3h1.5M1361.5,1468.7h1.5M1352.3,1428.7h1.5M1393.6,1467.3h1.5M1383.3,1492.7h1.5M1359.6,1456.4h1.5M1391.8,1451.9h1.5M1389.3,1444.9h1.5M1376.6,1473.4h1.5M1376.0,1450.0h1.5M1405.2,1437.8h1.5M1368.2,1458.5h1.5M1358.4,1481.0h1.5M1331.6,1436.1h1.5M1364.7,1411.9h1.5M1397.4,1490.6h1.5M1348.7,1445.5h1.5M1375.1,1466.6h1.5M1379.7,1467.1h1.5M1400.8,1457.4h1.5M1393.1,1441.3h1.5M1386.1,1500.2h1.5M1382.9,1486.7h1.5M1387.6,1439.1h1.5M1329.3,1451.2h1.5M1405.1,1467.2h1.5M1348.2,1460.6h1.5M1333.9,1450.9h1.5M1364.5,1460.2h1.5M1368.5,1473.5h1.5M1393.2,1450.0h1.5M1333.6,1466.5h1.5M1364.3,1464.9h1.5M1367.6,1461.3h1.5M1375.1,1439.6h1.5M1382.2,1424.8h1.5M1329.0,1457.0h1.5M1408.2,1441.8h1.5M1374.8,1434.5h1.5M1353.5,1480.4h1.5M1345.6,1457.5h1.5M1364.8,1464.5h1.5M1400.4,1458.7h1.5M1374.0,1420.2h1.5M1397.6,1446.2h1.5M1383.1,1495.3h1.5M1392.3,1461.1h1.5M1401.8,1439.8h1.5M1345.0,1432.2h1.5M1365.8,1452.8h1.5M1384.2,1448.1h1.5M1343.7,1472.6h1.5M1366.0,1473.5h1.5M1385.9,1430.9h1.5M1375.8,1452.9h1.5M1391.1,1465.4h1.5M1377.3,1458.6h1.5M1374.3,1420.2h1.5M1380.0,1500.1h1.5M1363.8,1425.0h1.5M1343.3,1450.0h1.5M1363.2,1453.4h1.5M1371.2,1439.2h1.5M1389.5,1483.6h1.5M1361.9,1450.7h1.5M1406.4,1436.2h1.5M1356.5,1463.3h1.5M1391.9,1454.9h1.5M1395.1,1453.4h1.5M1363.7,1442.5h1.5M1371.8,1460.1h1.5M1350.5,1477.2h1.5M1374.0,1429.0h1.5M1355.4,1438.7h1.5M1414.1,1422.5h1.5M1330.2,1435.4h1.5M1393.4,1437.8h1.5M1400.4,1479.4h1.5M1366.3,1464.6h1.5M1370.8,1443.4h1.5M1391.5,1467.7h1.5M1376.6,1468.5h1.5M1391.0,1471.8h1.5M1388.3,1429.8h1.5M1379.1,1474.5h1.5M1376.6,1469.3h1.5M1374.9,1444.3h1.5M1376.5,1478.6h1.5M1367.4,1452.2h1.5M1384.7,1474.1h1.5M1385.7,1445.5h1.5M1369.7,1433.3h1.5M1376.2,1472.1h1.5M1357.1,1447.1h1.5M1390.1,1466.6h1.5M1386.2,1470.5h1.5M1396.1,1459.5h1.5M1388.7,1420.2h1.5M1388.8,1449.0h1.5M1383.7,1438.2h1.5M1379.1,1435.8h1.5M1393.7,1449.9h1.5M1362.8,1462.8h1.5M1366.0,1433.1h1.5M1372.3,1495.0h1.5M1394.0,1460.1h1.5M1384.1,1460.6h1.5M1385.9,1496.9h1.5M1344.8,1436.4h1.5M1383.8,1446.8h1.5M1386.8,1463.6h1.5M1371.3,1431.3h1.5M1374.6,1442.1h1.5M1361.6,1455.7h1.5M1396.0,1449.7h1.5M1372.8,1435.1h1.5M1384.3,1459.7h1.5M1384.2,1474.0h1.5M1373.9,1461.8h1.5M1363.3,1468.5h1.5M1364.0,1459.3h1.5M1358.4,1467.1h1.5M1388.4,1430.6h1.5M1309.3,1463.3h1.5M1329.7,1456.4h1.5M1357.6,1464.0h1.5M1374.5,1445.7h1.5M1375.6,1439.4h1.5M1401.3,1444.7h1.5M1380.6,1448.7h1.5M1382.7,1459.1h1.5M1394.2,1454.2h1.5M1388.3,1415.6h1.5M1347.7,1430.7h1.5M1351.2,1472.0h1.5M1379.1,1434.9h1.5M1378.4,1443.1h1.5M1355.3,1434.1h1.5M1361.7,1441.9h1.5M1385.9,1437.9h1.5M1393.0,1480.2h1.5M1410.3,1474.4h1.5M1416.2,1438.1h1.5M1403.5,1472.8h1.5M1381.5,1466.0h1.5M1384.7,1467.5h1.5M1388.2,1450.5h1.5M1381.8,1459.8h1.5M1379.3,1434.4h1.5M1340.8,1521.8h1.5M1390.1,1464.9h1.5M1372.6,1458.5h1.5M1380.6,1442.1h1.5M1374.8,1464.5h1.5M1375.8,1492.6h1.5M1316.3,1463.7h1.5M1375.0,1472.2h1.5M1368.7,1477.8h1.5M1402.1,1453.9h1.5M1375.9,1488.6h1.5M1365.1,1495.6h1.5M1411.1,1440.9h1.5M1397.9,1480.7h1.5M1381.4,1459.9h1.5M1372.5,1459.9h1.5M1328.6,1471.9h1.5M1271.6,1474.1h1.5M1365.7,1463.5h1.5M1384.8,1452.3h1.5M1351.2,1439.1h1.5M1333.6,1478.4h1.5M1323.6,1435.0h1.5M1373.5,1453.4h1.5M1379.2,1442.7h1.5M1380.0,1497.0h1.5M1333.6,1455.7h1.5M1338.1,1489.5h1.5M1316.2,1452.4h1.5M1349.8,1490.8h1.5M1425.1,1485.3h1.5M1339.0,1488.0h1.5M1382.2,1474.6h1.5M1343.3,1459.9h1.5M1333.0,1464.2h1.5M1411.9,1469.9h1.5M1360.0,1481.1h1.5M1326.1,1509.7h1.5M1376.6,1435.1h1.5M1391.2,1439.1h1.5M1397.6,1433.0h1.5M1358.7,1495.7h1.5M1383.4,1480.4h1.5M1361.6,1433.3h1.5M1345.5,1468.9h1.5M1330.6,1466.6h1.5M1369.9,1479.6h1.5M1370.8,1383.7h1.5M1361.0,1413.4h1.5M1363.4,1437.5h1.5M1338.9,1449.9h1.5M1382.4,1463.0h1.5M1354.7,1499.2h1.5M1425.7,1444.6h1.5M1370.9,1424.9h1.5M1368.5,1441.0h1.5M1406.4,1475.4h1.5M1414.9,1510.7h1.5M1371.9,1498.6h1.5M1382.2,1424.9h1.5M1321.6,1505.4h1.5M1425.5,1460.5h1.5M1390.5,1480.0h1.5M1353.8,1474.7h1.5M1354.7,1444.8h1.5M1378.7,1474.4h1.5M1377.1,1445.1h1.5M1349.6,1458.6h1.5M1364.0,1453.8h1.5M1336.2,1470.2h1.5M1347.5,1463.6h1.5M1370.9,1475.6h1.5M1356.1,1439.2h1.5M1352.5,1462.7h1.5M1427.6,1506.7h1.5M1405.4,1434.6h1.5M1323.3,1464.3h1.5M1370.9,1482.6h1.5M1372.7,1486.7h1.5M1339.6,1484.9h1.5M1364.6,1490.9h1.5M1367.4,1501.1h1.5M1354.3,1452.9h1.5M1390.6,1432.8h1.5M1391.2,1460.4h1.5M1368.0,1444.7h1.5M1350.6,1471.1h1.5M1365.6,1491.3h1.5M1426.9,1403.5h1.5M1321.2,1463.5h1.5M1424.7,1431.8h1.5M1337.5,1452.5h1.5M1326.5,1529.1h1.5M1369.6,1439.6h1.5M1375.5,1455.4h1.5M1365.1,1429.6h1.5M1351.9,1486.4h1.5M1337.0,1476.7h1.5M1379.6,1493.5h1.5M1407.7,1478.0h1.5M1381.6,1443.7h1.5M1293.3,1487.7h1.5M1391.7,1428.5h1.5M1299.0,1430.9h1.5M1326.9,1471.3h1.5M1389.1,1447.4h1.5M1328.3,1482.9h1.5M1373.7,1420.6h1.5M1345.1,1462.3h1.5M1400.6,1479.6h1.5M1418.6,1434.3h1.5M1367.1,1435.6h1.5M1409.9,1422.6h1.5M1355.0,1497.5h1.5M1355.0,1478.8h1.5M1346.7,1466.3h1.5M1446.4,1440.0h1.5M1367.1,1481.9h1.5M1389.7,1524.3h1.5M1375.8,1454.1h1.5M1411.2,1476.4h1.5M1360.0,1483.9h1.5M1314.8,1463.1h1.5M1332.5,1477.6h1.5M1368.7,1452.7h1.5M1372.5,1478.8h1.5M1402.3,1468.7h1.5M1371.9,1466.9h1.5M1394.5,1434.3h1.5M1322.3,1443.4h1.5M1388.5,1465.6h1.5M1327.5,1385.2h1.5M1378.7,1491.3h1.5M1351.4,1431.9h1.5M1367.0,1456.4h1.5M1369.9,1507.0h1.5M1386.2,1417.5h1.5M1393.6,1465.1h1.5M1363.4,1437.6h1.5M1289.5,1486.6h1.5M1337.8,1496.7h1.5M1404.8,1427.9h1.5M1353.3,1492.2h1.5M1373.0,1430.9h1.5M1303.3,1495.4h1.5M1366.4,1508.2h1.5M1370.5,1406.3h1.5M1379.7,1433.8h1.5M1369.4,1401.6h1.5M1374.4,1465.6h1.5M1409.6,1455.1h1.5M1398.5,1499.9h1.5M1396.2,1474.8h1.5M1366.1,1484.5h1.5M1385.6,1464.0h1.5M1367.3,1455.5h1.5M1409.8,1478.0h1.5M1349.6,1444.1h1.5M1382.1,1482.3h1.5M1372.4,1453.6h1.5M1326.2,1437.2h1.5M1360.0,1447.2h1.5M1362.2,1504.6h1.5M1395.5,1486.6h1.5M1364.7,1457.7h1.5M1390.3,1394.5h1.5M1412.2,1499.6h1.5M1333.2,1450.5h1.5M1380.2,1489.1h1.5M1364.0,1452.9h1.5M1374.5,1453.6h1.5M1351.9,1470.7h1.5M1349.8,1490.9h1.5M1321.9,1476.4h1.5M1373.4,1481.2h1.5M1343.7,1470.5h1.5M1390.3,1418.9h1.5M1357.8,1468.7h1.5M1396.5,1485.9h1.5M1353.3,1420.4h1.5M1364.9,1454.2h1.5M1357.3,1474.2h1.5M1368.3,1491.8h1.5M1370.9,1468.8h1.5M1323.4,1497.0h1.5M1337.5,1435.2h1.5M1350.1,1468.7h1.5M1367.5,1477.7h1.5M1353.9,1454.8h1.5M1364.4,1459.2h1.5M1364.9,1444.1h1.5M1377.5,1513.4h1.5M1349.5,1439.3h1.5M1318.0,1454.9h1.5M1337.8,1454.7h1.5M1331.5,1427.2h1.5M1377.4,1396.3h1.5M1379.3,1466.6h1.5M1343.5,1488.4h1.5M1336.0,1474.8h1.5M1348.1,1430.5h1.5M1387.2,1439.8h1.5M1344.0,1470.7h1.5M1343.1,1480.1h1.5M1383.6,1500.1h1.5M1388.5,1473.7h1.5M1422.2,1470.1h1.5M1341.5,1476.8h1.5M1401.4,1430.2h1.5M1363.7,1491.3h1.5M1397.1,1484.5h1.5M1353.6,1481.3h1.5M1399.4,1427.7h1.5M1377.4,1438.0h1.5M1344.9,1519.8h1.5M1415.3,1458.8h1.5M1367.8,1475.0h1.5M1360.2,1456.4h1.5M1365.4,1478.3h1.5M1371.3,1447.7h1.5M1439.6,1463.4h1.5M1438.2,1455.0h1.5M1443.1,1443.3h1.5M1435.8,1447.2h1.5M1427.5,1449.8h1.5M1428.8,1447.6h1.5M1436.2,1442.4h1.5M1439.5,1453.3h1.5M1434.7,1468.0h1.5M1436.4,1460.2h1.5M1441.3,1443.7h1.5M1436.9,1428.8h1.5M1446.6,1424.1h1.5M1430.8,1446.0h1.5M1442.1,1456.1h1.5M1446.2,1465.6h1.5M1436.4,1459.7h1.5M1433.7,1471.3h1.5M1424.8,1454.5h1.5M1421.8,1442.5h1.5M1438.9,1443.9h1.5M1443.1,1480.1h1.5M1432.4,1463.9h1.5M1443.7,1464.3h1.5M1435.4,1445.1h1.5M1435.4,1455.7h1.5M1430.8,1455.9h1.5M1425.7,1439.1h1.5M1447.8,1447.3h1.5M1419.9,1458.7h1.5M1450.0,1447.0h1.5M1445.2,1422.7h1.5M1443.8,1434.1h1.5M1432.7,1451.2h1.5M1448.1,1477.2h1.5M1441.7,1451.3h1.5M1429.3,1440.5h1.5M1432.2,1448.0h1.5M1439.5,1437.4h1.5M1439.6,1469.8h1.5M1440.3,1446.4h1.5M1435.9,1420.9h1.5M1420.3,1441.6h1.5M1445.2,1438.3h1.5M1442.1,1461.8h1.5M1438.0,1466.2h1.5M1460.4,1440.0h1.5M1443.7,1476.0h1.5M1433.8,1465.7h1.5M1438.6,1445.9h1.5M1430.4,1452.1h1.5M1424.6,1460.8h1.5M1430.1,1434.7h1.5M1441.0,1451.0h1.5M1434.0,1472.1h1.5M1428.9,1442.5h1.5M1425.2,1443.5h1.5M1425.6,1440.2h1.5M1431.5,1478.5h1.5M1463.1,1437.4h1.5M1444.2,1452.1h1.5M1425.0,1438.8h1.5M1447.8,1421.6h1.5M1431.2,1443.1h1.5M1445.9,1448.9h1.5M1440.3,1460.0h1.5M1427.8,1443.7h1.5M1443.2,1434.5h1.5M1436.9,1442.4h1.5M1417.2,1466.0h1.5M1429.0,1452.9h1.5M1435.3,1442.4h1.5M1434.5,1442.0h1.5M1447.4,1427.9h1.5M1430.9,1433.7h1.5M1438.9,1355.1h1.5M1444.9,1364.4h1.5M1454.6,1350.1h1.5M1445.2,1360.9h1.5M1442.8,1359.7h1.5M1450.5,1363.5h1.5M1445.0,1358.0h1.5M1433.9,1360.9h1.5M1442.0,1348.2h1.5M1450.0,1346.7h1.5M1453.9,1339.9h1.5M1456.8,1348.9h1.5M1461.7,1353.5h1.5M1440.9,1358.4h1.5M1453.5,1357.4h1.5M1461.6,1349.5h1.5M1436.7,1361.5h1.5M1460.6,1346.2h1.5M1462.0,1351.9h1.5M1442.4,1353.9h1.5M1438.4,1367.7h1.5M1437.3,1358.7h1.5M1460.4,1347.6h1.5M1445.8,1362.6h1.5M1437.1,1353.1h1.5M1457.5,1338.9h1.5M1450.5,1348.4h1.5M1446.4,1348.5h1.5M1462.3,1342.9h1.5M1458.6,1347.8h1.5M1443.7,1363.2h1.5M1435.2,1370.9h1.5M1444.4,1361.5h1.5M1453.8,1357.8h1.5M1449.2,1341.9h1.5M1444.3,1351.0h1.5M1455.2,1346.4h1.5M1456.6,1351.0h1.5M1459.0,1351.2h1.5M1452.9,1348.9h1.5M1465.4,1343.0h1.5M1461.5,1354.7h1.5M1440.4,1357.5h1.5M1459.3,1338.7h1.5M1457.1,1345.0h1.5M1431.1,1370.2h1.5M1434.7,1366.8h1.5M1451.3,1348.8h1.5M1464.1,1339.0h1.5M1441.4,1367.7h1.5M1458.4,1340.3h1.5M1460.2,1345.4h1.5M1452.1,1343.7h1.5M1436.5,1359.1h1.5M1454.3,1342.5h1.5M1460.1,1348.3h1.5M1434.3,1355.7h1.5M1461.9,1346.0h1.5M1437.8,1352.4h1.5M1434.1,1360.8h1.5M1454.5,1348.8h1.5M1455.6,1342.6h1.5M1444.6,1365.7h1.5M1433.3,1369.7h1.5M1436.6,1358.9h1.5M1428.9,1363.9h1.5M1464.2,1356.2h1.5M1453.6,1363.9h1.5M1457.0,1346.8h1.5M1457.3,1340.7h1.5M1459.9,1347.3h1.5M1436.0,1358.2h1.5M1434.3,1369.5h1.5M1453.6,1348.1h1.5M1443.8,1364.7h1.5M1460.7,1344.2h1.5M1437.6,1354.8h1.5M1441.2,1358.4h1.5M1432.9,1367.3h1.5M1298.7,1439.8h1.5M1350.1,1441.7h1.5M1371.7,1457.0h1.5M1359.2,1425.8h1.5M1282.6,1447.0h1.5M1311.7,1452.3h1.5M1272.9,1443.1h1.5M1369.5,1449.9h1.5M1347.4,1422.0h1.5M1306.0,1410.8h1.5M1333.8,1445.1h1.5M1343.9,1426.5h1.5M1344.9,1426.5h1.5M1344.9,1371.9h1.5M1291.9,1414.6h1.5M1334.4,1444.1h1.5M1381.8,1474.7h1.5M1314.9,1422.6h1.5M1320.2,1473.6h1.5" stroke="#a9b1ec" stroke-width="1.5" fill="none"/>
<path d="M1395.5,1472.5h1.45M1377.5,1486.3h1.45M1387.4,1460.6h1.45M1382.4,1461.4h1.45M1390.8,1439.5h1.45M1384.8,1472.9h1.45M1370.2,1453.6h1.45M1379.4,1445.1h1.45M1370.8,1452.3h1.45M1348.3,1456.0h1.45M1357.4,1448.7h1.45M1364.8,1455.5h1.45M1375.6,1464.8h1.45M1363.6,1438.7h1.45M1387.0,1456.7h1.45M1380.9,1436.9h1.45M1395.4,1449.5h1.45M1381.6,1438.7h1.45M1381.2,1464.1h1.45M1377.6,1474.0h1.45M1403.1,1441.0h1.45M1394.5,1446.0h1.45M1327.3,1474.3h1.45M1382.9,1439.4h1.45M1388.2,1467.8h1.45M1378.2,1453.0h1.45M1363.9,1499.2h1.45M1379.6,1453.5h1.45M1389.3,1454.4h1.45M1400.3,1434.8h1.45M1361.7,1464.9h1.45M1352.1,1487.6h1.45M1346.9,1437.7h1.45M1381.0,1458.3h1.45M1386.5,1463.2h1.45M1372.9,1492.1h1.45M1348.5,1449.1h1.45M1351.7,1456.5h1.45M1356.7,1479.5h1.45M1397.1,1481.6h1.45M1398.3,1469.7h1.45M1391.3,1467.4h1.45M1397.3,1465.7h1.45M1401.7,1450.2h1.45M1376.5,1454.8h1.45M1391.4,1461.4h1.45M1380.2,1462.4h1.45M1343.4,1450.1h1.45M1393.0,1450.6h1.45M1376.3,1464.3h1.45M1386.2,1452.2h1.45M1380.8,1479.5h1.45M1382.5,1466.1h1.45M1370.2,1440.5h1.45M1380.4,1452.8h1.45M1365.1,1457.4h1.45M1342.8,1413.5h1.45M1407.4,1439.5h1.45M1376.2,1462.5h1.45M1376.8,1450.5h1.45M1380.7,1451.1h1.45M1371.3,1464.9h1.45M1352.7,1451.4h1.45M1373.9,1474.1h1.45M1381.6,1458.7h1.45M1366.0,1493.1h1.45M1390.9,1458.7h1.45M1417.7,1488.5h1.45M1389.0,1455.6h1.45M1381.1,1451.2h1.45M1381.7,1450.9h1.45M1373.8,1447.3h1.45M1381.4,1438.4h1.45M1393.6,1411.8h1.45M1342.8,1471.3h1.45M1374.0,1454.5h1.45M1383.1,1454.0h1.45M1398.9,1469.1h1.45M1401.4,1453.3h1.45M1385.8,1433.6h1.45M1366.8,1488.1h1.45M1380.9,1495.1h1.45M1346.2,1460.5h1.45M1372.8,1475.6h1.45M1391.9,1466.2h1.45M1351.4,1420.4h1.45M1382.6,1446.7h1.45M1374.8,1434.0h1.45M1382.4,1443.4h1.45M1378.0,1441.7h1.45M1400.0,1459.4h1.45M1383.2,1483.2h1.45M1399.1,1439.8h1.45M1380.8,1470.8h1.45M1325.3,1442.4h1.45M1382.4,1455.7h1.45M1376.3,1452.7h1.45M1381.0,1461.2h1.45M1383.0,1455.9h1.45M1379.2,1464.2h1.45M1378.1,1462.3h1.45M1382.0,1447.6h1.45M1395.3,1456.8h1.45M1407.2,1484.1h1.45M1383.9,1440.7h1.45M1386.6,1458.9h1.45M1372.9,1450.5h1.45M1381.7,1477.1h1.45M1364.3,1452.3h1.45M1398.1,1404.7h1.45M1362.4,1496.0h1.45M1349.6,1500.3h1.45M1377.9,1506.6h1.45M1372.9,1455.3h1.45M1371.0,1467.2h1.45M1354.0,1475.0h1.45M1366.8,1505.3h1.45M1406.6,1458.8h1.45M1417.6,1468.0h1.45M1329.2,1461.0h1.45M1411.1,1459.6h1.45M1396.0,1500.3h1.45M1439.1,1494.1h1.45M1349.3,1425.5h1.45M1352.4,1478.7h1.45M1330.4,1444.7h1.45M1383.8,1464.5h1.45M1374.8,1495.2h1.45M1377.4,1387.9h1.45M1394.8,1510.8h1.45M1390.3,1483.4h1.45M1312.8,1477.8h1.45M1337.3,1400.3h1.45M1363.2,1490.1h1.45M1373.1,1459.5h1.45M1403.7,1474.2h1.45M1347.7,1468.9h1.45M1388.6,1461.1h1.45M1384.5,1417.3h1.45M1401.0,1489.5h1.45M1397.9,1504.7h1.45M1286.1,1482.9h1.45M1330.1,1461.8h1.45M1395.1,1431.5h1.45M1381.9,1464.3h1.45M1363.5,1414.9h1.45M1365.5,1468.1h1.45M1393.0,1462.9h1.45M1357.6,1422.6h1.45M1347.7,1477.5h1.45M1341.2,1510.8h1.45M1395.6,1464.4h1.45M1359.7,1464.6h1.45M1397.1,1522.0h1.45M1399.8,1450.2h1.45M1365.9,1423.7h1.45M1381.9,1471.2h1.45M1373.2,1460.5h1.45M1342.3,1496.1h1.45M1327.9,1444.4h1.45M1389.0,1478.4h1.45M1384.5,1483.7h1.45M1387.3,1490.0h1.45M1365.7,1499.8h1.45M1325.0,1519.0h1.45M1347.8,1510.0h1.45M1361.5,1422.3h1.45M1335.5,1466.4h1.45M1367.9,1438.0h1.45M1420.7,1479.2h1.45M1370.2,1470.2h1.45M1412.7,1490.6h1.45M1362.3,1490.0h1.45M1369.6,1481.1h1.45M1400.5,1492.3h1.45M1474.8,1516.1h1.45M1357.9,1416.2h1.45M1372.4,1501.9h1.45M1378.2,1488.1h1.45M1385.4,1491.4h1.45M1349.8,1440.8h1.45M1423.3,1509.9h1.45M1377.0,1496.3h1.45M1368.7,1504.6h1.45M1353.3,1448.3h1.45M1340.2,1406.9h1.45M1379.3,1450.8h1.45M1436.0,1460.3h1.45M1438.3,1448.5h1.45M1445.8,1471.2h1.45M1428.1,1461.4h1.45M1433.6,1437.4h1.45M1434.5,1453.7h1.45M1425.3,1444.2h1.45M1442.2,1437.8h1.45M1427.7,1459.0h1.45M1447.1,1466.5h1.45M1441.6,1464.4h1.45M1448.2,1459.7h1.45M1443.2,1414.7h1.45M1438.0,1490.8h1.45M1427.2,1451.7h1.45M1432.6,1458.3h1.45M1437.4,1434.8h1.45M1430.3,1453.7h1.45M1444.9,1435.9h1.45M1435.9,1447.1h1.45M1431.1,1448.2h1.45M1443.6,1460.2h1.45M1431.4,1442.5h1.45M1450.4,1489.0h1.45M1446.7,1464.2h1.45M1435.8,1448.7h1.45M1445.5,1445.2h1.45M1445.1,1439.2h1.45M1436.0,1453.7h1.45M1440.6,1458.4h1.45M1430.3,1482.5h1.45M1434.2,1452.2h1.45M1440.5,1460.2h1.45M1450.8,1445.5h1.45M1446.2,1441.4h1.45M1451.1,1347.6h1.45M1440.2,1350.0h1.45M1431.5,1357.9h1.45M1442.9,1359.1h1.45M1440.6,1362.6h1.45M1441.8,1355.0h1.45M1439.8,1358.4h1.45M1438.7,1357.9h1.45M1463.8,1335.7h1.45M1456.2,1349.1h1.45M1446.4,1358.0h1.45M1445.4,1354.8h1.45M1452.6,1343.4h1.45M1451.3,1343.8h1.45M1454.4,1346.3h1.45M1451.1,1354.7h1.45M1452.8,1350.7h1.45M1446.9,1357.6h1.45M1446.2,1361.8h1.45M1438.5,1353.7h1.45M1442.9,1345.8h1.45M1451.9,1358.6h1.45M1452.6,1343.5h1.45M1445.4,1347.7h1.45M1451.0,1359.5h1.45M1434.3,1364.9h1.45M1440.3,1358.6h1.45M1449.2,1356.4h1.45M1445.9,1358.3h1.45M1445.3,1356.9h1.45M1448.6,1356.4h1.45M1445.3,1359.5h1.45M1442.3,1355.9h1.45M1450.8,1349.8h1.45M1454.7,1353.0h1.45M1446.0,1355.9h1.45M1452.3,1344.5h1.45M1453.4,1353.7h1.45M1443.5,1365.8h1.45M1447.9,1356.6h1.45M1448.2,1349.8h1.45M1434.5,1357.0h1.45M1448.9,1359.4h1.45M1451.8,1354.0h1.45M1448.3,1362.2h1.45M1455.0,1359.2h1.45M1441.5,1360.2h1.45M1446.6,1355.7h1.45M1447.8,1352.3h1.45M1448.0,1353.7h1.45M1452.3,1360.8h1.45M1443.0,1353.3h1.45M1438.9,1355.3h1.45M1440.6,1360.5h1.45M1452.8,1352.1h1.45M1444.4,1360.6h1.45M1454.6,1354.2h1.45M1450.8,1347.1h1.45M1441.3,1359.8h1.45M1443.4,1361.4h1.45M1457.9,1347.2h1.45M1445.7,1359.4h1.45M1455.2,1344.2h1.45M1449.9,1347.7h1.45M1440.5,1355.1h1.45M1443.6,1354.9h1.45M1453.5,1352.6h1.45M1443.5,1362.5h1.45M1458.2,1351.1h1.45M1443.5,1355.0h1.45M1445.4,1364.1h1.45M1345.8,1405.5h1.45M1323.3,1433.8h1.45M1324.5,1459.8h1.45M1307.0,1415.4h1.45M1304.8,1414.5h1.45M1356.3,1421.7h1.45" stroke="#5661d9" stroke-width="1.45" fill="none"/>
<path d="M1389.2,1449.4h1.45M1389.1,1447.2h1.45M1378.2,1443.9h1.45M1384.3,1451.5h1.45M1391.1,1452.0h1.45M1377.4,1451.8h1.45M1384.5,1455.0h1.45M1371.5,1459.2h1.45M1385.2,1452.1h1.45M1386.0,1445.2h1.45M1380.0,1453.3h1.45M1386.2,1449.9h1.45M1387.4,1459.8h1.45M1374.8,1455.5h1.45M1380.8,1463.7h1.45M1450.0,1362.2h1.45M1448.7,1353.5h1.45M1440.7,1361.0h1.45M1444.1,1357.1h1.45M1445.8,1362.5h1.45M1441.6,1358.8h1.45M1439.5,1350.7h1.45M1450.0,1356.8h1.45M1444.2,1356.4h1.45M1454.7,1360.1h1.45M1441.9,1356.1h1.45M1450.4,1355.8h1.45M1447.1,1355.5h1.45M1450.1,1353.1h1.45M1456.2,1356.3h1.45M1441.9,1356.2h1.45M1451.4,1345.3h1.45M1443.3,1352.1h1.45M1447.5,1353.0h1.45M1439.4,1354.3h1.45M1450.0,1348.7h1.45M1446.9,1352.2h1.45M1448.3,1355.2h1.45M1450.1,1354.5h1.45M1453.0,1355.9h1.45M1445.8,1355.0h1.45M1446.1,1355.9h1.45M1437.2,1355.1h1.45M1452.1,1351.7h1.45M1442.3,1361.7h1.45M1455.2,1351.9h1.45M1448.5,1354.8h1.45M1441.2,1350.7h1.45M1441.5,1361.1h1.45M1460.6,1353.9h1.45M1438.9,1356.9h1.45M1452.7,1356.8h1.45M1446.0,1358.5h1.45M1450.6,1350.5h1.45M1450.5,1354.1h1.45M1442.9,1362.6h1.45M1445.8,1353.0h1.45M1450.8,1357.4h1.45M1457.2,1358.4h1.45M1458.1,1354.9h1.45M1449.3,1355.4h1.45M1456.2,1350.2h1.45M1448.4,1355.4h1.45M1441.8,1360.7h1.45M1444.4,1351.4h1.45" stroke="#2323aa" stroke-width="1.45" fill="none"/>
<path d="M1454.0,1352.1h1.5M1444.6,1352.8h1.5M1444.3,1354.1h1.5M1449.3,1349.8h1.5M1444.2,1355.2h1.5M1451.9,1350.2h1.5M1447.9,1353.0h1.5M1450.2,1354.6h1.5M1444.9,1354.0h1.5M1448.9,1349.9h1.5M1447.7,1351.5h1.5M1443.6,1353.2h1.5M1443.8,1353.8h1.5M1451.3,1349.6h1.5M1444.0,1354.5h1.5M1447.0,1358.0h1.5M1453.9,1355.7h1.5M1448.4,1350.7h1.5M1448.4,1352.7h1.5M1445.4,1356.3h1.5M1447.4,1359.0h1.5M1449.9,1356.6h1.5M1448.5,1356.3h1.5M1452.9,1350.5h1.5M1452.8,1351.0h1.5M1453.0,1352.9h1.5M1450.4,1356.0h1.5M1447.7,1350.0h1.5M1451.0,1355.0h1.5M1445.6,1349.8h1.5M1450.8,1351.0h1.5M1447.1,1355.4h1.5M1451.5,1353.4h1.5M1451.7,1352.7h1.5M1447.9,1356.1h1.5M1446.9,1352.0h1.5M1445.3,1357.9h1.5M1450.4,1348.9h1.5M1447.7,1349.7h1.5M1447.7,1359.2h1.5" stroke="#1cc0a0" stroke-width="1.5" fill="none"/>
<line x1="1300.0" y1="1544.1" x2="1455.0" y2="1544.1" stroke="#25307f" stroke-width="1.1" stroke-dasharray="2.2 1.6" opacity="0.75"/>
<line x1="1385.2" y1="1544.1" x2="1411.6" y2="1544.1" stroke="#b9d63c" stroke-width="1.2" opacity="0.75"/>
<rect x="1414.4" y="1333.4" width="60.6" height="49.0" fill="none" stroke="#4646cc" stroke-width="2"/>
<text x="1425.5" y="1319.6" font-size="20.6" text-anchor="start" fill="#111" >11.0</text>
<text x="3.5" y="1660.8" font-size="45" text-anchor="start" fill="#222" font-weight="bold">e</text>
<path d="M172.3,1710.1V2093H746.4" fill="none" stroke="#000" stroke-width="2.8"/>
<line x1="161.5" y1="1711.5" x2="172.3" y2="1711.5" stroke="#000" stroke-width="2.8" />
<text x="106.0" y="1729.0" font-size="36" text-anchor="start" fill="#000" >10<tspan font-size="24.5" dy="-17" dx="0.8">5</tspan></text>
<line x1="161.5" y1="1838.7" x2="172.3" y2="1838.7" stroke="#000" stroke-width="2.8" />
<text x="106.0" y="1856.2" font-size="36" text-anchor="start" fill="#000" >10<tspan font-size="24.5" dy="-17" dx="0.8">4</tspan></text>
<line x1="161.5" y1="1965.7" x2="172.3" y2="1965.7" stroke="#000" stroke-width="2.8" />
<text x="106.0" y="1983.2" font-size="36" text-anchor="start" fill="#000" >10<tspan font-size="24.5" dy="-17" dx="0.8">3</tspan></text>
<line x1="161.5" y1="2093.0" x2="172.3" y2="2093.0" stroke="#000" stroke-width="2.8" />
<text x="106.0" y="2110.5" font-size="36" text-anchor="start" fill="#000" >10<tspan font-size="24.5" dy="-17" dx="0.8">2</tspan></text>
<line x1="172.3" y1="2093.0" x2="172.3" y2="2105.0" stroke="#000" stroke-width="2.8" />
<text x="141.7" y="2143.8" font-size="36" text-anchor="start" fill="#000" >10<tspan font-size="24.5" dy="-19" dx="0.8">1</tspan></text>
<line x1="286.5" y1="2093.0" x2="286.5" y2="2105.0" stroke="#000" stroke-width="2.8" />
<text x="255.9" y="2143.8" font-size="36" text-anchor="start" fill="#000" >10<tspan font-size="24.5" dy="-19" dx="0.8">2</tspan></text>
<line x1="401.0" y1="2093.0" x2="401.0" y2="2105.0" stroke="#000" stroke-width="2.8" />
<text x="370.4" y="2143.8" font-size="36" text-anchor="start" fill="#000" >10<tspan font-size="24.5" dy="-19" dx="0.8">3</tspan></text>
<line x1="515.5" y1="2093.0" x2="515.5" y2="2105.0" stroke="#000" stroke-width="2.8" />
<text x="484.9" y="2143.8" font-size="36" text-anchor="start" fill="#000" >10<tspan font-size="24.5" dy="-19" dx="0.8">4</tspan></text>
<line x1="630.0" y1="2093.0" x2="630.0" y2="2105.0" stroke="#000" stroke-width="2.8" />
<text x="599.4" y="2143.8" font-size="36" text-anchor="start" fill="#000" >10<tspan font-size="24.5" dy="-19" dx="0.8">5</tspan></text>
<line x1="745.0" y1="2093.0" x2="745.0" y2="2105.0" stroke="#000" stroke-width="2.8" />
<text x="714.4" y="2143.8" font-size="36" text-anchor="start" fill="#000" >10<tspan font-size="24.5" dy="-19" dx="0.8">6</tspan></text>
<text x="195.5" y="2186.6" font-size="37.6" text-anchor="start" fill="#000" >Concentration of IgG2b (ng/ml)</text>
<text transform="translate(84,2105) rotate(-90)" font-size="36.6" fill="#000">IgG2b anti-HA107 (MFI)</text>
<polyline points="192.0,1973.0 243.0,1972.0 318.4,1978.5 374.5,1954.0 428.8,1936.4 481.5,1916.4 535.8,1886.6 590.2,1861.0" fill="none" stroke="#ff2600" stroke-width="2.8"/>
<circle cx="192.0" cy="1973.0" r="11" fill="#ff2600"/><circle cx="243.0" cy="1972.0" r="11" fill="#ff2600"/><circle cx="318.4" cy="1978.5" r="11" fill="#ff2600"/><circle cx="374.5" cy="1954.0" r="11" fill="#ff2600"/><circle cx="428.8" cy="1936.4" r="11" fill="#ff2600"/><circle cx="481.5" cy="1916.4" r="11" fill="#ff2600"/><circle cx="535.8" cy="1886.6" r="11" fill="#ff2600"/><circle cx="590.2" cy="1861.0" r="11" fill="#ff2600"/>
<polyline points="188.0,1970.0 247.0,1973.0 332.4,1955.7 388.5,1950.5 441.1,1927.7 495.5,1904.9 549.9,1875.0 605.3,1849.8" fill="none" stroke="#ff2600" stroke-width="2.8"/>
<circle cx="188.0" cy="1970.0" r="11" fill="#ff2600"/><circle cx="247.0" cy="1973.0" r="11" fill="#ff2600"/><circle cx="332.4" cy="1955.7" r="11" fill="#ff2600"/><circle cx="388.5" cy="1950.5" r="11" fill="#ff2600"/><circle cx="441.1" cy="1927.7" r="11" fill="#ff2600"/><circle cx="495.5" cy="1904.9" r="11" fill="#ff2600"/><circle cx="549.9" cy="1875.0" r="11" fill="#ff2600"/><circle cx="605.3" cy="1849.8" r="11" fill="#ff2600"/>
<polyline points="243.0,1972.0 300.0,1971.0 356.0,1972.0 427.0,1958.0 481.5,1941.7 535.8,1927.7 590.2,1907.7" fill="none" stroke="#ff2600" stroke-width="2.8"/>
<circle cx="243.0" cy="1972.0" r="11" fill="#ff2600"/><circle cx="300.0" cy="1971.0" r="11" fill="#ff2600"/><circle cx="356.0" cy="1972.0" r="11" fill="#ff2600"/><circle cx="427.0" cy="1958.0" r="11" fill="#ff2600"/><circle cx="481.5" cy="1941.7" r="11" fill="#ff2600"/><circle cx="535.8" cy="1927.7" r="11" fill="#ff2600"/><circle cx="590.2" cy="1907.7" r="11" fill="#ff2600"/>
<polyline points="321.9,1941.0 381.5,1894.3 435.9,1862.8 490.9,1834.7 545.7,1804.9 600.0,1776.1 655.1,1791.6" fill="none" stroke="#0433ff" stroke-width="2.8"/>
<circle cx="321.9" cy="1941.0" r="11" fill="#0433ff"/><circle cx="381.5" cy="1894.3" r="11" fill="#0433ff"/><circle cx="435.9" cy="1862.8" r="11" fill="#0433ff"/><circle cx="490.9" cy="1834.7" r="11" fill="#0433ff"/><circle cx="545.7" cy="1804.9" r="11" fill="#0433ff"/><circle cx="600.0" cy="1776.1" r="11" fill="#0433ff"/><circle cx="655.1" cy="1791.6" r="11" fill="#0433ff"/>
<polyline points="321.9,1952.0 377.0,1911.9 431.7,1884.5 486.0,1847.0 541.1,1813.7 595.5,1796.1" fill="none" stroke="#0433ff" stroke-width="2.8"/>
<circle cx="321.9" cy="1952.0" r="11" fill="#0433ff"/><circle cx="377.0" cy="1911.9" r="11" fill="#0433ff"/><circle cx="431.7" cy="1884.5" r="11" fill="#0433ff"/><circle cx="486.0" cy="1847.0" r="11" fill="#0433ff"/><circle cx="541.1" cy="1813.7" r="11" fill="#0433ff"/><circle cx="595.5" cy="1796.1" r="11" fill="#0433ff"/>
<polyline points="321.9,1958.0 377.0,1934.7 431.7,1910.1 486.0,1883.1 541.1,1844.5 595.5,1829.4" fill="none" stroke="#0433ff" stroke-width="2.8"/>
<circle cx="321.9" cy="1958.0" r="11" fill="#0433ff"/><circle cx="377.0" cy="1934.7" r="11" fill="#0433ff"/><circle cx="431.7" cy="1910.1" r="11" fill="#0433ff"/><circle cx="486.0" cy="1883.1" r="11" fill="#0433ff"/><circle cx="541.1" cy="1844.5" r="11" fill="#0433ff"/><circle cx="595.5" cy="1829.4" r="11" fill="#0433ff"/>
<polyline points="321.9,1959.2 372.7,1947.0 427.1,1927.7 481.5,1906.6 535.8,1884.9 590.2,1859.3" fill="none" stroke="#942193" stroke-width="2.8"/>
<circle cx="321.9" cy="1959.2" r="11" fill="#942193"/><circle cx="372.7" cy="1947.0" r="11" fill="#942193"/><circle cx="427.1" cy="1927.7" r="11" fill="#942193"/><circle cx="481.5" cy="1906.6" r="11" fill="#942193"/><circle cx="535.8" cy="1884.9" r="11" fill="#942193"/><circle cx="590.2" cy="1859.3" r="11" fill="#942193"/>
<polyline points="321.0,1965.0 376.0,1960.0 430.6,1949.0 483.2,1938.2 537.6,1918.9 592.6,1892.6" fill="none" stroke="#942193" stroke-width="2.8"/>
<circle cx="321.0" cy="1965.0" r="11" fill="#942193"/><circle cx="376.0" cy="1960.0" r="11" fill="#942193"/><circle cx="430.6" cy="1949.0" r="11" fill="#942193"/><circle cx="483.2" cy="1938.2" r="11" fill="#942193"/><circle cx="537.6" cy="1918.9" r="11" fill="#942193"/><circle cx="592.6" cy="1892.6" r="11" fill="#942193"/>
<polyline points="202.6,1969.7 255.0,1966.0 310.0,1961.0 364.0,1966.0 418.0,1958.0 478.0,1950.5" fill="none" stroke="#aa7942" stroke-width="2.8"/>
<circle cx="202.6" cy="1969.7" r="11" fill="#aa7942"/><circle cx="255.0" cy="1966.0" r="11" fill="#aa7942"/><circle cx="310.0" cy="1961.0" r="11" fill="#aa7942"/><circle cx="364.0" cy="1966.0" r="11" fill="#aa7942"/><circle cx="418.0" cy="1958.0" r="11" fill="#aa7942"/><circle cx="478.0" cy="1950.5" r="11" fill="#aa7942"/>
<polyline points="196.0,1968.0 244.7,1962.7 304.0,1957.5 357.0,1964.0 423.6,1954.0 464.0,1947.0" fill="none" stroke="#aa7942" stroke-width="2.8"/>
<circle cx="196.0" cy="1968.0" r="11" fill="#aa7942"/><circle cx="244.7" cy="1962.7" r="11" fill="#aa7942"/><circle cx="304.0" cy="1957.5" r="11" fill="#aa7942"/><circle cx="357.0" cy="1964.0" r="11" fill="#aa7942"/><circle cx="423.6" cy="1954.0" r="11" fill="#aa7942"/><circle cx="464.0" cy="1947.0" r="11" fill="#aa7942"/>
<polyline points="190.0,1971.0 248.0,1968.0 297.0,1960.0 352.0,1969.0 409.0,1962.0 470.0,1953.0" fill="none" stroke="#aa7942" stroke-width="2.8"/>
<circle cx="190.0" cy="1971.0" r="11" fill="#aa7942"/><circle cx="248.0" cy="1968.0" r="11" fill="#aa7942"/><circle cx="297.0" cy="1960.0" r="11" fill="#aa7942"/><circle cx="352.0" cy="1969.0" r="11" fill="#aa7942"/><circle cx="409.0" cy="1962.0" r="11" fill="#aa7942"/><circle cx="470.0" cy="1953.0" r="11" fill="#aa7942"/>
<polyline points="184.0,1966.2 237.7,1971.5 293.8,1968.0 350.0,1971.5 404.3,1968.0 458.7,1957.5" fill="none" stroke="#000" stroke-width="2.8"/>
<circle cx="184.0" cy="1966.2" r="11" fill="#000"/><circle cx="237.7" cy="1971.5" r="11" fill="#000"/><circle cx="293.8" cy="1968.0" r="11" fill="#000"/><circle cx="350.0" cy="1971.5" r="11" fill="#000"/><circle cx="404.3" cy="1968.0" r="11" fill="#000"/><circle cx="458.7" cy="1957.5" r="11" fill="#000"/>
<polyline points="188.0,1970.0 243.0,1972.0 298.0,1970.0 354.0,1973.0 408.0,1970.0 465.7,1961.0" fill="none" stroke="#000" stroke-width="2.8"/>
<circle cx="188.0" cy="1970.0" r="11" fill="#000"/><circle cx="243.0" cy="1972.0" r="11" fill="#000"/><circle cx="298.0" cy="1970.0" r="11" fill="#000"/><circle cx="354.0" cy="1973.0" r="11" fill="#000"/><circle cx="408.0" cy="1970.0" r="11" fill="#000"/><circle cx="465.7" cy="1961.0" r="11" fill="#000"/>
<polyline points="192.0,1975.0 247.0,1974.0 302.0,1973.0 358.0,1975.0 411.5,1973.0 458.7,1971.5" fill="none" stroke="#000" stroke-width="2.8"/>
<circle cx="192.0" cy="1975.0" r="11" fill="#000"/><circle cx="247.0" cy="1974.0" r="11" fill="#000"/><circle cx="302.0" cy="1973.0" r="11" fill="#000"/><circle cx="358.0" cy="1975.0" r="11" fill="#000"/><circle cx="411.5" cy="1973.0" r="11" fill="#000"/><circle cx="458.7" cy="1971.5" r="11" fill="#000"/>
<line x1="68.9" y1="2244.8" x2="118.3" y2="2244.8" stroke="#000" stroke-width="2" />
<circle cx="93.6" cy="2244.8" r="13.3" fill="#000"/>
<text x="144.8" y="2257.1" font-size="36.15" text-anchor="start" fill="#000" >Germ-free</text>
<line x1="68.9" y1="2307.9" x2="118.3" y2="2307.9" stroke="#aa7942" stroke-width="2" />
<circle cx="93.6" cy="2307.9" r="13.3" fill="#aa7942"/>
<text x="144.8" y="2320.2" font-size="36.15" text-anchor="start" fill="#000" >Intestinal exposure (i.g.)</text>
<line x1="68.9" y1="2371.0" x2="118.3" y2="2371.0" stroke="#942193" stroke-width="2" />
<circle cx="93.6" cy="2371.0" r="13.3" fill="#942193"/>
<text x="144.8" y="2383.3" font-size="36.15" text-anchor="start" fill="#000" >Systemic exposure (i.v.)</text>
<line x1="68.9" y1="2433.8" x2="118.3" y2="2433.8" stroke="#ff2600" stroke-width="2" />
<circle cx="93.6" cy="2433.8" r="13.3" fill="#ff2600"/>
<text x="144.8" y="2446.1" font-size="36.15" text-anchor="start" fill="#000" >Anti-CD4 + intestinal exposure (i.g.) + systemic exposure (i.v.)</text>
<line x1="68.9" y1="2497.0" x2="118.3" y2="2497.0" stroke="#0433ff" stroke-width="2" />
<circle cx="93.6" cy="2497.0" r="13.3" fill="#0433ff"/>
<text x="144.8" y="2509.3" font-size="36.15" text-anchor="start" fill="#000" >Isotype + intestinal exposure (i.g.) + systemic exposure (i.v.)</text>
<text x="886.0" y="1690.8" font-size="44" text-anchor="start" fill="#222" font-weight="bold">f</text>
<polygon points="1053.5,1709.0 1205.4,1818.0 1205.2,2078.9" fill="#ff2600" fill-opacity="0.5"/>
<polygon points="1161.6,1701.6 1060.8,1810.3 1060.8,1883.0" fill="#942193" fill-opacity="0.5"/>
<polygon points="1392.9,1701.3 1312.2,1753.5 1457.3,1812.8" fill="#aa7942" fill-opacity="0.5"/>
<polygon points="1090.8,1971.4 1093.5,2076.1 1167.1,2147.3" fill="#0433ff" fill-opacity="0.5"/>
<polygon points="1407.9,2022.4 1444.2,2018.4 1457.3,2146.1" fill="#000" fill-opacity="0.5"/>
<polygon points="1042.1,1709.0 1053.5,1697.6 1064.9,1709.0 1053.5,1720.4" fill="#ff2600"/>
<polygon points="1194.0,1818.0 1205.4,1806.6 1216.8,1818.0 1205.4,1829.4" fill="#ff2600"/>
<polygon points="1193.8,2078.9 1205.2,2067.5 1216.6,2078.9 1205.2,2090.3" fill="#ff2600"/>
<polygon points="1150.2,1701.6 1161.6,1690.2 1173.0,1701.6 1161.6,1713.0" fill="#942193"/>
<polygon points="1049.4,1810.3 1060.8,1798.9 1072.2,1810.3 1060.8,1821.7" fill="#942193"/>
<polygon points="1049.4,1883.0 1060.8,1871.6 1072.2,1883.0 1060.8,1894.4" fill="#942193"/>
<polygon points="1381.5,1701.3 1392.9,1689.9 1404.3,1701.3 1392.9,1712.7" fill="#aa7942"/>
<polygon points="1300.8,1753.5 1312.2,1742.1 1323.6,1753.5 1312.2,1764.9" fill="#aa7942"/>
<polygon points="1445.9,1812.8 1457.3,1801.4 1468.7,1812.8 1457.3,1824.2" fill="#aa7942"/>
<polygon points="1079.4,1971.4 1090.8,1960.0 1102.2,1971.4 1090.8,1982.8" fill="#0433ff"/>
<polygon points="1082.1,2076.1 1093.5,2064.7 1104.9,2076.1 1093.5,2087.5" fill="#0433ff"/>
<polygon points="1155.7,2147.3 1167.1,2135.9 1178.5,2147.3 1167.1,2158.7" fill="#0433ff"/>
<polygon points="1396.5,2022.4 1407.9,2011.0 1419.3,2022.4 1407.9,2033.8" fill="#000"/>
<polygon points="1432.8,2018.4 1444.2,2007.0 1455.6,2018.4 1444.2,2029.8" fill="#000"/>
<polygon points="1445.9,2146.1 1457.3,2134.7 1468.7,2146.1 1457.3,2157.5" fill="#000"/>
<rect x="1037.4" y="1682.7" width="436.5" height="482.0" fill="none" stroke="#000" stroke-width="1.5"/>
<line x1="1037.0" y1="2164.7" x2="1436.7" y2="2164.7" stroke="#000" stroke-width="2.4" />
<line x1="1038.2" y1="2164.7" x2="1038.2" y2="2175.6" stroke="#000" stroke-width="2.4" />
<line x1="1104.6" y1="2164.7" x2="1104.6" y2="2175.6" stroke="#000" stroke-width="2.4" />
<line x1="1170.6" y1="2164.7" x2="1170.6" y2="2175.6" stroke="#000" stroke-width="2.4" />
<line x1="1236.7" y1="2164.7" x2="1236.7" y2="2175.6" stroke="#000" stroke-width="2.4" />
<line x1="1303.1" y1="2164.7" x2="1303.1" y2="2175.6" stroke="#000" stroke-width="2.4" />
<line x1="1369.2" y1="2164.7" x2="1369.2" y2="2175.6" stroke="#000" stroke-width="2.4" />
<line x1="1435.5" y1="2164.7" x2="1435.5" y2="2175.6" stroke="#000" stroke-width="2.4" />
<line x1="1037.4" y1="1726.8" x2="1037.4" y2="2100.1" stroke="#000" stroke-width="2.1" />
<line x1="1037.4" y1="1727.8" x2="1027.3" y2="1727.8" stroke="#000" stroke-width="2" />
<line x1="1037.4" y1="1820.7" x2="1027.3" y2="1820.7" stroke="#000" stroke-width="2" />
<line x1="1037.4" y1="1913.6" x2="1027.3" y2="1913.6" stroke="#000" stroke-width="2" />
<line x1="1037.4" y1="2006.5" x2="1027.3" y2="2006.5" stroke="#000" stroke-width="2" />
<line x1="1037.4" y1="2099.1" x2="1027.3" y2="2099.1" stroke="#000" stroke-width="2" />
<text x="1018.4" y="2201.0" font-size="28.2" text-anchor="start" fill="#000" >−1.5</text>
<text x="1084.5" y="2201.0" font-size="28.2" text-anchor="start" fill="#000" >−1.0</text>
<text x="1151.2" y="2201.0" font-size="28.2" text-anchor="start" fill="#000" >−0.5</text>
<text x="1228.4" y="2201.0" font-size="28.2" text-anchor="start" fill="#000" >0</text>
<text x="1288.4" y="2201.0" font-size="28.2" text-anchor="start" fill="#000" >0.5</text>
<text x="1356.4" y="2201.0" font-size="28.2" text-anchor="start" fill="#000" >1.0</text>
<text x="1422.4" y="2201.0" font-size="28.2" text-anchor="start" fill="#000" >1.5</text>
<text transform="translate(1020.6,1729.4) rotate(-90)" font-size="28.2" text-anchor="middle" fill="#000">1.0</text>
<text transform="translate(1020.6,1821.5) rotate(-90)" font-size="28.2" text-anchor="middle" fill="#000">0.5</text>
<text transform="translate(1020.6,1914.3) rotate(-90)" font-size="28.2" text-anchor="middle" fill="#000">0</text>
<text transform="translate(1020.6,2008.5) rotate(-90)" font-size="28.2" text-anchor="middle" fill="#000">−0.5</text>
<text transform="translate(1020.6,2101) rotate(-90)" font-size="28.2" text-anchor="middle" fill="#000">−1.0</text>
<text transform="translate(974,1899) rotate(-90)" font-size="36.4" text-anchor="middle" fill="#000">mds2</text>
<text x="1257.0" y="2245.2" font-size="36.4" text-anchor="middle" fill="#000" >mds1</text>
<text x="1144.0" y="1751.6" font-size="30.8" text-anchor="start" fill="#7a1c86" >i.v.</text>
<text x="1387.3" y="1803.0" font-size="30.5" text-anchor="start" fill="#a0733f" >i.g.</text>
<text x="1104.5" y="1900.5" font-size="30.3" text-anchor="start" fill="#f02a0a" >Anti-CD4 + i.g. + i.v.</text>
<text x="1320.8" y="2071.0" font-size="30.2" text-anchor="start" fill="#000" >Germ-free</text>
<text x="1084.6" y="2122.0" font-size="30.2" text-anchor="start" fill="#0a36f5" >Isotype + i.g. + i.v.</text>
</svg>
</body></html>
